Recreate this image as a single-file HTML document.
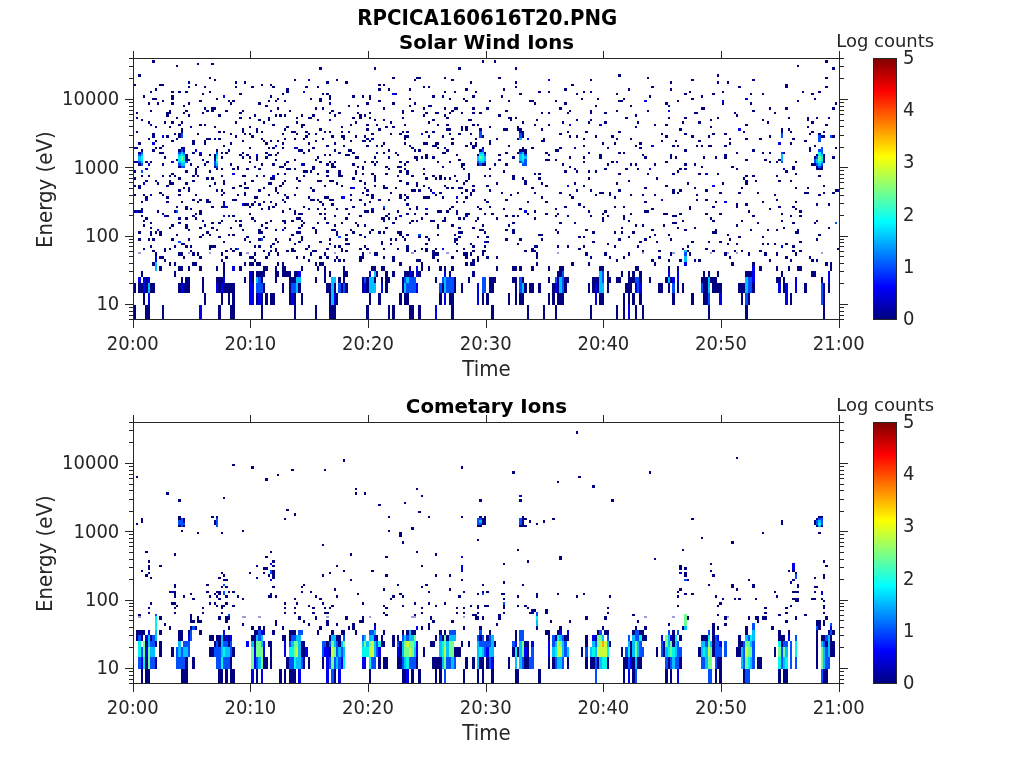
<!DOCTYPE html>
<html><head><meta charset="utf-8"><style>
html,body{margin:0;padding:0;background:#fff;}
svg{display:block}
.tl{font-family:'DejaVu Sans','Liberation Sans',sans-serif;font-size:18px;fill:#262626}
.lb{font-family:'DejaVu Sans','Liberation Sans',sans-serif;font-size:19.8px;fill:#262626}
.cl{font-family:'DejaVu Sans','Liberation Sans',sans-serif;font-size:18px;fill:#262626}
.tt{font-family:'DejaVu Sans','Liberation Sans',sans-serif;font-size:19.8px;font-weight:bold;fill:#000}
</style></head><body>
<svg width="1024" height="768" viewBox="0 0 1024 768" shape-rendering="crispEdges">
<defs><linearGradient id="jet" x1="0" y1="0" x2="0" y2="1"><stop offset="0.0000" stop-color="#800000"/><stop offset="0.0156" stop-color="#8f0000"/><stop offset="0.0312" stop-color="#9f0000"/><stop offset="0.0469" stop-color="#af0000"/><stop offset="0.0625" stop-color="#bf0000"/><stop offset="0.0781" stop-color="#cf0000"/><stop offset="0.0938" stop-color="#df0000"/><stop offset="0.1094" stop-color="#ef0000"/><stop offset="0.1250" stop-color="#ff0000"/><stop offset="0.1406" stop-color="#ff1000"/><stop offset="0.1562" stop-color="#ff2000"/><stop offset="0.1719" stop-color="#ff3000"/><stop offset="0.1875" stop-color="#ff4000"/><stop offset="0.2031" stop-color="#ff5000"/><stop offset="0.2188" stop-color="#ff6000"/><stop offset="0.2344" stop-color="#ff7000"/><stop offset="0.2500" stop-color="#ff8000"/><stop offset="0.2656" stop-color="#ff8f00"/><stop offset="0.2812" stop-color="#ff9f00"/><stop offset="0.2969" stop-color="#ffaf00"/><stop offset="0.3125" stop-color="#ffbf00"/><stop offset="0.3281" stop-color="#ffcf00"/><stop offset="0.3438" stop-color="#ffdf00"/><stop offset="0.3594" stop-color="#ffef00"/><stop offset="0.3750" stop-color="#ffff00"/><stop offset="0.3906" stop-color="#efff10"/><stop offset="0.4062" stop-color="#dfff20"/><stop offset="0.4219" stop-color="#cfff30"/><stop offset="0.4375" stop-color="#bfff40"/><stop offset="0.4531" stop-color="#afff50"/><stop offset="0.4688" stop-color="#9fff60"/><stop offset="0.4844" stop-color="#8fff70"/><stop offset="0.5000" stop-color="#80ff80"/><stop offset="0.5156" stop-color="#70ff8f"/><stop offset="0.5312" stop-color="#60ff9f"/><stop offset="0.5469" stop-color="#50ffaf"/><stop offset="0.5625" stop-color="#40ffbf"/><stop offset="0.5781" stop-color="#30ffcf"/><stop offset="0.5938" stop-color="#20ffdf"/><stop offset="0.6094" stop-color="#10ffef"/><stop offset="0.6250" stop-color="#00ffff"/><stop offset="0.6406" stop-color="#00efff"/><stop offset="0.6562" stop-color="#00dfff"/><stop offset="0.6719" stop-color="#00cfff"/><stop offset="0.6875" stop-color="#00bfff"/><stop offset="0.7031" stop-color="#00afff"/><stop offset="0.7188" stop-color="#009fff"/><stop offset="0.7344" stop-color="#008fff"/><stop offset="0.7500" stop-color="#0080ff"/><stop offset="0.7656" stop-color="#0070ff"/><stop offset="0.7812" stop-color="#0060ff"/><stop offset="0.7969" stop-color="#0050ff"/><stop offset="0.8125" stop-color="#0040ff"/><stop offset="0.8281" stop-color="#0030ff"/><stop offset="0.8438" stop-color="#0020ff"/><stop offset="0.8594" stop-color="#0010ff"/><stop offset="0.8750" stop-color="#0000ff"/><stop offset="0.8906" stop-color="#0000ef"/><stop offset="0.9062" stop-color="#0000df"/><stop offset="0.9219" stop-color="#0000cf"/><stop offset="0.9375" stop-color="#0000bf"/><stop offset="0.9531" stop-color="#0000af"/><stop offset="0.9688" stop-color="#00009f"/><stop offset="0.9844" stop-color="#00008f"/><stop offset="1.0000" stop-color="#000080"/></linearGradient></defs>
<rect width="1024" height="768" fill="#fff"/>
<g id="data0" shape-rendering="crispEdges"><g><rect x="821" y="252" width="2" height="2" fill="#9c9cd6"/><rect x="736" y="252" width="2" height="2" fill="#9c9cd6"/><rect x="727" y="252" width="2" height="2" fill="#9c9cd6"/><rect x="710" y="252" width="2" height="2" fill="#9c9cd6"/><rect x="672" y="252" width="3" height="2" fill="#9c9cd6"/><rect x="642" y="252" width="2" height="2" fill="#9c9cd6"/><rect x="557" y="252" width="2" height="2" fill="#9c9cd6"/><rect x="446" y="252" width="3" height="2" fill="#9c9cd6"/><rect x="411" y="252" width="3" height="2" fill="#9c9cd6"/><rect x="369" y="252" width="2" height="2" fill="#9c9cd6"/><rect x="334" y="252" width="2" height="2" fill="#9c9cd6"/><rect x="246" y="252" width="3" height="2" fill="#9c9cd6"/><rect x="221" y="252" width="2" height="2" fill="#9c9cd6"/><rect x="209" y="252" width="2" height="2" fill="#9c9cd6"/><rect x="188" y="252" width="2" height="2" fill="#9c9cd6"/><rect x="138" y="252" width="3" height="2" fill="#9c9cd6"/><rect x="134" y="305" width="2" height="15" fill="#000080"/><rect x="145" y="305" width="5" height="15" fill="#000080"/><rect x="162" y="305" width="2" height="15" fill="#000080"/><rect x="199" y="305" width="3" height="15" fill="#0000f0"/><rect x="218" y="305" width="3" height="15" fill="#000080"/><rect x="230" y="305" width="5" height="15" fill="#000080"/><rect x="261" y="305" width="2" height="15" fill="#000080"/><rect x="294" y="305" width="2" height="15" fill="#000080"/><rect x="315" y="305" width="2" height="15" fill="#000080"/><rect x="329" y="305" width="7" height="15" fill="#000080"/><rect x="366" y="305" width="3" height="15" fill="#000080"/><rect x="388" y="305" width="2" height="15" fill="#000080"/><rect x="392" y="305" width="3" height="15" fill="#000080"/><rect x="409" y="305" width="5" height="15" fill="#000080"/><rect x="418" y="305" width="3" height="15" fill="#000080"/><rect x="435" y="305" width="2" height="15" fill="#0000f0"/><rect x="451" y="305" width="3" height="15" fill="#000080"/><rect x="491" y="305" width="3" height="15" fill="#000080"/><rect x="527" y="305" width="2" height="15" fill="#000080"/><rect x="543" y="305" width="2" height="15" fill="#000080"/><rect x="555" y="305" width="2" height="15" fill="#000080"/><rect x="590" y="305" width="2" height="15" fill="#000080"/><rect x="616" y="305" width="2" height="15" fill="#000080"/><rect x="623" y="305" width="2" height="15" fill="#000080"/><rect x="628" y="305" width="2" height="15" fill="#0000f0"/><rect x="635" y="305" width="2" height="15" fill="#000080"/><rect x="642" y="305" width="2" height="15" fill="#000080"/><rect x="708" y="305" width="2" height="15" fill="#000080"/><rect x="745" y="305" width="3" height="15" fill="#000080"/><rect x="823" y="305" width="2" height="15" fill="#000080"/><rect x="143" y="293" width="2" height="12" fill="#000080"/><rect x="148" y="293" width="2" height="12" fill="#0000f0"/><rect x="204" y="293" width="2" height="12" fill="#000080"/><rect x="221" y="293" width="2" height="12" fill="#000080"/><rect x="228" y="293" width="2" height="12" fill="#000080"/><rect x="232" y="293" width="3" height="12" fill="#000080"/><rect x="249" y="293" width="5" height="12" fill="#0000f0"/><rect x="256" y="293" width="2" height="12" fill="#000080"/><rect x="258" y="293" width="3" height="12" fill="#0000f0"/><rect x="261" y="293" width="2" height="12" fill="#000080"/><rect x="265" y="293" width="3" height="12" fill="#000080"/><rect x="270" y="293" width="5" height="12" fill="#000080"/><rect x="289" y="293" width="2" height="12" fill="#000080"/><rect x="291" y="293" width="3" height="12" fill="#0000f0"/><rect x="294" y="293" width="2" height="12" fill="#000080"/><rect x="301" y="293" width="2" height="12" fill="#000080"/><rect x="329" y="293" width="2" height="12" fill="#000080"/><rect x="331" y="293" width="3" height="12" fill="#00c0ff"/><rect x="334" y="293" width="2" height="12" fill="#0000f0"/><rect x="336" y="293" width="2" height="12" fill="#000080"/><rect x="369" y="293" width="2" height="12" fill="#000080"/><rect x="378" y="293" width="3" height="12" fill="#000080"/><rect x="399" y="293" width="3" height="12" fill="#000080"/><rect x="404" y="293" width="5" height="12" fill="#000080"/><rect x="439" y="293" width="3" height="12" fill="#000080"/><rect x="444" y="293" width="2" height="12" fill="#0000f0"/><rect x="449" y="293" width="5" height="12" fill="#000080"/><rect x="477" y="293" width="2" height="12" fill="#0000f0"/><rect x="482" y="293" width="2" height="12" fill="#000080"/><rect x="486" y="293" width="3" height="12" fill="#000080"/><rect x="508" y="293" width="2" height="12" fill="#000080"/><rect x="515" y="293" width="2" height="12" fill="#000080"/><rect x="519" y="293" width="5" height="12" fill="#000080"/><rect x="548" y="293" width="2" height="12" fill="#000080"/><rect x="552" y="293" width="3" height="12" fill="#000080"/><rect x="557" y="293" width="7" height="12" fill="#000080"/><rect x="595" y="293" width="2" height="12" fill="#0000f0"/><rect x="599" y="293" width="5" height="12" fill="#000080"/><rect x="623" y="293" width="2" height="12" fill="#000080"/><rect x="628" y="293" width="2" height="12" fill="#000080"/><rect x="632" y="293" width="3" height="12" fill="#000080"/><rect x="639" y="293" width="3" height="12" fill="#000080"/><rect x="672" y="293" width="3" height="12" fill="#000080"/><rect x="691" y="293" width="3" height="12" fill="#000080"/><rect x="703" y="293" width="5" height="12" fill="#000080"/><rect x="708" y="293" width="2" height="12" fill="#0050ff"/><rect x="719" y="293" width="3" height="12" fill="#0000f0"/><rect x="741" y="293" width="2" height="12" fill="#000080"/><rect x="745" y="293" width="3" height="12" fill="#0050ff"/><rect x="748" y="293" width="2" height="12" fill="#000080"/><rect x="785" y="293" width="3" height="12" fill="#0000f0"/><rect x="790" y="293" width="2" height="12" fill="#000080"/><rect x="821" y="293" width="2" height="12" fill="#0050ff"/><rect x="823" y="293" width="2" height="12" fill="#000080"/><rect x="134" y="283" width="2" height="10" fill="#000080"/><rect x="138" y="283" width="5" height="10" fill="#000080"/><rect x="143" y="283" width="2" height="10" fill="#0000f0"/><rect x="145" y="283" width="3" height="10" fill="#000080"/><rect x="148" y="283" width="2" height="10" fill="#00c0ff"/><rect x="150" y="283" width="5" height="10" fill="#000080"/><rect x="178" y="283" width="3" height="10" fill="#000080"/><rect x="181" y="283" width="2" height="10" fill="#0000f0"/><rect x="183" y="283" width="7" height="10" fill="#000080"/><rect x="202" y="283" width="2" height="10" fill="#000080"/><rect x="216" y="283" width="2" height="10" fill="#0000f0"/><rect x="218" y="283" width="3" height="10" fill="#000080"/><rect x="221" y="283" width="2" height="10" fill="#0000f0"/><rect x="223" y="283" width="12" height="10" fill="#000080"/><rect x="249" y="283" width="5" height="10" fill="#0000f0"/><rect x="256" y="283" width="7" height="10" fill="#0050ff"/><rect x="263" y="283" width="2" height="10" fill="#000080"/><rect x="282" y="283" width="2" height="10" fill="#000080"/><rect x="289" y="283" width="2" height="10" fill="#000080"/><rect x="291" y="283" width="5" height="10" fill="#0050ff"/><rect x="296" y="283" width="2" height="10" fill="#00c0ff"/><rect x="298" y="283" width="3" height="10" fill="#000080"/><rect x="326" y="283" width="5" height="10" fill="#000080"/><rect x="331" y="283" width="3" height="10" fill="#00c0ff"/><rect x="334" y="283" width="2" height="10" fill="#000080"/><rect x="338" y="283" width="3" height="10" fill="#0050ff"/><rect x="341" y="283" width="2" height="10" fill="#000080"/><rect x="343" y="283" width="2" height="10" fill="#0050ff"/><rect x="345" y="283" width="3" height="10" fill="#000080"/><rect x="362" y="283" width="2" height="10" fill="#000080"/><rect x="364" y="283" width="2" height="10" fill="#0000f0"/><rect x="366" y="283" width="3" height="10" fill="#000080"/><rect x="369" y="283" width="7" height="10" fill="#00c0ff"/><rect x="381" y="283" width="2" height="10" fill="#0000f0"/><rect x="385" y="283" width="3" height="10" fill="#000080"/><rect x="402" y="283" width="2" height="10" fill="#000080"/><rect x="404" y="283" width="2" height="10" fill="#00c0ff"/><rect x="406" y="283" width="10" height="10" fill="#0050ff"/><rect x="416" y="283" width="2" height="10" fill="#0000f0"/><rect x="439" y="283" width="3" height="10" fill="#0050ff"/><rect x="442" y="283" width="2" height="10" fill="#000080"/><rect x="444" y="283" width="2" height="10" fill="#00c0ff"/><rect x="446" y="283" width="8" height="10" fill="#0050ff"/><rect x="454" y="283" width="2" height="10" fill="#000080"/><rect x="461" y="283" width="2" height="10" fill="#000080"/><rect x="477" y="283" width="2" height="10" fill="#0000f0"/><rect x="482" y="283" width="4" height="10" fill="#0050ff"/><rect x="489" y="283" width="5" height="10" fill="#000080"/><rect x="515" y="283" width="2" height="10" fill="#000080"/><rect x="519" y="283" width="3" height="10" fill="#0050ff"/><rect x="522" y="283" width="2" height="10" fill="#00c0ff"/><rect x="524" y="283" width="3" height="10" fill="#000080"/><rect x="529" y="283" width="5" height="10" fill="#000080"/><rect x="538" y="283" width="3" height="10" fill="#000080"/><rect x="552" y="283" width="3" height="10" fill="#000080"/><rect x="555" y="283" width="2" height="10" fill="#0000f0"/><rect x="557" y="283" width="2" height="10" fill="#000080"/><rect x="559" y="283" width="3" height="10" fill="#00c0ff"/><rect x="562" y="283" width="2" height="10" fill="#0050ff"/><rect x="564" y="283" width="3" height="10" fill="#000080"/><rect x="588" y="283" width="2" height="10" fill="#000080"/><rect x="592" y="283" width="3" height="10" fill="#000080"/><rect x="595" y="283" width="2" height="10" fill="#0000f0"/><rect x="597" y="283" width="2" height="10" fill="#000080"/><rect x="599" y="283" width="5" height="10" fill="#00c0ff"/><rect x="607" y="283" width="2" height="10" fill="#000080"/><rect x="625" y="283" width="7" height="10" fill="#000080"/><rect x="635" y="283" width="2" height="10" fill="#0000f0"/><rect x="637" y="283" width="2" height="10" fill="#0050ff"/><rect x="639" y="283" width="3" height="10" fill="#0000f0"/><rect x="658" y="283" width="5" height="10" fill="#000080"/><rect x="668" y="283" width="2" height="10" fill="#000080"/><rect x="672" y="283" width="3" height="10" fill="#0050ff"/><rect x="677" y="283" width="2" height="10" fill="#000080"/><rect x="682" y="283" width="2" height="10" fill="#000080"/><rect x="701" y="283" width="2" height="10" fill="#0050ff"/><rect x="703" y="283" width="5" height="10" fill="#000080"/><rect x="708" y="283" width="2" height="10" fill="#00c0ff"/><rect x="712" y="283" width="10" height="10" fill="#000080"/><rect x="738" y="283" width="7" height="10" fill="#000080"/><rect x="745" y="283" width="3" height="10" fill="#00c0ff"/><rect x="748" y="283" width="4" height="10" fill="#0050ff"/><rect x="752" y="283" width="3" height="10" fill="#000080"/><rect x="778" y="283" width="3" height="10" fill="#0000f0"/><rect x="783" y="283" width="2" height="10" fill="#000080"/><rect x="785" y="283" width="3" height="10" fill="#0000f0"/><rect x="795" y="283" width="2" height="10" fill="#0000f0"/><rect x="804" y="283" width="3" height="10" fill="#000080"/><rect x="821" y="283" width="2" height="10" fill="#0050ff"/><rect x="823" y="283" width="2" height="10" fill="#000080"/><rect x="828" y="283" width="2" height="10" fill="#000080"/><rect x="138" y="277" width="3" height="6" fill="#0000f0"/><rect x="143" y="277" width="2" height="6" fill="#0000f0"/><rect x="145" y="277" width="3" height="6" fill="#000080"/><rect x="148" y="277" width="2" height="6" fill="#0000f0"/><rect x="181" y="277" width="2" height="6" fill="#000080"/><rect x="185" y="277" width="5" height="6" fill="#000080"/><rect x="202" y="277" width="2" height="6" fill="#000080"/><rect x="216" y="277" width="7" height="6" fill="#000080"/><rect x="223" y="277" width="2" height="6" fill="#0000f0"/><rect x="244" y="277" width="2" height="6" fill="#000080"/><rect x="249" y="277" width="2" height="6" fill="#0000f0"/><rect x="251" y="277" width="3" height="6" fill="#000080"/><rect x="256" y="277" width="2" height="6" fill="#00c0ff"/><rect x="258" y="277" width="3" height="6" fill="#0050ff"/><rect x="261" y="277" width="2" height="6" fill="#000080"/><rect x="275" y="277" width="2" height="6" fill="#000080"/><rect x="289" y="277" width="7" height="6" fill="#000080"/><rect x="296" y="277" width="5" height="6" fill="#00c0ff"/><rect x="315" y="277" width="2" height="6" fill="#000080"/><rect x="324" y="277" width="2" height="6" fill="#000080"/><rect x="331" y="277" width="5" height="6" fill="#00c0ff"/><rect x="338" y="277" width="3" height="6" fill="#000080"/><rect x="343" y="277" width="2" height="6" fill="#000080"/><rect x="362" y="277" width="2" height="6" fill="#000080"/><rect x="364" y="277" width="2" height="6" fill="#0050ff"/><rect x="366" y="277" width="3" height="6" fill="#000080"/><rect x="369" y="277" width="5" height="6" fill="#00c0ff"/><rect x="374" y="277" width="2" height="6" fill="#000080"/><rect x="381" y="277" width="2" height="6" fill="#000080"/><rect x="385" y="277" width="5" height="6" fill="#000080"/><rect x="402" y="277" width="2" height="6" fill="#000080"/><rect x="404" y="277" width="2" height="6" fill="#0050ff"/><rect x="406" y="277" width="3" height="6" fill="#00c0ff"/><rect x="409" y="277" width="7" height="6" fill="#0050ff"/><rect x="435" y="277" width="2" height="6" fill="#000080"/><rect x="442" y="277" width="2" height="6" fill="#0050ff"/><rect x="444" y="277" width="2" height="6" fill="#00c0ff"/><rect x="446" y="277" width="8" height="6" fill="#0050ff"/><rect x="454" y="277" width="2" height="6" fill="#000080"/><rect x="468" y="277" width="2" height="6" fill="#000080"/><rect x="482" y="277" width="4" height="6" fill="#0050ff"/><rect x="489" y="277" width="7" height="6" fill="#000080"/><rect x="512" y="277" width="5" height="6" fill="#000080"/><rect x="519" y="277" width="3" height="6" fill="#0050ff"/><rect x="522" y="277" width="2" height="6" fill="#000080"/><rect x="548" y="277" width="2" height="6" fill="#000080"/><rect x="555" y="277" width="2" height="6" fill="#0050ff"/><rect x="557" y="277" width="2" height="6" fill="#000080"/><rect x="559" y="277" width="3" height="6" fill="#00c0ff"/><rect x="562" y="277" width="2" height="6" fill="#0050ff"/><rect x="564" y="277" width="5" height="6" fill="#000080"/><rect x="592" y="277" width="7" height="6" fill="#000080"/><rect x="599" y="277" width="3" height="6" fill="#00c0ff"/><rect x="602" y="277" width="2" height="6" fill="#0050ff"/><rect x="607" y="277" width="4" height="6" fill="#000080"/><rect x="616" y="277" width="5" height="6" fill="#000080"/><rect x="628" y="277" width="7" height="6" fill="#000080"/><rect x="635" y="277" width="4" height="6" fill="#0050ff"/><rect x="639" y="277" width="3" height="6" fill="#000080"/><rect x="649" y="277" width="2" height="6" fill="#000080"/><rect x="665" y="277" width="3" height="6" fill="#000080"/><rect x="668" y="277" width="2" height="6" fill="#00c0ff"/><rect x="670" y="277" width="2" height="6" fill="#000080"/><rect x="672" y="277" width="3" height="6" fill="#0000f0"/><rect x="677" y="277" width="2" height="6" fill="#0000f0"/><rect x="701" y="277" width="7" height="6" fill="#000080"/><rect x="708" y="277" width="2" height="6" fill="#00c0ff"/><rect x="710" y="277" width="7" height="6" fill="#000080"/><rect x="745" y="277" width="3" height="6" fill="#00c0ff"/><rect x="748" y="277" width="4" height="6" fill="#0050ff"/><rect x="752" y="277" width="3" height="6" fill="#0000f0"/><rect x="776" y="277" width="5" height="6" fill="#000080"/><rect x="783" y="277" width="2" height="6" fill="#000080"/><rect x="795" y="277" width="2" height="6" fill="#0000f0"/><rect x="821" y="277" width="2" height="6" fill="#000080"/><rect x="828" y="277" width="2" height="6" fill="#0000f0"/><rect x="141" y="271" width="2" height="6" fill="#000080"/><rect x="174" y="271" width="2" height="6" fill="#000080"/><rect x="223" y="271" width="2" height="6" fill="#000080"/><rect x="249" y="271" width="2" height="6" fill="#0000f0"/><rect x="251" y="271" width="3" height="6" fill="#000080"/><rect x="256" y="271" width="9" height="6" fill="#000080"/><rect x="275" y="271" width="4" height="6" fill="#000080"/><rect x="282" y="271" width="9" height="6" fill="#000080"/><rect x="294" y="271" width="4" height="6" fill="#000080"/><rect x="298" y="271" width="3" height="6" fill="#0000f0"/><rect x="324" y="271" width="2" height="6" fill="#000080"/><rect x="329" y="271" width="2" height="6" fill="#000080"/><rect x="343" y="271" width="5" height="6" fill="#000080"/><rect x="369" y="271" width="2" height="6" fill="#0000f0"/><rect x="374" y="271" width="2" height="6" fill="#00c0ff"/><rect x="376" y="271" width="2" height="6" fill="#000080"/><rect x="385" y="271" width="3" height="6" fill="#000080"/><rect x="392" y="271" width="3" height="6" fill="#000080"/><rect x="404" y="271" width="5" height="6" fill="#000080"/><rect x="409" y="271" width="2" height="6" fill="#0000f0"/><rect x="411" y="271" width="3" height="6" fill="#000080"/><rect x="416" y="271" width="2" height="6" fill="#0000f0"/><rect x="418" y="271" width="3" height="6" fill="#000080"/><rect x="444" y="271" width="2" height="6" fill="#0000f0"/><rect x="449" y="271" width="2" height="6" fill="#000080"/><rect x="472" y="271" width="3" height="6" fill="#000080"/><rect x="557" y="271" width="5" height="6" fill="#000080"/><rect x="562" y="271" width="2" height="6" fill="#0050ff"/><rect x="599" y="271" width="3" height="6" fill="#00c0ff"/><rect x="602" y="271" width="2" height="6" fill="#0050ff"/><rect x="607" y="271" width="2" height="6" fill="#000080"/><rect x="621" y="271" width="2" height="6" fill="#000080"/><rect x="628" y="271" width="2" height="6" fill="#000080"/><rect x="632" y="271" width="3" height="6" fill="#000080"/><rect x="639" y="271" width="3" height="6" fill="#000080"/><rect x="668" y="271" width="2" height="6" fill="#0000f0"/><rect x="677" y="271" width="2" height="6" fill="#0000f0"/><rect x="703" y="271" width="2" height="6" fill="#000080"/><rect x="708" y="271" width="2" height="6" fill="#000080"/><rect x="717" y="271" width="2" height="6" fill="#000080"/><rect x="745" y="271" width="7" height="6" fill="#000080"/><rect x="752" y="271" width="3" height="6" fill="#0000f0"/><rect x="781" y="271" width="2" height="6" fill="#000080"/><rect x="811" y="271" width="5" height="6" fill="#000080"/><rect x="828" y="271" width="2" height="6" fill="#0000f0"/><rect x="155" y="266" width="2" height="5" fill="#00c0ff"/><rect x="159" y="266" width="3" height="5" fill="#000080"/><rect x="178" y="266" width="5" height="5" fill="#000080"/><rect x="188" y="266" width="2" height="5" fill="#000080"/><rect x="199" y="266" width="3" height="5" fill="#000080"/><rect x="216" y="266" width="2" height="5" fill="#000080"/><rect x="223" y="266" width="2" height="5" fill="#000080"/><rect x="232" y="266" width="3" height="5" fill="#0000f0"/><rect x="239" y="266" width="3" height="5" fill="#000080"/><rect x="263" y="266" width="5" height="5" fill="#000080"/><rect x="275" y="266" width="2" height="5" fill="#000080"/><rect x="282" y="266" width="4" height="5" fill="#000080"/><rect x="301" y="266" width="2" height="5" fill="#000080"/><rect x="317" y="266" width="2" height="5" fill="#000080"/><rect x="324" y="266" width="2" height="5" fill="#000080"/><rect x="343" y="266" width="2" height="5" fill="#000080"/><rect x="371" y="266" width="5" height="5" fill="#000080"/><rect x="381" y="266" width="4" height="5" fill="#000080"/><rect x="409" y="266" width="2" height="5" fill="#000080"/><rect x="416" y="266" width="2" height="5" fill="#0000f0"/><rect x="421" y="266" width="2" height="5" fill="#000080"/><rect x="428" y="266" width="2" height="5" fill="#000080"/><rect x="439" y="266" width="3" height="5" fill="#000080"/><rect x="444" y="266" width="2" height="5" fill="#000080"/><rect x="451" y="266" width="3" height="5" fill="#000080"/><rect x="496" y="266" width="2" height="5" fill="#000080"/><rect x="512" y="266" width="5" height="5" fill="#000080"/><rect x="519" y="266" width="3" height="5" fill="#000080"/><rect x="531" y="266" width="3" height="5" fill="#000080"/><rect x="548" y="266" width="2" height="5" fill="#000080"/><rect x="559" y="266" width="5" height="5" fill="#000080"/><rect x="599" y="266" width="5" height="5" fill="#000080"/><rect x="635" y="266" width="4" height="5" fill="#000080"/><rect x="668" y="266" width="2" height="5" fill="#000080"/><rect x="677" y="266" width="2" height="5" fill="#000080"/><rect x="752" y="266" width="3" height="5" fill="#0000f0"/><rect x="759" y="266" width="3" height="5" fill="#000080"/><rect x="776" y="266" width="2" height="5" fill="#000080"/><rect x="788" y="266" width="2" height="5" fill="#000080"/><rect x="797" y="266" width="5" height="5" fill="#000080"/><rect x="830" y="266" width="2" height="5" fill="#000080"/><rect x="152" y="262" width="3" height="4" fill="#000080"/><rect x="155" y="262" width="2" height="4" fill="#00c0ff"/><rect x="169" y="262" width="2" height="4" fill="#000080"/><rect x="174" y="262" width="2" height="4" fill="#000080"/><rect x="192" y="262" width="5" height="4" fill="#000080"/><rect x="223" y="262" width="2" height="4" fill="#000080"/><rect x="244" y="262" width="2" height="4" fill="#000080"/><rect x="249" y="262" width="5" height="4" fill="#000080"/><rect x="256" y="262" width="5" height="4" fill="#000080"/><rect x="277" y="262" width="2" height="4" fill="#000080"/><rect x="282" y="262" width="2" height="4" fill="#000080"/><rect x="315" y="262" width="2" height="4" fill="#000080"/><rect x="319" y="262" width="5" height="4" fill="#000080"/><rect x="399" y="262" width="3" height="4" fill="#000080"/><rect x="421" y="262" width="2" height="4" fill="#000080"/><rect x="465" y="262" width="3" height="4" fill="#000080"/><rect x="470" y="262" width="5" height="4" fill="#000080"/><rect x="536" y="262" width="2" height="4" fill="#000080"/><rect x="571" y="262" width="3" height="4" fill="#000080"/><rect x="588" y="262" width="2" height="4" fill="#000080"/><rect x="654" y="262" width="2" height="4" fill="#000080"/><rect x="684" y="262" width="3" height="4" fill="#0000f0"/><rect x="731" y="262" width="3" height="4" fill="#000080"/><rect x="752" y="262" width="3" height="4" fill="#000080"/><rect x="825" y="262" width="3" height="4" fill="#000080"/><rect x="830" y="262" width="2" height="4" fill="#000080"/><rect x="155" y="259" width="2" height="3" fill="#0000f0"/><rect x="164" y="259" width="2" height="3" fill="#000080"/><rect x="221" y="259" width="2" height="3" fill="#000080"/><rect x="254" y="259" width="2" height="3" fill="#000080"/><rect x="308" y="259" width="2" height="3" fill="#000080"/><rect x="334" y="259" width="2" height="3" fill="#000080"/><rect x="338" y="259" width="3" height="3" fill="#000080"/><rect x="343" y="259" width="2" height="3" fill="#000080"/><rect x="359" y="259" width="3" height="3" fill="#000080"/><rect x="392" y="259" width="3" height="3" fill="#000080"/><rect x="416" y="259" width="5" height="3" fill="#000080"/><rect x="437" y="259" width="2" height="3" fill="#000080"/><rect x="472" y="259" width="3" height="3" fill="#000080"/><rect x="477" y="259" width="2" height="3" fill="#000080"/><rect x="616" y="259" width="2" height="3" fill="#000080"/><rect x="651" y="259" width="3" height="3" fill="#000080"/><rect x="668" y="259" width="2" height="3" fill="#000080"/><rect x="679" y="259" width="3" height="3" fill="#000080"/><rect x="684" y="259" width="3" height="3" fill="#00c0ff"/><rect x="694" y="259" width="2" height="3" fill="#000080"/><rect x="698" y="259" width="3" height="3" fill="#000080"/><rect x="769" y="259" width="2" height="3" fill="#000080"/><rect x="790" y="259" width="2" height="3" fill="#000080"/><rect x="811" y="259" width="3" height="3" fill="#000080"/><rect x="816" y="259" width="2" height="3" fill="#000080"/><rect x="155" y="256" width="2" height="3" fill="#0000f0"/><rect x="159" y="256" width="5" height="3" fill="#000080"/><rect x="183" y="256" width="2" height="3" fill="#000080"/><rect x="199" y="256" width="3" height="3" fill="#000080"/><rect x="225" y="256" width="3" height="3" fill="#000080"/><rect x="249" y="256" width="5" height="3" fill="#000080"/><rect x="265" y="256" width="3" height="3" fill="#000080"/><rect x="296" y="256" width="2" height="3" fill="#000080"/><rect x="303" y="256" width="2" height="3" fill="#000080"/><rect x="319" y="256" width="3" height="3" fill="#000080"/><rect x="326" y="256" width="3" height="3" fill="#000080"/><rect x="336" y="256" width="2" height="3" fill="#000080"/><rect x="359" y="256" width="5" height="3" fill="#000080"/><rect x="383" y="256" width="2" height="3" fill="#000080"/><rect x="392" y="256" width="3" height="3" fill="#000080"/><rect x="432" y="256" width="3" height="3" fill="#000080"/><rect x="451" y="256" width="3" height="3" fill="#000080"/><rect x="465" y="256" width="3" height="3" fill="#000080"/><rect x="477" y="256" width="2" height="3" fill="#000080"/><rect x="486" y="256" width="3" height="3" fill="#000080"/><rect x="496" y="256" width="2" height="3" fill="#000080"/><rect x="536" y="256" width="2" height="3" fill="#000080"/><rect x="590" y="256" width="2" height="3" fill="#000080"/><rect x="609" y="256" width="2" height="3" fill="#000080"/><rect x="623" y="256" width="2" height="3" fill="#000080"/><rect x="658" y="256" width="3" height="3" fill="#000080"/><rect x="684" y="256" width="3" height="3" fill="#00c0ff"/><rect x="729" y="256" width="2" height="3" fill="#000080"/><rect x="785" y="256" width="3" height="3" fill="#000080"/><rect x="809" y="256" width="2" height="3" fill="#000080"/><rect x="155" y="252" width="2" height="4" fill="#000080"/><rect x="178" y="252" width="5" height="4" fill="#000080"/><rect x="192" y="252" width="3" height="4" fill="#000080"/><rect x="197" y="252" width="2" height="4" fill="#000080"/><rect x="221" y="252" width="2" height="4" fill="#000080"/><rect x="239" y="252" width="3" height="4" fill="#000080"/><rect x="254" y="252" width="2" height="4" fill="#000080"/><rect x="268" y="252" width="2" height="4" fill="#000080"/><rect x="277" y="252" width="2" height="4" fill="#000080"/><rect x="310" y="252" width="2" height="4" fill="#000080"/><rect x="324" y="252" width="2" height="4" fill="#000080"/><rect x="362" y="252" width="2" height="4" fill="#000080"/><rect x="374" y="252" width="4" height="4" fill="#000080"/><rect x="432" y="252" width="7" height="4" fill="#000080"/><rect x="463" y="252" width="5" height="4" fill="#000080"/><rect x="470" y="252" width="2" height="4" fill="#000080"/><rect x="482" y="252" width="2" height="4" fill="#000080"/><rect x="536" y="252" width="2" height="4" fill="#000080"/><rect x="585" y="252" width="3" height="4" fill="#000080"/><rect x="604" y="252" width="3" height="4" fill="#000080"/><rect x="628" y="252" width="2" height="4" fill="#000080"/><rect x="670" y="252" width="2" height="4" fill="#000080"/><rect x="684" y="252" width="3" height="4" fill="#0050ff"/><rect x="689" y="252" width="2" height="4" fill="#000080"/><rect x="724" y="252" width="3" height="4" fill="#000080"/><rect x="748" y="252" width="2" height="4" fill="#000080"/><rect x="764" y="252" width="3" height="4" fill="#000080"/><rect x="776" y="252" width="2" height="4" fill="#000080"/><rect x="795" y="252" width="2" height="4" fill="#000080"/><rect x="152" y="250" width="3" height="2" fill="#000080"/><rect x="164" y="250" width="2" height="2" fill="#000080"/><rect x="190" y="250" width="2" height="2" fill="#000080"/><rect x="225" y="250" width="3" height="2" fill="#000080"/><rect x="232" y="250" width="3" height="2" fill="#000080"/><rect x="263" y="250" width="2" height="2" fill="#000080"/><rect x="270" y="250" width="2" height="2" fill="#000080"/><rect x="275" y="250" width="2" height="2" fill="#000080"/><rect x="286" y="250" width="3" height="2" fill="#000080"/><rect x="291" y="250" width="5" height="2" fill="#000080"/><rect x="312" y="250" width="5" height="2" fill="#000080"/><rect x="341" y="250" width="2" height="2" fill="#000080"/><rect x="345" y="250" width="3" height="2" fill="#000080"/><rect x="406" y="250" width="3" height="2" fill="#000080"/><rect x="414" y="250" width="2" height="2" fill="#000080"/><rect x="425" y="250" width="3" height="2" fill="#000080"/><rect x="432" y="250" width="3" height="2" fill="#000080"/><rect x="456" y="250" width="2" height="2" fill="#000080"/><rect x="472" y="250" width="3" height="2" fill="#000080"/><rect x="482" y="250" width="4" height="2" fill="#000080"/><rect x="524" y="250" width="3" height="2" fill="#000080"/><rect x="531" y="250" width="5" height="2" fill="#000080"/><rect x="642" y="250" width="2" height="2" fill="#000080"/><rect x="658" y="250" width="3" height="2" fill="#000080"/><rect x="684" y="250" width="3" height="2" fill="#00c0ff"/><rect x="687" y="250" width="2" height="2" fill="#000080"/><rect x="712" y="250" width="3" height="2" fill="#000080"/><rect x="734" y="250" width="2" height="2" fill="#000080"/><rect x="741" y="250" width="2" height="2" fill="#000080"/><rect x="759" y="250" width="3" height="2" fill="#000080"/><rect x="792" y="250" width="3" height="2" fill="#000080"/><rect x="799" y="250" width="3" height="2" fill="#000080"/><rect x="145" y="168" width="3" height="2" fill="#0000f0"/><rect x="195" y="168" width="2" height="2" fill="#000080"/><rect x="216" y="168" width="2" height="2" fill="#000080"/><rect x="221" y="168" width="2" height="2" fill="#000080"/><rect x="232" y="168" width="3" height="2" fill="#000080"/><rect x="237" y="168" width="2" height="2" fill="#000080"/><rect x="246" y="168" width="3" height="2" fill="#000080"/><rect x="258" y="168" width="3" height="2" fill="#000080"/><rect x="286" y="168" width="5" height="2" fill="#000080"/><rect x="294" y="168" width="2" height="2" fill="#000080"/><rect x="312" y="168" width="3" height="2" fill="#000080"/><rect x="362" y="168" width="2" height="2" fill="#000080"/><rect x="388" y="168" width="2" height="2" fill="#000080"/><rect x="404" y="168" width="2" height="2" fill="#000080"/><rect x="423" y="168" width="2" height="2" fill="#000080"/><rect x="463" y="168" width="2" height="2" fill="#000080"/><rect x="489" y="168" width="2" height="2" fill="#000080"/><rect x="574" y="168" width="2" height="2" fill="#000080"/><rect x="604" y="168" width="3" height="2" fill="#000080"/><rect x="625" y="168" width="3" height="2" fill="#000080"/><rect x="637" y="168" width="2" height="2" fill="#000080"/><rect x="649" y="168" width="2" height="2" fill="#0000f0"/><rect x="679" y="168" width="3" height="2" fill="#000080"/><rect x="684" y="168" width="3" height="2" fill="#000080"/><rect x="736" y="168" width="2" height="2" fill="#000080"/><rect x="783" y="168" width="2" height="2" fill="#0000f0"/><rect x="792" y="168" width="3" height="2" fill="#000080"/><rect x="816" y="168" width="7" height="2" fill="#000080"/><rect x="178" y="166" width="3" height="2" fill="#000080"/><rect x="181" y="166" width="4" height="2" fill="#0050ff"/><rect x="197" y="166" width="2" height="2" fill="#000080"/><rect x="214" y="166" width="2" height="2" fill="#000080"/><rect x="216" y="166" width="2" height="2" fill="#0050ff"/><rect x="237" y="166" width="2" height="2" fill="#000080"/><rect x="254" y="166" width="2" height="2" fill="#000080"/><rect x="279" y="166" width="5" height="2" fill="#000080"/><rect x="312" y="166" width="3" height="2" fill="#000080"/><rect x="331" y="166" width="5" height="2" fill="#000080"/><rect x="357" y="166" width="2" height="2" fill="#000080"/><rect x="362" y="166" width="2" height="2" fill="#000080"/><rect x="385" y="166" width="3" height="2" fill="#000080"/><rect x="397" y="166" width="5" height="2" fill="#000080"/><rect x="442" y="166" width="2" height="2" fill="#000080"/><rect x="461" y="166" width="2" height="2" fill="#000080"/><rect x="569" y="166" width="2" height="2" fill="#000080"/><rect x="701" y="166" width="2" height="2" fill="#000080"/><rect x="731" y="166" width="3" height="2" fill="#000080"/><rect x="792" y="166" width="3" height="2" fill="#000080"/><rect x="816" y="166" width="2" height="2" fill="#000080"/><rect x="818" y="166" width="3" height="2" fill="#0050ff"/><rect x="821" y="166" width="2" height="2" fill="#000080"/><rect x="138" y="163" width="3" height="3" fill="#000080"/><rect x="141" y="163" width="2" height="3" fill="#0050ff"/><rect x="148" y="163" width="2" height="3" fill="#0000f0"/><rect x="162" y="163" width="2" height="3" fill="#000080"/><rect x="178" y="163" width="3" height="3" fill="#0050ff"/><rect x="181" y="163" width="4" height="3" fill="#00c0ff"/><rect x="190" y="163" width="2" height="3" fill="#000080"/><rect x="204" y="163" width="2" height="3" fill="#000080"/><rect x="214" y="163" width="2" height="3" fill="#0050ff"/><rect x="216" y="163" width="2" height="3" fill="#00c0ff"/><rect x="230" y="163" width="2" height="3" fill="#000080"/><rect x="261" y="163" width="2" height="3" fill="#000080"/><rect x="272" y="163" width="3" height="3" fill="#000080"/><rect x="284" y="163" width="2" height="3" fill="#000080"/><rect x="301" y="163" width="2" height="3" fill="#0000f0"/><rect x="303" y="163" width="2" height="3" fill="#000080"/><rect x="326" y="163" width="3" height="3" fill="#000080"/><rect x="331" y="163" width="3" height="3" fill="#000080"/><rect x="352" y="163" width="3" height="3" fill="#000080"/><rect x="374" y="163" width="2" height="3" fill="#000080"/><rect x="404" y="163" width="2" height="3" fill="#000080"/><rect x="461" y="163" width="4" height="3" fill="#000080"/><rect x="477" y="163" width="2" height="3" fill="#000080"/><rect x="479" y="163" width="3" height="3" fill="#0050ff"/><rect x="482" y="163" width="4" height="3" fill="#000080"/><rect x="494" y="163" width="2" height="3" fill="#000080"/><rect x="505" y="163" width="3" height="3" fill="#000080"/><rect x="522" y="163" width="5" height="3" fill="#0050ff"/><rect x="562" y="163" width="2" height="3" fill="#000080"/><rect x="607" y="163" width="2" height="3" fill="#000080"/><rect x="630" y="163" width="2" height="3" fill="#000080"/><rect x="635" y="163" width="2" height="3" fill="#000080"/><rect x="654" y="163" width="2" height="3" fill="#000080"/><rect x="684" y="163" width="3" height="3" fill="#000080"/><rect x="694" y="163" width="2" height="3" fill="#000080"/><rect x="811" y="163" width="5" height="3" fill="#000080"/><rect x="816" y="163" width="2" height="3" fill="#0050ff"/><rect x="818" y="163" width="3" height="3" fill="#00c0ff"/><rect x="821" y="163" width="2" height="3" fill="#0050ff"/><rect x="134" y="161" width="4" height="2" fill="#000080"/><rect x="138" y="161" width="3" height="2" fill="#0050ff"/><rect x="141" y="161" width="2" height="2" fill="#00c0ff"/><rect x="145" y="161" width="3" height="2" fill="#000080"/><rect x="150" y="161" width="2" height="2" fill="#000080"/><rect x="171" y="161" width="3" height="2" fill="#0000f0"/><rect x="178" y="161" width="3" height="2" fill="#00c0ff"/><rect x="181" y="161" width="4" height="2" fill="#00f8e8"/><rect x="185" y="161" width="3" height="2" fill="#0050ff"/><rect x="206" y="161" width="3" height="2" fill="#000080"/><rect x="214" y="161" width="2" height="2" fill="#0050ff"/><rect x="216" y="161" width="2" height="2" fill="#00f8e8"/><rect x="249" y="161" width="2" height="2" fill="#000080"/><rect x="286" y="161" width="3" height="2" fill="#000080"/><rect x="319" y="161" width="3" height="2" fill="#000080"/><rect x="329" y="161" width="2" height="2" fill="#000080"/><rect x="334" y="161" width="2" height="2" fill="#000080"/><rect x="364" y="161" width="2" height="2" fill="#000080"/><rect x="371" y="161" width="3" height="2" fill="#000080"/><rect x="376" y="161" width="2" height="2" fill="#000080"/><rect x="399" y="161" width="3" height="2" fill="#000080"/><rect x="406" y="161" width="3" height="2" fill="#000080"/><rect x="437" y="161" width="2" height="2" fill="#000080"/><rect x="449" y="161" width="2" height="2" fill="#000080"/><rect x="477" y="161" width="2" height="2" fill="#0050ff"/><rect x="479" y="161" width="5" height="2" fill="#00c0ff"/><rect x="484" y="161" width="2" height="2" fill="#0050ff"/><rect x="519" y="161" width="3" height="2" fill="#0050ff"/><rect x="522" y="161" width="2" height="2" fill="#00c0ff"/><rect x="524" y="161" width="3" height="2" fill="#0050ff"/><rect x="583" y="161" width="2" height="2" fill="#000080"/><rect x="611" y="161" width="3" height="2" fill="#000080"/><rect x="616" y="161" width="2" height="2" fill="#000080"/><rect x="665" y="161" width="3" height="2" fill="#000080"/><rect x="769" y="161" width="2" height="2" fill="#000080"/><rect x="776" y="161" width="2" height="2" fill="#000080"/><rect x="781" y="161" width="2" height="2" fill="#0050ff"/><rect x="795" y="161" width="2" height="2" fill="#000080"/><rect x="814" y="161" width="2" height="2" fill="#0050ff"/><rect x="816" y="161" width="2" height="2" fill="#00c0ff"/><rect x="818" y="161" width="3" height="2" fill="#00f8e8"/><rect x="821" y="161" width="2" height="2" fill="#00c0ff"/><rect x="823" y="161" width="2" height="2" fill="#000080"/><rect x="138" y="159" width="3" height="2" fill="#00c0ff"/><rect x="141" y="159" width="2" height="2" fill="#00f8e8"/><rect x="176" y="159" width="2" height="2" fill="#000080"/><rect x="178" y="159" width="3" height="2" fill="#00f8e8"/><rect x="181" y="159" width="2" height="2" fill="#70ff90"/><rect x="183" y="159" width="2" height="2" fill="#00f8e8"/><rect x="185" y="159" width="5" height="2" fill="#000080"/><rect x="202" y="159" width="2" height="2" fill="#000080"/><rect x="214" y="159" width="2" height="2" fill="#0000f0"/><rect x="216" y="159" width="2" height="2" fill="#70ff90"/><rect x="256" y="159" width="2" height="2" fill="#000080"/><rect x="275" y="159" width="2" height="2" fill="#000080"/><rect x="294" y="159" width="2" height="2" fill="#000080"/><rect x="315" y="159" width="2" height="2" fill="#000080"/><rect x="416" y="159" width="2" height="2" fill="#000080"/><rect x="458" y="159" width="3" height="2" fill="#000080"/><rect x="477" y="159" width="2" height="2" fill="#00c0ff"/><rect x="479" y="159" width="5" height="2" fill="#00f8e8"/><rect x="484" y="159" width="2" height="2" fill="#00c0ff"/><rect x="498" y="159" width="3" height="2" fill="#000080"/><rect x="519" y="159" width="3" height="2" fill="#00c0ff"/><rect x="522" y="159" width="2" height="2" fill="#00f8e8"/><rect x="524" y="159" width="3" height="2" fill="#0050ff"/><rect x="545" y="159" width="5" height="2" fill="#000080"/><rect x="555" y="159" width="2" height="2" fill="#000080"/><rect x="745" y="159" width="3" height="2" fill="#000080"/><rect x="764" y="159" width="3" height="2" fill="#000080"/><rect x="778" y="159" width="3" height="2" fill="#000080"/><rect x="781" y="159" width="2" height="2" fill="#00c0ff"/><rect x="814" y="159" width="2" height="2" fill="#0050ff"/><rect x="816" y="159" width="2" height="2" fill="#00c0ff"/><rect x="818" y="159" width="3" height="2" fill="#70ff90"/><rect x="821" y="159" width="2" height="2" fill="#00f8e8"/><rect x="823" y="159" width="2" height="2" fill="#000080"/><rect x="138" y="156" width="3" height="3" fill="#00c0ff"/><rect x="141" y="156" width="2" height="3" fill="#00f8e8"/><rect x="164" y="156" width="2" height="3" fill="#000080"/><rect x="178" y="156" width="3" height="3" fill="#00f8e8"/><rect x="181" y="156" width="2" height="3" fill="#70ff90"/><rect x="183" y="156" width="2" height="3" fill="#00f8e8"/><rect x="185" y="156" width="3" height="3" fill="#000080"/><rect x="214" y="156" width="2" height="3" fill="#000080"/><rect x="216" y="156" width="2" height="3" fill="#00f8e8"/><rect x="221" y="156" width="2" height="3" fill="#000080"/><rect x="242" y="156" width="2" height="3" fill="#000080"/><rect x="249" y="156" width="2" height="3" fill="#000080"/><rect x="256" y="156" width="2" height="3" fill="#000080"/><rect x="265" y="156" width="3" height="3" fill="#000080"/><rect x="317" y="156" width="2" height="3" fill="#000080"/><rect x="355" y="156" width="4" height="3" fill="#000080"/><rect x="374" y="156" width="2" height="3" fill="#000080"/><rect x="388" y="156" width="2" height="3" fill="#000080"/><rect x="414" y="156" width="4" height="3" fill="#000080"/><rect x="421" y="156" width="2" height="3" fill="#000080"/><rect x="425" y="156" width="3" height="3" fill="#000080"/><rect x="432" y="156" width="3" height="3" fill="#000080"/><rect x="477" y="156" width="2" height="3" fill="#00c0ff"/><rect x="479" y="156" width="3" height="3" fill="#70ff90"/><rect x="482" y="156" width="2" height="3" fill="#00f8e8"/><rect x="484" y="156" width="2" height="3" fill="#00c0ff"/><rect x="512" y="156" width="3" height="3" fill="#000080"/><rect x="519" y="156" width="3" height="3" fill="#00c0ff"/><rect x="522" y="156" width="2" height="3" fill="#00f8e8"/><rect x="524" y="156" width="3" height="3" fill="#00c0ff"/><rect x="569" y="156" width="2" height="3" fill="#000080"/><rect x="583" y="156" width="2" height="3" fill="#000080"/><rect x="599" y="156" width="3" height="3" fill="#000080"/><rect x="644" y="156" width="3" height="3" fill="#000080"/><rect x="670" y="156" width="2" height="3" fill="#000080"/><rect x="675" y="156" width="2" height="3" fill="#000080"/><rect x="703" y="156" width="2" height="3" fill="#000080"/><rect x="715" y="156" width="2" height="3" fill="#000080"/><rect x="724" y="156" width="3" height="3" fill="#000080"/><rect x="781" y="156" width="2" height="3" fill="#00c0ff"/><rect x="814" y="156" width="2" height="3" fill="#000080"/><rect x="816" y="156" width="2" height="3" fill="#0050ff"/><rect x="818" y="156" width="3" height="3" fill="#70ff90"/><rect x="821" y="156" width="2" height="3" fill="#00f8e8"/><rect x="823" y="156" width="2" height="3" fill="#000080"/><rect x="832" y="156" width="3" height="3" fill="#000080"/><rect x="138" y="154" width="3" height="2" fill="#0050ff"/><rect x="141" y="154" width="2" height="2" fill="#00c0ff"/><rect x="178" y="154" width="3" height="2" fill="#00c0ff"/><rect x="181" y="154" width="2" height="2" fill="#00f8e8"/><rect x="183" y="154" width="2" height="2" fill="#00c0ff"/><rect x="185" y="154" width="3" height="2" fill="#000080"/><rect x="199" y="154" width="3" height="2" fill="#000080"/><rect x="209" y="154" width="2" height="2" fill="#000080"/><rect x="214" y="154" width="2" height="2" fill="#000080"/><rect x="216" y="154" width="2" height="2" fill="#00c0ff"/><rect x="239" y="154" width="3" height="2" fill="#000080"/><rect x="246" y="154" width="3" height="2" fill="#000080"/><rect x="256" y="154" width="2" height="2" fill="#0000f0"/><rect x="268" y="154" width="4" height="2" fill="#000080"/><rect x="275" y="154" width="2" height="2" fill="#000080"/><rect x="324" y="154" width="2" height="2" fill="#000080"/><rect x="329" y="154" width="2" height="2" fill="#000080"/><rect x="345" y="154" width="5" height="2" fill="#000080"/><rect x="397" y="154" width="2" height="2" fill="#000080"/><rect x="425" y="154" width="3" height="2" fill="#000080"/><rect x="456" y="154" width="2" height="2" fill="#000080"/><rect x="477" y="154" width="2" height="2" fill="#000080"/><rect x="479" y="154" width="5" height="2" fill="#00f8e8"/><rect x="484" y="154" width="2" height="2" fill="#0050ff"/><rect x="498" y="154" width="3" height="2" fill="#000080"/><rect x="519" y="154" width="3" height="2" fill="#00c0ff"/><rect x="522" y="154" width="2" height="2" fill="#00f8e8"/><rect x="524" y="154" width="3" height="2" fill="#0050ff"/><rect x="548" y="154" width="2" height="2" fill="#000080"/><rect x="599" y="154" width="3" height="2" fill="#000080"/><rect x="642" y="154" width="2" height="2" fill="#000080"/><rect x="670" y="154" width="2" height="2" fill="#000080"/><rect x="724" y="154" width="3" height="2" fill="#000080"/><rect x="781" y="154" width="2" height="2" fill="#00c0ff"/><rect x="816" y="154" width="2" height="2" fill="#000080"/><rect x="818" y="154" width="3" height="2" fill="#00f8e8"/><rect x="821" y="154" width="2" height="2" fill="#00c0ff"/><rect x="823" y="154" width="2" height="2" fill="#000080"/><rect x="138" y="152" width="3" height="2" fill="#000080"/><rect x="141" y="152" width="2" height="2" fill="#0050ff"/><rect x="159" y="152" width="5" height="2" fill="#000080"/><rect x="178" y="152" width="3" height="2" fill="#0050ff"/><rect x="181" y="152" width="2" height="2" fill="#00c0ff"/><rect x="183" y="152" width="2" height="2" fill="#0050ff"/><rect x="192" y="152" width="3" height="2" fill="#000080"/><rect x="199" y="152" width="3" height="2" fill="#0000f0"/><rect x="216" y="152" width="2" height="2" fill="#0050ff"/><rect x="221" y="152" width="2" height="2" fill="#000080"/><rect x="225" y="152" width="3" height="2" fill="#000080"/><rect x="242" y="152" width="2" height="2" fill="#000080"/><rect x="265" y="152" width="3" height="2" fill="#000080"/><rect x="277" y="152" width="2" height="2" fill="#000080"/><rect x="303" y="152" width="2" height="2" fill="#000080"/><rect x="338" y="152" width="3" height="2" fill="#000080"/><rect x="352" y="152" width="3" height="2" fill="#000080"/><rect x="376" y="152" width="2" height="2" fill="#000080"/><rect x="383" y="152" width="2" height="2" fill="#000080"/><rect x="395" y="152" width="2" height="2" fill="#000080"/><rect x="442" y="152" width="4" height="2" fill="#000080"/><rect x="479" y="152" width="5" height="2" fill="#00c0ff"/><rect x="484" y="152" width="2" height="2" fill="#000080"/><rect x="505" y="152" width="3" height="2" fill="#000080"/><rect x="517" y="152" width="2" height="2" fill="#000080"/><rect x="519" y="152" width="3" height="2" fill="#0050ff"/><rect x="522" y="152" width="2" height="2" fill="#00c0ff"/><rect x="524" y="152" width="3" height="2" fill="#000080"/><rect x="545" y="152" width="3" height="2" fill="#000080"/><rect x="588" y="152" width="2" height="2" fill="#000080"/><rect x="618" y="152" width="3" height="2" fill="#000080"/><rect x="623" y="152" width="2" height="2" fill="#000080"/><rect x="736" y="152" width="2" height="2" fill="#000080"/><rect x="762" y="152" width="2" height="2" fill="#000080"/><rect x="769" y="152" width="2" height="2" fill="#000080"/><rect x="781" y="152" width="2" height="2" fill="#0050ff"/><rect x="783" y="152" width="2" height="2" fill="#000080"/><rect x="818" y="152" width="3" height="2" fill="#00f8e8"/><rect x="821" y="152" width="2" height="2" fill="#0050ff"/><rect x="141" y="149" width="2" height="3" fill="#000080"/><rect x="152" y="149" width="3" height="3" fill="#000080"/><rect x="178" y="149" width="3" height="3" fill="#000080"/><rect x="181" y="149" width="2" height="3" fill="#0050ff"/><rect x="183" y="149" width="2" height="3" fill="#000080"/><rect x="195" y="149" width="2" height="3" fill="#0000f0"/><rect x="216" y="149" width="2" height="3" fill="#000080"/><rect x="228" y="149" width="2" height="3" fill="#000080"/><rect x="298" y="149" width="5" height="3" fill="#000080"/><rect x="308" y="149" width="2" height="3" fill="#000080"/><rect x="334" y="149" width="2" height="3" fill="#000080"/><rect x="348" y="149" width="4" height="3" fill="#000080"/><rect x="388" y="149" width="2" height="3" fill="#000080"/><rect x="414" y="149" width="2" height="3" fill="#000080"/><rect x="418" y="149" width="3" height="3" fill="#000080"/><rect x="446" y="149" width="3" height="3" fill="#000080"/><rect x="479" y="149" width="3" height="3" fill="#000080"/><rect x="482" y="149" width="2" height="3" fill="#0050ff"/><rect x="519" y="149" width="8" height="3" fill="#000080"/><rect x="555" y="149" width="4" height="3" fill="#000080"/><rect x="684" y="149" width="3" height="3" fill="#000080"/><rect x="752" y="149" width="3" height="3" fill="#000080"/><rect x="809" y="149" width="2" height="3" fill="#000080"/><rect x="818" y="149" width="5" height="3" fill="#0050ff"/><rect x="134" y="147" width="4" height="2" fill="#000080"/><rect x="155" y="147" width="2" height="2" fill="#000080"/><rect x="159" y="147" width="3" height="2" fill="#000080"/><rect x="181" y="147" width="4" height="2" fill="#000080"/><rect x="249" y="147" width="2" height="2" fill="#000080"/><rect x="268" y="147" width="2" height="2" fill="#000080"/><rect x="272" y="147" width="3" height="2" fill="#000080"/><rect x="282" y="147" width="2" height="2" fill="#000080"/><rect x="294" y="147" width="2" height="2" fill="#000080"/><rect x="296" y="147" width="2" height="2" fill="#0000f0"/><rect x="312" y="147" width="3" height="2" fill="#000080"/><rect x="411" y="147" width="3" height="2" fill="#000080"/><rect x="437" y="147" width="2" height="2" fill="#000080"/><rect x="444" y="147" width="2" height="2" fill="#000080"/><rect x="472" y="147" width="3" height="2" fill="#000080"/><rect x="482" y="147" width="2" height="2" fill="#000080"/><rect x="522" y="147" width="2" height="2" fill="#000080"/><rect x="531" y="147" width="3" height="2" fill="#000080"/><rect x="559" y="147" width="3" height="2" fill="#000080"/><rect x="574" y="147" width="2" height="2" fill="#000080"/><rect x="607" y="147" width="2" height="2" fill="#000080"/><rect x="639" y="147" width="3" height="2" fill="#000080"/><rect x="809" y="147" width="2" height="2" fill="#000080"/><rect x="821" y="147" width="2" height="2" fill="#0050ff"/><rect x="835" y="147" width="2" height="2" fill="#000080"/><rect x="155" y="140" width="2" height="2" fill="#000080"/><rect x="171" y="140" width="3" height="2" fill="#000080"/><rect x="192" y="140" width="3" height="2" fill="#000080"/><rect x="204" y="140" width="2" height="2" fill="#000080"/><rect x="242" y="140" width="2" height="2" fill="#000080"/><rect x="263" y="140" width="2" height="2" fill="#000080"/><rect x="270" y="140" width="2" height="2" fill="#000080"/><rect x="277" y="140" width="2" height="2" fill="#000080"/><rect x="315" y="140" width="2" height="2" fill="#000080"/><rect x="350" y="140" width="2" height="2" fill="#000080"/><rect x="362" y="140" width="4" height="2" fill="#000080"/><rect x="369" y="140" width="2" height="2" fill="#000080"/><rect x="489" y="140" width="2" height="2" fill="#000080"/><rect x="541" y="140" width="4" height="2" fill="#000080"/><rect x="661" y="140" width="2" height="2" fill="#000080"/><rect x="675" y="140" width="2" height="2" fill="#000080"/><rect x="698" y="140" width="3" height="2" fill="#000080"/><rect x="804" y="140" width="3" height="2" fill="#000080"/><rect x="818" y="140" width="3" height="2" fill="#0050ff"/><rect x="148" y="138" width="2" height="2" fill="#000080"/><rect x="176" y="138" width="2" height="2" fill="#000080"/><rect x="206" y="138" width="5" height="2" fill="#000080"/><rect x="214" y="138" width="2" height="2" fill="#000080"/><rect x="218" y="138" width="3" height="2" fill="#000080"/><rect x="261" y="138" width="2" height="2" fill="#000080"/><rect x="284" y="138" width="2" height="2" fill="#000080"/><rect x="294" y="138" width="2" height="2" fill="#000080"/><rect x="303" y="138" width="2" height="2" fill="#000080"/><rect x="322" y="138" width="2" height="2" fill="#000080"/><rect x="343" y="138" width="2" height="2" fill="#000080"/><rect x="366" y="138" width="3" height="2" fill="#000080"/><rect x="371" y="138" width="3" height="2" fill="#0000f0"/><rect x="404" y="138" width="2" height="2" fill="#000080"/><rect x="451" y="138" width="3" height="2" fill="#000080"/><rect x="475" y="138" width="2" height="2" fill="#000080"/><rect x="496" y="138" width="2" height="2" fill="#000080"/><rect x="517" y="138" width="2" height="2" fill="#000080"/><rect x="519" y="138" width="3" height="2" fill="#00c0ff"/><rect x="527" y="138" width="2" height="2" fill="#0000f0"/><rect x="543" y="138" width="2" height="2" fill="#000080"/><rect x="583" y="138" width="2" height="2" fill="#000080"/><rect x="616" y="138" width="2" height="2" fill="#000080"/><rect x="630" y="138" width="2" height="2" fill="#000080"/><rect x="729" y="138" width="2" height="2" fill="#000080"/><rect x="745" y="138" width="3" height="2" fill="#000080"/><rect x="759" y="138" width="3" height="2" fill="#000080"/><rect x="792" y="138" width="3" height="2" fill="#000080"/><rect x="818" y="138" width="3" height="2" fill="#0050ff"/><rect x="152" y="135" width="3" height="3" fill="#000080"/><rect x="162" y="135" width="2" height="3" fill="#0000f0"/><rect x="166" y="135" width="3" height="3" fill="#000080"/><rect x="178" y="135" width="3" height="3" fill="#000080"/><rect x="181" y="135" width="2" height="3" fill="#0050ff"/><rect x="235" y="135" width="2" height="3" fill="#000080"/><rect x="251" y="135" width="3" height="3" fill="#000080"/><rect x="305" y="135" width="3" height="3" fill="#000080"/><rect x="331" y="135" width="3" height="3" fill="#000080"/><rect x="341" y="135" width="4" height="3" fill="#000080"/><rect x="355" y="135" width="2" height="3" fill="#000080"/><rect x="364" y="135" width="2" height="3" fill="#000080"/><rect x="404" y="135" width="5" height="3" fill="#000080"/><rect x="428" y="135" width="2" height="3" fill="#000080"/><rect x="442" y="135" width="2" height="3" fill="#000080"/><rect x="479" y="135" width="3" height="3" fill="#0050ff"/><rect x="482" y="135" width="2" height="3" fill="#000080"/><rect x="519" y="135" width="3" height="3" fill="#0050ff"/><rect x="522" y="135" width="2" height="3" fill="#000080"/><rect x="569" y="135" width="2" height="3" fill="#000080"/><rect x="576" y="135" width="2" height="3" fill="#000080"/><rect x="595" y="135" width="2" height="3" fill="#000080"/><rect x="611" y="135" width="3" height="3" fill="#000080"/><rect x="665" y="135" width="3" height="3" fill="#000080"/><rect x="691" y="135" width="3" height="3" fill="#000080"/><rect x="708" y="135" width="2" height="3" fill="#000080"/><rect x="769" y="135" width="2" height="3" fill="#000080"/><rect x="781" y="135" width="2" height="3" fill="#0050ff"/><rect x="818" y="135" width="3" height="3" fill="#0050ff"/><rect x="821" y="135" width="4" height="3" fill="#000080"/><rect x="830" y="135" width="2" height="3" fill="#0050ff"/><rect x="832" y="135" width="3" height="3" fill="#000080"/><rect x="152" y="133" width="3" height="2" fill="#000080"/><rect x="174" y="133" width="2" height="2" fill="#000080"/><rect x="178" y="133" width="3" height="2" fill="#000080"/><rect x="181" y="133" width="2" height="2" fill="#0050ff"/><rect x="197" y="133" width="2" height="2" fill="#000080"/><rect x="230" y="133" width="2" height="2" fill="#000080"/><rect x="244" y="133" width="2" height="2" fill="#000080"/><rect x="249" y="133" width="2" height="2" fill="#000080"/><rect x="282" y="133" width="2" height="2" fill="#000080"/><rect x="296" y="133" width="2" height="2" fill="#000080"/><rect x="308" y="133" width="2" height="2" fill="#000080"/><rect x="315" y="133" width="2" height="2" fill="#000080"/><rect x="371" y="133" width="3" height="2" fill="#000080"/><rect x="390" y="133" width="2" height="2" fill="#000080"/><rect x="399" y="133" width="3" height="2" fill="#000080"/><rect x="421" y="133" width="2" height="2" fill="#0000f0"/><rect x="449" y="133" width="2" height="2" fill="#000080"/><rect x="458" y="133" width="3" height="2" fill="#000080"/><rect x="470" y="133" width="2" height="2" fill="#000080"/><rect x="479" y="133" width="3" height="2" fill="#0050ff"/><rect x="519" y="133" width="3" height="2" fill="#0050ff"/><rect x="522" y="133" width="2" height="2" fill="#000080"/><rect x="559" y="133" width="3" height="2" fill="#000080"/><rect x="661" y="133" width="2" height="2" fill="#000080"/><rect x="684" y="133" width="3" height="2" fill="#000080"/><rect x="712" y="133" width="3" height="2" fill="#000080"/><rect x="724" y="133" width="3" height="2" fill="#000080"/><rect x="781" y="133" width="2" height="2" fill="#0050ff"/><rect x="809" y="133" width="2" height="2" fill="#000080"/><rect x="818" y="133" width="3" height="2" fill="#000080"/><rect x="136" y="131" width="2" height="2" fill="#000080"/><rect x="181" y="131" width="2" height="2" fill="#000080"/><rect x="218" y="131" width="3" height="2" fill="#000080"/><rect x="223" y="131" width="2" height="2" fill="#000080"/><rect x="242" y="131" width="2" height="2" fill="#000080"/><rect x="256" y="131" width="2" height="2" fill="#000080"/><rect x="261" y="131" width="2" height="2" fill="#000080"/><rect x="291" y="131" width="5" height="2" fill="#000080"/><rect x="305" y="131" width="3" height="2" fill="#000080"/><rect x="324" y="131" width="2" height="2" fill="#000080"/><rect x="329" y="131" width="2" height="2" fill="#000080"/><rect x="341" y="131" width="2" height="2" fill="#000080"/><rect x="348" y="131" width="2" height="2" fill="#000080"/><rect x="402" y="131" width="2" height="2" fill="#000080"/><rect x="406" y="131" width="3" height="2" fill="#000080"/><rect x="425" y="131" width="3" height="2" fill="#000080"/><rect x="432" y="131" width="3" height="2" fill="#000080"/><rect x="479" y="131" width="3" height="2" fill="#0050ff"/><rect x="519" y="131" width="5" height="2" fill="#000080"/><rect x="567" y="131" width="2" height="2" fill="#000080"/><rect x="585" y="131" width="3" height="2" fill="#000080"/><rect x="618" y="131" width="3" height="2" fill="#000080"/><rect x="743" y="131" width="2" height="2" fill="#000080"/><rect x="781" y="131" width="2" height="2" fill="#000080"/><rect x="790" y="131" width="2" height="2" fill="#000080"/><rect x="811" y="131" width="3" height="2" fill="#000080"/><rect x="823" y="131" width="2" height="2" fill="#000080"/><rect x="181" y="128" width="2" height="3" fill="#000080"/><rect x="242" y="128" width="2" height="3" fill="#000080"/><rect x="256" y="128" width="2" height="3" fill="#000080"/><rect x="284" y="128" width="2" height="3" fill="#000080"/><rect x="319" y="128" width="3" height="3" fill="#000080"/><rect x="366" y="128" width="3" height="3" fill="#000080"/><rect x="378" y="128" width="3" height="3" fill="#000080"/><rect x="446" y="128" width="5" height="3" fill="#000080"/><rect x="461" y="128" width="2" height="3" fill="#000080"/><rect x="465" y="128" width="3" height="3" fill="#000080"/><rect x="479" y="128" width="3" height="3" fill="#000080"/><rect x="503" y="128" width="5" height="3" fill="#000080"/><rect x="517" y="128" width="5" height="3" fill="#000080"/><rect x="541" y="128" width="2" height="3" fill="#000080"/><rect x="679" y="128" width="3" height="3" fill="#000080"/><rect x="738" y="128" width="3" height="3" fill="#0000f0"/><rect x="781" y="128" width="2" height="3" fill="#000080"/><rect x="788" y="128" width="2" height="3" fill="#000080"/><rect x="143" y="248" width="2" height="2" fill="#000080"/><rect x="164" y="248" width="2" height="2" fill="#000080"/><rect x="169" y="248" width="2" height="2" fill="#000080"/><rect x="209" y="248" width="2" height="2" fill="#000080"/><rect x="230" y="248" width="2" height="2" fill="#000080"/><rect x="235" y="248" width="2" height="2" fill="#000080"/><rect x="237" y="248" width="2" height="2" fill="#0050ff"/><rect x="275" y="248" width="2" height="2" fill="#000080"/><rect x="291" y="248" width="3" height="2" fill="#000080"/><rect x="305" y="248" width="3" height="2" fill="#000080"/><rect x="326" y="248" width="3" height="2" fill="#000080"/><rect x="341" y="248" width="2" height="2" fill="#000080"/><rect x="359" y="248" width="3" height="2" fill="#000080"/><rect x="366" y="248" width="3" height="2" fill="#000080"/><rect x="383" y="248" width="2" height="2" fill="#000080"/><rect x="397" y="248" width="2" height="2" fill="#000080"/><rect x="406" y="248" width="3" height="2" fill="#000080"/><rect x="421" y="248" width="2" height="2" fill="#000080"/><rect x="425" y="248" width="3" height="2" fill="#000080"/><rect x="435" y="248" width="2" height="2" fill="#000080"/><rect x="442" y="248" width="2" height="2" fill="#0000f0"/><rect x="463" y="248" width="2" height="2" fill="#000080"/><rect x="531" y="248" width="3" height="2" fill="#000080"/><rect x="578" y="248" width="3" height="2" fill="#000080"/><rect x="682" y="248" width="2" height="2" fill="#000080"/><rect x="705" y="248" width="3" height="2" fill="#000080"/><rect x="837" y="248" width="3" height="2" fill="#000080"/><rect x="150" y="245" width="2" height="3" fill="#000080"/><rect x="174" y="245" width="2" height="3" fill="#000080"/><rect x="185" y="245" width="3" height="3" fill="#000080"/><rect x="190" y="245" width="2" height="3" fill="#000080"/><rect x="209" y="245" width="7" height="3" fill="#000080"/><rect x="254" y="245" width="2" height="3" fill="#000080"/><rect x="258" y="245" width="3" height="3" fill="#000080"/><rect x="270" y="245" width="2" height="3" fill="#000080"/><rect x="308" y="245" width="2" height="3" fill="#000080"/><rect x="334" y="245" width="2" height="3" fill="#000080"/><rect x="338" y="245" width="3" height="3" fill="#000080"/><rect x="364" y="245" width="2" height="3" fill="#000080"/><rect x="406" y="245" width="3" height="3" fill="#000080"/><rect x="472" y="245" width="3" height="3" fill="#000080"/><rect x="484" y="245" width="2" height="3" fill="#000080"/><rect x="534" y="245" width="4" height="3" fill="#000080"/><rect x="557" y="245" width="2" height="3" fill="#000080"/><rect x="567" y="245" width="2" height="3" fill="#000080"/><rect x="583" y="245" width="2" height="3" fill="#000080"/><rect x="614" y="245" width="2" height="3" fill="#000080"/><rect x="637" y="245" width="2" height="3" fill="#000080"/><rect x="687" y="245" width="2" height="3" fill="#000080"/><rect x="781" y="245" width="2" height="3" fill="#0000f0"/><rect x="792" y="245" width="3" height="3" fill="#000080"/><rect x="181" y="243" width="4" height="2" fill="#000080"/><rect x="272" y="243" width="3" height="2" fill="#000080"/><rect x="294" y="243" width="2" height="2" fill="#000080"/><rect x="329" y="243" width="2" height="2" fill="#000080"/><rect x="345" y="243" width="5" height="2" fill="#000080"/><rect x="381" y="243" width="2" height="2" fill="#000080"/><rect x="390" y="243" width="2" height="2" fill="#000080"/><rect x="425" y="243" width="3" height="2" fill="#000080"/><rect x="456" y="243" width="2" height="2" fill="#000080"/><rect x="470" y="243" width="2" height="2" fill="#000080"/><rect x="517" y="243" width="2" height="2" fill="#000080"/><rect x="607" y="243" width="2" height="2" fill="#000080"/><rect x="727" y="243" width="2" height="2" fill="#000080"/><rect x="736" y="243" width="2" height="2" fill="#000080"/><rect x="762" y="243" width="2" height="2" fill="#000080"/><rect x="767" y="243" width="2" height="2" fill="#000080"/><rect x="774" y="243" width="2" height="2" fill="#000080"/><rect x="785" y="243" width="3" height="2" fill="#000080"/><rect x="178" y="241" width="3" height="2" fill="#0050ff"/><rect x="223" y="241" width="2" height="2" fill="#000080"/><rect x="249" y="241" width="2" height="2" fill="#000080"/><rect x="277" y="241" width="2" height="2" fill="#000080"/><rect x="298" y="241" width="3" height="2" fill="#000080"/><rect x="319" y="241" width="3" height="2" fill="#000080"/><rect x="381" y="241" width="2" height="2" fill="#000080"/><rect x="454" y="241" width="2" height="2" fill="#000080"/><rect x="484" y="241" width="2" height="2" fill="#0000f0"/><rect x="486" y="241" width="3" height="2" fill="#000080"/><rect x="592" y="241" width="3" height="2" fill="#000080"/><rect x="639" y="241" width="3" height="2" fill="#000080"/><rect x="656" y="241" width="2" height="2" fill="#000080"/><rect x="691" y="241" width="3" height="2" fill="#000080"/><rect x="708" y="241" width="2" height="2" fill="#000080"/><rect x="719" y="241" width="3" height="2" fill="#000080"/><rect x="799" y="241" width="3" height="2" fill="#000080"/><rect x="138" y="238" width="3" height="3" fill="#000080"/><rect x="148" y="238" width="2" height="3" fill="#000080"/><rect x="152" y="238" width="3" height="3" fill="#000080"/><rect x="171" y="238" width="3" height="3" fill="#000080"/><rect x="188" y="238" width="2" height="3" fill="#000080"/><rect x="244" y="238" width="2" height="3" fill="#000080"/><rect x="258" y="238" width="3" height="3" fill="#000080"/><rect x="261" y="238" width="2" height="3" fill="#0050ff"/><rect x="275" y="238" width="2" height="3" fill="#000080"/><rect x="289" y="238" width="2" height="3" fill="#000080"/><rect x="301" y="238" width="2" height="3" fill="#000080"/><rect x="329" y="238" width="2" height="3" fill="#000080"/><rect x="345" y="238" width="3" height="3" fill="#000080"/><rect x="390" y="238" width="2" height="3" fill="#000080"/><rect x="395" y="238" width="2" height="3" fill="#000080"/><rect x="404" y="238" width="2" height="3" fill="#000080"/><rect x="428" y="238" width="2" height="3" fill="#000080"/><rect x="454" y="238" width="4" height="3" fill="#000080"/><rect x="505" y="238" width="3" height="3" fill="#000080"/><rect x="519" y="238" width="3" height="3" fill="#000080"/><rect x="541" y="238" width="2" height="3" fill="#000080"/><rect x="618" y="238" width="3" height="3" fill="#000080"/><rect x="644" y="238" width="3" height="3" fill="#000080"/><rect x="670" y="238" width="2" height="3" fill="#000080"/><rect x="729" y="238" width="2" height="3" fill="#000080"/><rect x="816" y="238" width="2" height="3" fill="#000080"/><rect x="199" y="236" width="3" height="2" fill="#000080"/><rect x="218" y="236" width="3" height="2" fill="#000080"/><rect x="246" y="236" width="3" height="2" fill="#000080"/><rect x="263" y="236" width="2" height="2" fill="#000080"/><rect x="301" y="236" width="2" height="2" fill="#000080"/><rect x="338" y="236" width="3" height="2" fill="#0050ff"/><rect x="364" y="236" width="2" height="2" fill="#000080"/><rect x="402" y="236" width="2" height="2" fill="#000080"/><rect x="418" y="236" width="3" height="2" fill="#000080"/><rect x="425" y="236" width="3" height="2" fill="#000080"/><rect x="458" y="236" width="3" height="2" fill="#000080"/><rect x="477" y="236" width="2" height="2" fill="#000080"/><rect x="486" y="236" width="3" height="2" fill="#000080"/><rect x="578" y="236" width="3" height="2" fill="#000080"/><rect x="583" y="236" width="2" height="2" fill="#000080"/><rect x="628" y="236" width="2" height="2" fill="#000080"/><rect x="649" y="236" width="2" height="2" fill="#000080"/><rect x="738" y="236" width="3" height="2" fill="#000080"/><rect x="762" y="236" width="2" height="2" fill="#000080"/><rect x="150" y="234" width="2" height="2" fill="#000080"/><rect x="159" y="234" width="3" height="2" fill="#000080"/><rect x="176" y="234" width="2" height="2" fill="#000080"/><rect x="202" y="234" width="2" height="2" fill="#000080"/><rect x="209" y="234" width="2" height="2" fill="#000080"/><rect x="228" y="234" width="2" height="2" fill="#000080"/><rect x="232" y="234" width="3" height="2" fill="#000080"/><rect x="291" y="234" width="3" height="2" fill="#000080"/><rect x="336" y="234" width="2" height="2" fill="#000080"/><rect x="345" y="234" width="3" height="2" fill="#000080"/><rect x="359" y="234" width="3" height="2" fill="#000080"/><rect x="399" y="234" width="3" height="2" fill="#000080"/><rect x="406" y="234" width="3" height="2" fill="#000080"/><rect x="418" y="234" width="3" height="2" fill="#0050ff"/><rect x="437" y="234" width="2" height="2" fill="#000080"/><rect x="454" y="234" width="2" height="2" fill="#000080"/><rect x="538" y="234" width="5" height="2" fill="#000080"/><rect x="654" y="234" width="2" height="2" fill="#000080"/><rect x="668" y="234" width="2" height="2" fill="#000080"/><rect x="727" y="234" width="2" height="2" fill="#000080"/><rect x="818" y="234" width="3" height="2" fill="#000080"/><rect x="138" y="231" width="3" height="3" fill="#000080"/><rect x="150" y="231" width="2" height="3" fill="#000080"/><rect x="155" y="231" width="2" height="3" fill="#000080"/><rect x="159" y="231" width="3" height="3" fill="#000080"/><rect x="206" y="231" width="3" height="3" fill="#000080"/><rect x="258" y="231" width="5" height="3" fill="#000080"/><rect x="296" y="231" width="5" height="3" fill="#000080"/><rect x="315" y="231" width="2" height="3" fill="#000080"/><rect x="336" y="231" width="2" height="3" fill="#000080"/><rect x="352" y="231" width="3" height="3" fill="#000080"/><rect x="369" y="231" width="2" height="3" fill="#000080"/><rect x="378" y="231" width="3" height="3" fill="#000080"/><rect x="383" y="231" width="2" height="3" fill="#000080"/><rect x="397" y="231" width="5" height="3" fill="#000080"/><rect x="458" y="231" width="5" height="3" fill="#000080"/><rect x="484" y="231" width="2" height="3" fill="#000080"/><rect x="512" y="231" width="3" height="3" fill="#000080"/><rect x="557" y="231" width="2" height="3" fill="#000080"/><rect x="592" y="231" width="3" height="3" fill="#000080"/><rect x="614" y="231" width="2" height="3" fill="#000080"/><rect x="621" y="231" width="2" height="3" fill="#000080"/><rect x="632" y="231" width="3" height="3" fill="#000080"/><rect x="712" y="231" width="5" height="3" fill="#000080"/><rect x="795" y="231" width="4" height="3" fill="#000080"/><rect x="157" y="229" width="2" height="2" fill="#0000f0"/><rect x="188" y="229" width="2" height="2" fill="#000080"/><rect x="216" y="229" width="2" height="2" fill="#000080"/><rect x="242" y="229" width="2" height="2" fill="#000080"/><rect x="258" y="229" width="3" height="2" fill="#000080"/><rect x="275" y="229" width="2" height="2" fill="#000080"/><rect x="282" y="229" width="2" height="2" fill="#0000f0"/><rect x="315" y="229" width="2" height="2" fill="#000080"/><rect x="331" y="229" width="5" height="2" fill="#000080"/><rect x="350" y="229" width="2" height="2" fill="#000080"/><rect x="371" y="229" width="3" height="2" fill="#000080"/><rect x="479" y="229" width="5" height="2" fill="#000080"/><rect x="505" y="229" width="3" height="2" fill="#000080"/><rect x="512" y="229" width="3" height="2" fill="#000080"/><rect x="555" y="229" width="2" height="2" fill="#000080"/><rect x="585" y="229" width="3" height="2" fill="#000080"/><rect x="651" y="229" width="3" height="2" fill="#000080"/><rect x="684" y="229" width="3" height="2" fill="#000080"/><rect x="715" y="229" width="2" height="2" fill="#000080"/><rect x="750" y="229" width="2" height="2" fill="#000080"/><rect x="767" y="229" width="2" height="2" fill="#000080"/><rect x="776" y="229" width="2" height="2" fill="#000080"/><rect x="797" y="229" width="2" height="2" fill="#000080"/><rect x="150" y="227" width="2" height="2" fill="#000080"/><rect x="169" y="227" width="2" height="2" fill="#000080"/><rect x="185" y="227" width="3" height="2" fill="#000080"/><rect x="199" y="227" width="3" height="2" fill="#000080"/><rect x="211" y="227" width="3" height="2" fill="#000080"/><rect x="230" y="227" width="2" height="2" fill="#000080"/><rect x="265" y="227" width="3" height="2" fill="#000080"/><rect x="284" y="227" width="2" height="2" fill="#000080"/><rect x="298" y="227" width="3" height="2" fill="#000080"/><rect x="312" y="227" width="3" height="2" fill="#000080"/><rect x="385" y="227" width="3" height="2" fill="#000080"/><rect x="437" y="227" width="2" height="2" fill="#000080"/><rect x="458" y="227" width="3" height="2" fill="#000080"/><rect x="472" y="227" width="3" height="2" fill="#000080"/><rect x="621" y="227" width="2" height="2" fill="#000080"/><rect x="677" y="227" width="2" height="2" fill="#000080"/><rect x="694" y="227" width="2" height="2" fill="#000080"/><rect x="783" y="227" width="2" height="2" fill="#000080"/><rect x="828" y="227" width="2" height="2" fill="#000080"/><rect x="143" y="224" width="2" height="3" fill="#000080"/><rect x="171" y="224" width="3" height="3" fill="#000080"/><rect x="185" y="224" width="3" height="3" fill="#000080"/><rect x="204" y="224" width="2" height="3" fill="#000080"/><rect x="239" y="224" width="3" height="3" fill="#000080"/><rect x="261" y="224" width="2" height="3" fill="#000080"/><rect x="301" y="224" width="2" height="3" fill="#000080"/><rect x="334" y="224" width="2" height="3" fill="#000080"/><rect x="357" y="224" width="2" height="3" fill="#000080"/><rect x="364" y="224" width="2" height="3" fill="#000080"/><rect x="437" y="224" width="2" height="3" fill="#000080"/><rect x="451" y="224" width="3" height="3" fill="#000080"/><rect x="482" y="224" width="2" height="3" fill="#000080"/><rect x="508" y="224" width="2" height="3" fill="#000080"/><rect x="635" y="224" width="2" height="3" fill="#000080"/><rect x="642" y="224" width="2" height="3" fill="#000080"/><rect x="663" y="224" width="2" height="3" fill="#000080"/><rect x="736" y="224" width="2" height="3" fill="#000080"/><rect x="150" y="222" width="2" height="2" fill="#000080"/><rect x="178" y="222" width="3" height="2" fill="#000080"/><rect x="211" y="222" width="3" height="2" fill="#000080"/><rect x="218" y="222" width="3" height="2" fill="#000080"/><rect x="265" y="222" width="3" height="2" fill="#000080"/><rect x="284" y="222" width="2" height="2" fill="#000080"/><rect x="303" y="222" width="2" height="2" fill="#000080"/><rect x="317" y="222" width="2" height="2" fill="#000080"/><rect x="326" y="222" width="3" height="2" fill="#000080"/><rect x="341" y="222" width="2" height="2" fill="#000080"/><rect x="355" y="222" width="2" height="2" fill="#000080"/><rect x="392" y="222" width="3" height="2" fill="#000080"/><rect x="409" y="222" width="2" height="2" fill="#000080"/><rect x="512" y="222" width="3" height="2" fill="#000080"/><rect x="559" y="222" width="3" height="2" fill="#000080"/><rect x="574" y="222" width="2" height="2" fill="#000080"/><rect x="672" y="222" width="5" height="2" fill="#000080"/><rect x="757" y="222" width="2" height="2" fill="#000080"/><rect x="792" y="222" width="3" height="2" fill="#000080"/><rect x="814" y="222" width="2" height="2" fill="#000080"/><rect x="835" y="222" width="2" height="2" fill="#0050ff"/><rect x="143" y="220" width="2" height="2" fill="#000080"/><rect x="202" y="220" width="2" height="2" fill="#000080"/><rect x="221" y="220" width="2" height="2" fill="#000080"/><rect x="235" y="220" width="2" height="2" fill="#000080"/><rect x="239" y="220" width="3" height="2" fill="#000080"/><rect x="254" y="220" width="2" height="2" fill="#000080"/><rect x="270" y="220" width="2" height="2" fill="#000080"/><rect x="282" y="220" width="4" height="2" fill="#000080"/><rect x="291" y="220" width="3" height="2" fill="#000080"/><rect x="301" y="220" width="2" height="2" fill="#000080"/><rect x="383" y="220" width="2" height="2" fill="#000080"/><rect x="411" y="220" width="3" height="2" fill="#000080"/><rect x="416" y="220" width="2" height="2" fill="#000080"/><rect x="430" y="220" width="5" height="2" fill="#000080"/><rect x="442" y="220" width="4" height="2" fill="#000080"/><rect x="475" y="220" width="2" height="2" fill="#000080"/><rect x="602" y="220" width="2" height="2" fill="#000080"/><rect x="628" y="220" width="2" height="2" fill="#000080"/><rect x="682" y="220" width="2" height="2" fill="#000080"/><rect x="712" y="220" width="3" height="2" fill="#000080"/><rect x="741" y="220" width="2" height="2" fill="#000080"/><rect x="781" y="220" width="2" height="2" fill="#000080"/><rect x="816" y="220" width="2" height="2" fill="#000080"/><rect x="145" y="217" width="3" height="3" fill="#000080"/><rect x="178" y="217" width="3" height="3" fill="#000080"/><rect x="185" y="217" width="3" height="3" fill="#000080"/><rect x="195" y="217" width="2" height="3" fill="#000080"/><rect x="251" y="217" width="3" height="3" fill="#000080"/><rect x="296" y="217" width="5" height="3" fill="#000080"/><rect x="324" y="217" width="2" height="3" fill="#000080"/><rect x="345" y="217" width="3" height="3" fill="#000080"/><rect x="381" y="217" width="4" height="3" fill="#000080"/><rect x="388" y="217" width="2" height="3" fill="#000080"/><rect x="395" y="217" width="2" height="3" fill="#000080"/><rect x="421" y="217" width="2" height="3" fill="#000080"/><rect x="444" y="217" width="2" height="3" fill="#000080"/><rect x="458" y="217" width="3" height="3" fill="#000080"/><rect x="463" y="217" width="2" height="3" fill="#000080"/><rect x="477" y="217" width="2" height="3" fill="#000080"/><rect x="496" y="217" width="2" height="3" fill="#000080"/><rect x="534" y="217" width="2" height="3" fill="#000080"/><rect x="602" y="217" width="2" height="3" fill="#000080"/><rect x="623" y="217" width="2" height="3" fill="#000080"/><rect x="710" y="217" width="2" height="3" fill="#000080"/><rect x="141" y="215" width="2" height="2" fill="#000080"/><rect x="164" y="215" width="2" height="2" fill="#0000f0"/><rect x="166" y="215" width="3" height="2" fill="#000080"/><rect x="192" y="215" width="3" height="2" fill="#000080"/><rect x="223" y="215" width="2" height="2" fill="#0000f0"/><rect x="228" y="215" width="2" height="2" fill="#000080"/><rect x="232" y="215" width="3" height="2" fill="#000080"/><rect x="334" y="215" width="2" height="2" fill="#000080"/><rect x="359" y="215" width="3" height="2" fill="#000080"/><rect x="385" y="215" width="3" height="2" fill="#000080"/><rect x="399" y="215" width="3" height="2" fill="#0000f0"/><rect x="465" y="215" width="3" height="2" fill="#0000f0"/><rect x="505" y="215" width="3" height="2" fill="#000080"/><rect x="512" y="215" width="3" height="2" fill="#000080"/><rect x="517" y="215" width="2" height="2" fill="#000080"/><rect x="555" y="215" width="2" height="2" fill="#000080"/><rect x="567" y="215" width="2" height="2" fill="#000080"/><rect x="590" y="215" width="2" height="2" fill="#000080"/><rect x="607" y="215" width="2" height="2" fill="#000080"/><rect x="623" y="215" width="2" height="2" fill="#000080"/><rect x="672" y="215" width="5" height="2" fill="#000080"/><rect x="752" y="215" width="3" height="2" fill="#000080"/><rect x="790" y="215" width="2" height="2" fill="#000080"/><rect x="799" y="215" width="3" height="2" fill="#000080"/><rect x="162" y="213" width="2" height="2" fill="#000080"/><rect x="195" y="213" width="2" height="2" fill="#000080"/><rect x="199" y="213" width="3" height="2" fill="#000080"/><rect x="249" y="213" width="2" height="2" fill="#000080"/><rect x="294" y="213" width="2" height="2" fill="#000080"/><rect x="298" y="213" width="5" height="2" fill="#000080"/><rect x="319" y="213" width="3" height="2" fill="#000080"/><rect x="324" y="213" width="2" height="2" fill="#000080"/><rect x="348" y="213" width="2" height="2" fill="#000080"/><rect x="388" y="213" width="2" height="2" fill="#000080"/><rect x="406" y="213" width="3" height="2" fill="#000080"/><rect x="414" y="213" width="2" height="2" fill="#000080"/><rect x="425" y="213" width="3" height="2" fill="#000080"/><rect x="456" y="213" width="2" height="2" fill="#000080"/><rect x="465" y="213" width="5" height="2" fill="#000080"/><rect x="484" y="213" width="2" height="2" fill="#000080"/><rect x="491" y="213" width="3" height="2" fill="#000080"/><rect x="527" y="213" width="2" height="2" fill="#000080"/><rect x="545" y="213" width="3" height="2" fill="#000080"/><rect x="557" y="213" width="2" height="2" fill="#000080"/><rect x="602" y="213" width="2" height="2" fill="#000080"/><rect x="630" y="213" width="2" height="2" fill="#000080"/><rect x="663" y="213" width="5" height="2" fill="#000080"/><rect x="679" y="213" width="3" height="2" fill="#000080"/><rect x="705" y="213" width="3" height="2" fill="#000080"/><rect x="719" y="213" width="3" height="2" fill="#000080"/><rect x="781" y="213" width="2" height="2" fill="#000080"/><rect x="134" y="210" width="2" height="3" fill="#000080"/><rect x="136" y="210" width="2" height="3" fill="#0000f0"/><rect x="138" y="210" width="3" height="3" fill="#000080"/><rect x="141" y="210" width="2" height="3" fill="#0000f0"/><rect x="157" y="210" width="2" height="3" fill="#000080"/><rect x="174" y="210" width="2" height="3" fill="#000080"/><rect x="176" y="210" width="2" height="3" fill="#0050ff"/><rect x="199" y="210" width="3" height="3" fill="#000080"/><rect x="282" y="210" width="2" height="3" fill="#000080"/><rect x="294" y="210" width="2" height="3" fill="#000080"/><rect x="364" y="210" width="5" height="3" fill="#000080"/><rect x="371" y="210" width="3" height="3" fill="#000080"/><rect x="397" y="210" width="2" height="3" fill="#000080"/><rect x="437" y="210" width="5" height="3" fill="#000080"/><rect x="446" y="210" width="3" height="3" fill="#000080"/><rect x="456" y="210" width="2" height="3" fill="#000080"/><rect x="524" y="210" width="3" height="3" fill="#0000f0"/><rect x="534" y="210" width="2" height="3" fill="#000080"/><rect x="588" y="210" width="2" height="3" fill="#000080"/><rect x="604" y="210" width="3" height="3" fill="#000080"/><rect x="644" y="210" width="5" height="3" fill="#000080"/><rect x="748" y="210" width="2" height="3" fill="#000080"/><rect x="799" y="210" width="3" height="3" fill="#000080"/><rect x="141" y="208" width="2" height="2" fill="#000080"/><rect x="185" y="208" width="3" height="2" fill="#000080"/><rect x="190" y="208" width="2" height="2" fill="#000080"/><rect x="261" y="208" width="2" height="2" fill="#000080"/><rect x="268" y="208" width="2" height="2" fill="#000080"/><rect x="289" y="208" width="2" height="2" fill="#000080"/><rect x="308" y="208" width="2" height="2" fill="#000080"/><rect x="317" y="208" width="2" height="2" fill="#000080"/><rect x="324" y="208" width="2" height="2" fill="#000080"/><rect x="336" y="208" width="2" height="2" fill="#000080"/><rect x="345" y="208" width="3" height="2" fill="#000080"/><rect x="371" y="208" width="3" height="2" fill="#0000f0"/><rect x="383" y="208" width="2" height="2" fill="#000080"/><rect x="409" y="208" width="2" height="2" fill="#000080"/><rect x="416" y="208" width="2" height="2" fill="#000080"/><rect x="425" y="208" width="3" height="2" fill="#0000f0"/><rect x="449" y="208" width="2" height="2" fill="#000080"/><rect x="479" y="208" width="3" height="2" fill="#000080"/><rect x="503" y="208" width="2" height="2" fill="#000080"/><rect x="519" y="208" width="3" height="2" fill="#000080"/><rect x="555" y="208" width="2" height="2" fill="#000080"/><rect x="651" y="208" width="3" height="2" fill="#000080"/><rect x="689" y="208" width="2" height="2" fill="#000080"/><rect x="769" y="208" width="2" height="2" fill="#000080"/><rect x="795" y="208" width="2" height="2" fill="#000080"/><rect x="176" y="206" width="2" height="2" fill="#000080"/><rect x="185" y="206" width="3" height="2" fill="#000080"/><rect x="211" y="206" width="3" height="2" fill="#000080"/><rect x="221" y="206" width="4" height="2" fill="#000080"/><rect x="225" y="206" width="3" height="2" fill="#0000f0"/><rect x="249" y="206" width="2" height="2" fill="#000080"/><rect x="268" y="206" width="2" height="2" fill="#000080"/><rect x="272" y="206" width="3" height="2" fill="#000080"/><rect x="303" y="206" width="2" height="2" fill="#000080"/><rect x="352" y="206" width="3" height="2" fill="#000080"/><rect x="383" y="206" width="2" height="2" fill="#0050ff"/><rect x="416" y="206" width="2" height="2" fill="#000080"/><rect x="451" y="206" width="3" height="2" fill="#000080"/><rect x="477" y="206" width="2" height="2" fill="#000080"/><rect x="489" y="206" width="2" height="2" fill="#000080"/><rect x="564" y="206" width="3" height="2" fill="#000080"/><rect x="583" y="206" width="2" height="2" fill="#000080"/><rect x="614" y="206" width="2" height="2" fill="#000080"/><rect x="623" y="206" width="2" height="2" fill="#000080"/><rect x="689" y="206" width="2" height="2" fill="#000080"/><rect x="712" y="206" width="3" height="2" fill="#000080"/><rect x="736" y="206" width="2" height="2" fill="#000080"/><rect x="778" y="206" width="3" height="2" fill="#000080"/><rect x="792" y="206" width="3" height="2" fill="#000080"/><rect x="223" y="203" width="2" height="3" fill="#0000f0"/><rect x="242" y="203" width="2" height="3" fill="#0000f0"/><rect x="244" y="203" width="5" height="3" fill="#000080"/><rect x="251" y="203" width="3" height="3" fill="#000080"/><rect x="258" y="203" width="3" height="3" fill="#000080"/><rect x="275" y="203" width="2" height="3" fill="#000080"/><rect x="322" y="203" width="2" height="3" fill="#000080"/><rect x="331" y="203" width="3" height="3" fill="#000080"/><rect x="364" y="203" width="2" height="3" fill="#000080"/><rect x="406" y="203" width="3" height="3" fill="#000080"/><rect x="578" y="203" width="3" height="3" fill="#000080"/><rect x="736" y="203" width="2" height="3" fill="#000080"/><rect x="745" y="203" width="3" height="3" fill="#000080"/><rect x="816" y="203" width="2" height="3" fill="#000080"/><rect x="828" y="203" width="2" height="3" fill="#000080"/><rect x="141" y="201" width="2" height="2" fill="#000080"/><rect x="166" y="201" width="3" height="2" fill="#000080"/><rect x="181" y="201" width="2" height="2" fill="#000080"/><rect x="197" y="201" width="2" height="2" fill="#000080"/><rect x="206" y="201" width="5" height="2" fill="#000080"/><rect x="223" y="201" width="2" height="2" fill="#000080"/><rect x="254" y="201" width="2" height="2" fill="#000080"/><rect x="263" y="201" width="2" height="2" fill="#000080"/><rect x="270" y="201" width="2" height="2" fill="#000080"/><rect x="284" y="201" width="2" height="2" fill="#000080"/><rect x="319" y="201" width="3" height="2" fill="#000080"/><rect x="369" y="201" width="2" height="2" fill="#000080"/><rect x="456" y="201" width="2" height="2" fill="#000080"/><rect x="463" y="201" width="2" height="2" fill="#000080"/><rect x="486" y="201" width="3" height="2" fill="#000080"/><rect x="527" y="201" width="2" height="2" fill="#000080"/><rect x="545" y="201" width="3" height="2" fill="#000080"/><rect x="644" y="201" width="3" height="2" fill="#000080"/><rect x="715" y="201" width="2" height="2" fill="#000080"/><rect x="724" y="201" width="3" height="2" fill="#0000f0"/><rect x="762" y="201" width="2" height="2" fill="#000080"/><rect x="795" y="201" width="2" height="2" fill="#000080"/><rect x="145" y="199" width="3" height="2" fill="#0000f0"/><rect x="192" y="199" width="3" height="2" fill="#000080"/><rect x="199" y="199" width="3" height="2" fill="#000080"/><rect x="206" y="199" width="3" height="2" fill="#000080"/><rect x="232" y="199" width="5" height="2" fill="#000080"/><rect x="282" y="199" width="2" height="2" fill="#000080"/><rect x="310" y="199" width="5" height="2" fill="#000080"/><rect x="317" y="199" width="2" height="2" fill="#000080"/><rect x="329" y="199" width="5" height="2" fill="#000080"/><rect x="350" y="199" width="2" height="2" fill="#000080"/><rect x="359" y="199" width="3" height="2" fill="#000080"/><rect x="378" y="199" width="3" height="2" fill="#000080"/><rect x="388" y="199" width="2" height="2" fill="#000080"/><rect x="404" y="199" width="2" height="2" fill="#000080"/><rect x="484" y="199" width="2" height="2" fill="#000080"/><rect x="505" y="199" width="3" height="2" fill="#000080"/><rect x="661" y="199" width="2" height="2" fill="#0000f0"/><rect x="696" y="199" width="2" height="2" fill="#000080"/><rect x="705" y="199" width="3" height="2" fill="#000080"/><rect x="776" y="199" width="2" height="2" fill="#000080"/><rect x="145" y="196" width="3" height="3" fill="#000080"/><rect x="166" y="196" width="3" height="3" fill="#000080"/><rect x="254" y="196" width="4" height="3" fill="#000080"/><rect x="286" y="196" width="3" height="3" fill="#000080"/><rect x="308" y="196" width="2" height="3" fill="#000080"/><rect x="324" y="196" width="5" height="3" fill="#000080"/><rect x="341" y="196" width="4" height="3" fill="#0000f0"/><rect x="371" y="196" width="3" height="3" fill="#000080"/><rect x="399" y="196" width="3" height="3" fill="#000080"/><rect x="406" y="196" width="3" height="3" fill="#000080"/><rect x="423" y="196" width="7" height="3" fill="#000080"/><rect x="442" y="196" width="2" height="3" fill="#000080"/><rect x="456" y="196" width="2" height="3" fill="#0000f0"/><rect x="465" y="196" width="3" height="3" fill="#000080"/><rect x="541" y="196" width="2" height="3" fill="#000080"/><rect x="571" y="196" width="3" height="3" fill="#000080"/><rect x="614" y="196" width="2" height="3" fill="#000080"/><rect x="134" y="194" width="2" height="2" fill="#000080"/><rect x="143" y="194" width="2" height="2" fill="#000080"/><rect x="150" y="194" width="2" height="2" fill="#000080"/><rect x="162" y="194" width="2" height="2" fill="#000080"/><rect x="178" y="194" width="3" height="2" fill="#000080"/><rect x="195" y="194" width="2" height="2" fill="#000080"/><rect x="221" y="194" width="2" height="2" fill="#000080"/><rect x="237" y="194" width="2" height="2" fill="#000080"/><rect x="244" y="194" width="2" height="2" fill="#000080"/><rect x="268" y="194" width="2" height="2" fill="#000080"/><rect x="284" y="194" width="2" height="2" fill="#000080"/><rect x="294" y="194" width="2" height="2" fill="#000080"/><rect x="350" y="194" width="2" height="2" fill="#000080"/><rect x="366" y="194" width="3" height="2" fill="#000080"/><rect x="371" y="194" width="3" height="2" fill="#000080"/><rect x="399" y="194" width="3" height="2" fill="#000080"/><rect x="404" y="194" width="2" height="2" fill="#000080"/><rect x="435" y="194" width="2" height="2" fill="#000080"/><rect x="470" y="194" width="2" height="2" fill="#000080"/><rect x="510" y="194" width="2" height="2" fill="#000080"/><rect x="569" y="194" width="2" height="2" fill="#000080"/><rect x="595" y="194" width="2" height="2" fill="#000080"/><rect x="609" y="194" width="2" height="2" fill="#000080"/><rect x="630" y="194" width="2" height="2" fill="#000080"/><rect x="642" y="194" width="2" height="2" fill="#000080"/><rect x="654" y="194" width="2" height="2" fill="#000080"/><rect x="696" y="194" width="2" height="2" fill="#000080"/><rect x="774" y="194" width="2" height="2" fill="#000080"/><rect x="818" y="194" width="3" height="2" fill="#000080"/><rect x="159" y="192" width="3" height="2" fill="#000080"/><rect x="223" y="192" width="2" height="2" fill="#000080"/><rect x="244" y="192" width="2" height="2" fill="#000080"/><rect x="277" y="192" width="2" height="2" fill="#000080"/><rect x="362" y="192" width="2" height="2" fill="#000080"/><rect x="390" y="192" width="2" height="2" fill="#000080"/><rect x="432" y="192" width="3" height="2" fill="#0000f0"/><rect x="439" y="192" width="3" height="2" fill="#000080"/><rect x="461" y="192" width="2" height="2" fill="#000080"/><rect x="470" y="192" width="2" height="2" fill="#000080"/><rect x="501" y="192" width="2" height="2" fill="#000080"/><rect x="517" y="192" width="2" height="2" fill="#000080"/><rect x="534" y="192" width="2" height="2" fill="#000080"/><rect x="559" y="192" width="3" height="2" fill="#000080"/><rect x="599" y="192" width="5" height="2" fill="#000080"/><rect x="609" y="192" width="2" height="2" fill="#000080"/><rect x="672" y="192" width="3" height="2" fill="#000080"/><rect x="677" y="192" width="2" height="2" fill="#000080"/><rect x="719" y="192" width="3" height="2" fill="#000080"/><rect x="738" y="192" width="3" height="2" fill="#000080"/><rect x="757" y="192" width="2" height="2" fill="#000080"/><rect x="804" y="192" width="5" height="2" fill="#000080"/><rect x="823" y="192" width="2" height="2" fill="#000080"/><rect x="832" y="192" width="3" height="2" fill="#000080"/><rect x="178" y="189" width="3" height="3" fill="#000080"/><rect x="188" y="189" width="2" height="3" fill="#000080"/><rect x="216" y="189" width="2" height="3" fill="#000080"/><rect x="221" y="189" width="2" height="3" fill="#000080"/><rect x="258" y="189" width="3" height="3" fill="#000080"/><rect x="275" y="189" width="2" height="3" fill="#000080"/><rect x="312" y="189" width="3" height="3" fill="#000080"/><rect x="366" y="189" width="3" height="3" fill="#000080"/><rect x="411" y="189" width="5" height="3" fill="#000080"/><rect x="418" y="189" width="3" height="3" fill="#000080"/><rect x="430" y="189" width="2" height="3" fill="#000080"/><rect x="465" y="189" width="3" height="3" fill="#000080"/><rect x="472" y="189" width="3" height="3" fill="#000080"/><rect x="489" y="189" width="2" height="3" fill="#000080"/><rect x="576" y="189" width="2" height="3" fill="#000080"/><rect x="590" y="189" width="2" height="3" fill="#000080"/><rect x="618" y="189" width="3" height="3" fill="#000080"/><rect x="672" y="189" width="3" height="3" fill="#000080"/><rect x="679" y="189" width="3" height="3" fill="#000080"/><rect x="705" y="189" width="3" height="3" fill="#000080"/><rect x="835" y="189" width="5" height="3" fill="#000080"/><rect x="138" y="187" width="3" height="2" fill="#000080"/><rect x="183" y="187" width="2" height="2" fill="#000080"/><rect x="188" y="187" width="2" height="2" fill="#000080"/><rect x="232" y="187" width="3" height="2" fill="#000080"/><rect x="244" y="187" width="5" height="2" fill="#000080"/><rect x="263" y="187" width="2" height="2" fill="#000080"/><rect x="275" y="187" width="2" height="2" fill="#000080"/><rect x="296" y="187" width="2" height="2" fill="#000080"/><rect x="310" y="187" width="2" height="2" fill="#000080"/><rect x="350" y="187" width="2" height="2" fill="#000080"/><rect x="352" y="187" width="3" height="2" fill="#0000f0"/><rect x="364" y="187" width="2" height="2" fill="#000080"/><rect x="383" y="187" width="5" height="2" fill="#000080"/><rect x="395" y="187" width="2" height="2" fill="#000080"/><rect x="428" y="187" width="2" height="2" fill="#000080"/><rect x="446" y="187" width="3" height="2" fill="#000080"/><rect x="451" y="187" width="3" height="2" fill="#000080"/><rect x="458" y="187" width="5" height="2" fill="#000080"/><rect x="531" y="187" width="3" height="2" fill="#000080"/><rect x="644" y="187" width="3" height="2" fill="#000080"/><rect x="694" y="187" width="2" height="2" fill="#000080"/><rect x="741" y="187" width="2" height="2" fill="#000080"/><rect x="795" y="187" width="2" height="2" fill="#000080"/><rect x="807" y="187" width="2" height="2" fill="#000080"/><rect x="134" y="185" width="2" height="2" fill="#000080"/><rect x="138" y="185" width="3" height="2" fill="#000080"/><rect x="166" y="185" width="3" height="2" fill="#000080"/><rect x="209" y="185" width="2" height="2" fill="#000080"/><rect x="239" y="185" width="3" height="2" fill="#000080"/><rect x="279" y="185" width="3" height="2" fill="#000080"/><rect x="324" y="185" width="2" height="2" fill="#000080"/><rect x="341" y="185" width="2" height="2" fill="#000080"/><rect x="374" y="185" width="2" height="2" fill="#000080"/><rect x="383" y="185" width="2" height="2" fill="#000080"/><rect x="416" y="185" width="2" height="2" fill="#000080"/><rect x="423" y="185" width="2" height="2" fill="#000080"/><rect x="444" y="185" width="2" height="2" fill="#000080"/><rect x="472" y="185" width="3" height="2" fill="#000080"/><rect x="486" y="185" width="3" height="2" fill="#000080"/><rect x="545" y="185" width="3" height="2" fill="#000080"/><rect x="567" y="185" width="2" height="2" fill="#0000f0"/><rect x="583" y="185" width="2" height="2" fill="#000080"/><rect x="665" y="185" width="3" height="2" fill="#000080"/><rect x="712" y="185" width="3" height="2" fill="#0000f0"/><rect x="823" y="185" width="2" height="2" fill="#000080"/><rect x="143" y="182" width="2" height="3" fill="#0000f0"/><rect x="157" y="182" width="2" height="3" fill="#000080"/><rect x="169" y="182" width="5" height="3" fill="#000080"/><rect x="185" y="182" width="3" height="3" fill="#000080"/><rect x="214" y="182" width="2" height="3" fill="#000080"/><rect x="223" y="182" width="2" height="3" fill="#000080"/><rect x="244" y="182" width="2" height="3" fill="#000080"/><rect x="268" y="182" width="4" height="3" fill="#000080"/><rect x="282" y="182" width="2" height="3" fill="#000080"/><rect x="336" y="182" width="2" height="3" fill="#000080"/><rect x="364" y="182" width="2" height="3" fill="#000080"/><rect x="406" y="182" width="3" height="3" fill="#000080"/><rect x="416" y="182" width="2" height="3" fill="#000080"/><rect x="463" y="182" width="2" height="3" fill="#000080"/><rect x="496" y="182" width="2" height="3" fill="#000080"/><rect x="524" y="182" width="3" height="3" fill="#000080"/><rect x="541" y="182" width="2" height="3" fill="#000080"/><rect x="574" y="182" width="2" height="3" fill="#000080"/><rect x="616" y="182" width="2" height="3" fill="#000080"/><rect x="687" y="182" width="2" height="3" fill="#000080"/><rect x="722" y="182" width="2" height="3" fill="#000080"/><rect x="745" y="182" width="3" height="3" fill="#000080"/><rect x="145" y="180" width="3" height="2" fill="#000080"/><rect x="155" y="180" width="2" height="2" fill="#000080"/><rect x="169" y="180" width="2" height="2" fill="#000080"/><rect x="192" y="180" width="3" height="2" fill="#000080"/><rect x="223" y="180" width="2" height="2" fill="#000080"/><rect x="251" y="180" width="3" height="2" fill="#000080"/><rect x="284" y="180" width="2" height="2" fill="#000080"/><rect x="298" y="180" width="3" height="2" fill="#000080"/><rect x="317" y="180" width="5" height="2" fill="#000080"/><rect x="329" y="180" width="5" height="2" fill="#000080"/><rect x="359" y="180" width="3" height="2" fill="#000080"/><rect x="374" y="180" width="2" height="2" fill="#000080"/><rect x="399" y="180" width="3" height="2" fill="#000080"/><rect x="456" y="180" width="2" height="2" fill="#000080"/><rect x="465" y="180" width="3" height="2" fill="#000080"/><rect x="524" y="180" width="3" height="2" fill="#000080"/><rect x="628" y="180" width="2" height="2" fill="#000080"/><rect x="745" y="180" width="3" height="2" fill="#000080"/><rect x="755" y="180" width="2" height="2" fill="#000080"/><rect x="778" y="180" width="3" height="2" fill="#000080"/><rect x="790" y="180" width="2" height="2" fill="#000080"/><rect x="134" y="177" width="2" height="3" fill="#000080"/><rect x="178" y="177" width="3" height="3" fill="#000080"/><rect x="206" y="177" width="3" height="3" fill="#000080"/><rect x="211" y="177" width="3" height="3" fill="#000080"/><rect x="270" y="177" width="5" height="3" fill="#000080"/><rect x="296" y="177" width="2" height="3" fill="#000080"/><rect x="352" y="177" width="3" height="3" fill="#000080"/><rect x="374" y="177" width="2" height="3" fill="#000080"/><rect x="425" y="177" width="3" height="3" fill="#000080"/><rect x="435" y="177" width="2" height="3" fill="#000080"/><rect x="439" y="177" width="3" height="3" fill="#000080"/><rect x="444" y="177" width="2" height="3" fill="#000080"/><rect x="449" y="177" width="2" height="3" fill="#000080"/><rect x="468" y="177" width="2" height="3" fill="#000080"/><rect x="512" y="177" width="3" height="3" fill="#000080"/><rect x="522" y="177" width="2" height="3" fill="#000080"/><rect x="538" y="177" width="3" height="3" fill="#000080"/><rect x="588" y="177" width="2" height="3" fill="#000080"/><rect x="656" y="177" width="2" height="3" fill="#000080"/><rect x="743" y="177" width="2" height="3" fill="#000080"/><rect x="141" y="175" width="2" height="2" fill="#000080"/><rect x="148" y="175" width="2" height="2" fill="#000080"/><rect x="162" y="175" width="2" height="2" fill="#000080"/><rect x="169" y="175" width="2" height="2" fill="#000080"/><rect x="174" y="175" width="2" height="2" fill="#000080"/><rect x="192" y="175" width="3" height="2" fill="#000080"/><rect x="197" y="175" width="2" height="2" fill="#000080"/><rect x="221" y="175" width="2" height="2" fill="#000080"/><rect x="242" y="175" width="4" height="2" fill="#000080"/><rect x="256" y="175" width="2" height="2" fill="#000080"/><rect x="263" y="175" width="2" height="2" fill="#000080"/><rect x="272" y="175" width="3" height="2" fill="#0000f0"/><rect x="303" y="175" width="2" height="2" fill="#000080"/><rect x="326" y="175" width="3" height="2" fill="#000080"/><rect x="338" y="175" width="5" height="2" fill="#000080"/><rect x="374" y="175" width="2" height="2" fill="#000080"/><rect x="397" y="175" width="2" height="2" fill="#000080"/><rect x="411" y="175" width="3" height="2" fill="#000080"/><rect x="432" y="175" width="3" height="2" fill="#000080"/><rect x="439" y="175" width="3" height="2" fill="#000080"/><rect x="454" y="175" width="2" height="2" fill="#000080"/><rect x="468" y="175" width="2" height="2" fill="#000080"/><rect x="484" y="175" width="2" height="2" fill="#000080"/><rect x="489" y="175" width="2" height="2" fill="#000080"/><rect x="512" y="175" width="3" height="2" fill="#000080"/><rect x="745" y="175" width="3" height="2" fill="#000080"/><rect x="752" y="175" width="3" height="2" fill="#000080"/><rect x="776" y="175" width="2" height="2" fill="#000080"/><rect x="818" y="175" width="3" height="2" fill="#000080"/><rect x="171" y="173" width="3" height="2" fill="#000080"/><rect x="195" y="173" width="2" height="2" fill="#000080"/><rect x="232" y="173" width="3" height="2" fill="#0000f0"/><rect x="277" y="173" width="2" height="2" fill="#000080"/><rect x="284" y="173" width="2" height="2" fill="#000080"/><rect x="317" y="173" width="2" height="2" fill="#000080"/><rect x="338" y="173" width="3" height="2" fill="#000080"/><rect x="355" y="173" width="2" height="2" fill="#000080"/><rect x="362" y="173" width="2" height="2" fill="#000080"/><rect x="371" y="173" width="3" height="2" fill="#000080"/><rect x="385" y="173" width="3" height="2" fill="#000080"/><rect x="406" y="173" width="3" height="2" fill="#000080"/><rect x="423" y="173" width="2" height="2" fill="#000080"/><rect x="468" y="173" width="2" height="2" fill="#000080"/><rect x="534" y="173" width="2" height="2" fill="#000080"/><rect x="538" y="173" width="3" height="2" fill="#000080"/><rect x="618" y="173" width="3" height="2" fill="#000080"/><rect x="647" y="173" width="2" height="2" fill="#000080"/><rect x="672" y="173" width="3" height="2" fill="#000080"/><rect x="698" y="173" width="3" height="2" fill="#000080"/><rect x="705" y="173" width="3" height="2" fill="#0000f0"/><rect x="717" y="173" width="2" height="2" fill="#000080"/><rect x="795" y="173" width="2" height="2" fill="#000080"/><rect x="134" y="170" width="2" height="3" fill="#000080"/><rect x="141" y="170" width="2" height="3" fill="#0050ff"/><rect x="185" y="170" width="3" height="3" fill="#000080"/><rect x="195" y="170" width="2" height="3" fill="#000080"/><rect x="209" y="170" width="2" height="3" fill="#000080"/><rect x="303" y="170" width="5" height="3" fill="#000080"/><rect x="310" y="170" width="2" height="3" fill="#000080"/><rect x="326" y="170" width="3" height="3" fill="#000080"/><rect x="338" y="170" width="3" height="3" fill="#000080"/><rect x="355" y="170" width="2" height="3" fill="#000080"/><rect x="399" y="170" width="3" height="3" fill="#000080"/><rect x="406" y="170" width="3" height="3" fill="#000080"/><rect x="503" y="170" width="2" height="3" fill="#000080"/><rect x="564" y="170" width="3" height="3" fill="#000080"/><rect x="576" y="170" width="2" height="3" fill="#000080"/><rect x="588" y="170" width="2" height="3" fill="#000080"/><rect x="595" y="170" width="2" height="3" fill="#000080"/><rect x="677" y="170" width="2" height="3" fill="#000080"/><rect x="785" y="170" width="3" height="3" fill="#000080"/><rect x="162" y="145" width="2" height="2" fill="#000080"/><rect x="223" y="145" width="2" height="2" fill="#000080"/><rect x="275" y="145" width="2" height="2" fill="#0000f0"/><rect x="326" y="145" width="3" height="2" fill="#000080"/><rect x="343" y="145" width="2" height="2" fill="#000080"/><rect x="366" y="145" width="3" height="2" fill="#000080"/><rect x="376" y="145" width="2" height="2" fill="#000080"/><rect x="381" y="145" width="2" height="2" fill="#000080"/><rect x="409" y="145" width="2" height="2" fill="#000080"/><rect x="432" y="145" width="5" height="2" fill="#000080"/><rect x="465" y="145" width="3" height="2" fill="#000080"/><rect x="472" y="145" width="5" height="2" fill="#000080"/><rect x="508" y="145" width="2" height="2" fill="#000080"/><rect x="583" y="145" width="2" height="2" fill="#000080"/><rect x="635" y="145" width="2" height="2" fill="#000080"/><rect x="651" y="145" width="3" height="2" fill="#0000f0"/><rect x="672" y="145" width="3" height="2" fill="#000080"/><rect x="677" y="145" width="2" height="2" fill="#000080"/><rect x="696" y="145" width="2" height="2" fill="#000080"/><rect x="701" y="145" width="2" height="2" fill="#000080"/><rect x="708" y="145" width="4" height="2" fill="#000080"/><rect x="724" y="145" width="3" height="2" fill="#000080"/><rect x="814" y="145" width="2" height="2" fill="#000080"/><rect x="138" y="142" width="3" height="3" fill="#000080"/><rect x="152" y="142" width="3" height="3" fill="#0000f0"/><rect x="192" y="142" width="3" height="3" fill="#000080"/><rect x="204" y="142" width="2" height="3" fill="#000080"/><rect x="230" y="142" width="2" height="3" fill="#000080"/><rect x="265" y="142" width="3" height="3" fill="#000080"/><rect x="282" y="142" width="2" height="3" fill="#000080"/><rect x="308" y="142" width="2" height="3" fill="#000080"/><rect x="334" y="142" width="2" height="3" fill="#000080"/><rect x="383" y="142" width="2" height="3" fill="#000080"/><rect x="404" y="142" width="2" height="3" fill="#000080"/><rect x="423" y="142" width="5" height="3" fill="#000080"/><rect x="435" y="142" width="4" height="3" fill="#000080"/><rect x="451" y="142" width="3" height="3" fill="#000080"/><rect x="470" y="142" width="2" height="3" fill="#000080"/><rect x="475" y="142" width="2" height="3" fill="#000080"/><rect x="489" y="142" width="2" height="3" fill="#000080"/><rect x="602" y="142" width="2" height="3" fill="#000080"/><rect x="614" y="142" width="2" height="3" fill="#000080"/><rect x="639" y="142" width="3" height="3" fill="#000080"/><rect x="729" y="142" width="2" height="3" fill="#000080"/><rect x="778" y="142" width="3" height="3" fill="#0000f0"/><rect x="790" y="142" width="2" height="3" fill="#000080"/><rect x="155" y="126" width="2" height="2" fill="#000080"/><rect x="169" y="126" width="2" height="2" fill="#000080"/><rect x="190" y="126" width="2" height="2" fill="#000080"/><rect x="214" y="126" width="2" height="2" fill="#000080"/><rect x="249" y="126" width="2" height="2" fill="#000080"/><rect x="286" y="126" width="3" height="2" fill="#000080"/><rect x="301" y="126" width="2" height="2" fill="#000080"/><rect x="341" y="126" width="2" height="2" fill="#000080"/><rect x="385" y="126" width="3" height="2" fill="#000080"/><rect x="392" y="126" width="3" height="2" fill="#000080"/><rect x="461" y="126" width="2" height="2" fill="#000080"/><rect x="465" y="126" width="3" height="2" fill="#000080"/><rect x="489" y="126" width="2" height="2" fill="#000080"/><rect x="517" y="126" width="2" height="2" fill="#000080"/><rect x="635" y="126" width="2" height="2" fill="#000080"/><rect x="710" y="126" width="2" height="2" fill="#000080"/><rect x="807" y="126" width="2" height="2" fill="#000080"/><rect x="150" y="124" width="2" height="2" fill="#000080"/><rect x="178" y="124" width="3" height="2" fill="#000080"/><rect x="199" y="124" width="3" height="2" fill="#000080"/><rect x="204" y="124" width="2" height="2" fill="#000080"/><rect x="272" y="124" width="3" height="2" fill="#000080"/><rect x="301" y="124" width="4" height="2" fill="#000080"/><rect x="350" y="124" width="2" height="2" fill="#000080"/><rect x="366" y="124" width="3" height="2" fill="#000080"/><rect x="376" y="124" width="2" height="2" fill="#000080"/><rect x="404" y="124" width="2" height="2" fill="#000080"/><rect x="437" y="124" width="2" height="2" fill="#000080"/><rect x="446" y="124" width="3" height="2" fill="#000080"/><rect x="472" y="124" width="3" height="2" fill="#000080"/><rect x="477" y="124" width="2" height="2" fill="#000080"/><rect x="534" y="124" width="2" height="2" fill="#000080"/><rect x="548" y="124" width="2" height="2" fill="#000080"/><rect x="569" y="124" width="2" height="2" fill="#0000f0"/><rect x="599" y="124" width="3" height="2" fill="#0000f0"/><rect x="654" y="124" width="2" height="2" fill="#000080"/><rect x="665" y="124" width="3" height="2" fill="#000080"/><rect x="745" y="124" width="3" height="2" fill="#000080"/><rect x="825" y="124" width="3" height="2" fill="#000080"/><rect x="148" y="121" width="2" height="3" fill="#000080"/><rect x="164" y="121" width="2" height="3" fill="#000080"/><rect x="171" y="121" width="3" height="3" fill="#000080"/><rect x="181" y="121" width="2" height="3" fill="#000080"/><rect x="235" y="121" width="2" height="3" fill="#000080"/><rect x="263" y="121" width="2" height="3" fill="#000080"/><rect x="296" y="121" width="2" height="3" fill="#000080"/><rect x="355" y="121" width="2" height="3" fill="#000080"/><rect x="390" y="121" width="2" height="3" fill="#000080"/><rect x="428" y="121" width="2" height="3" fill="#000080"/><rect x="522" y="121" width="2" height="3" fill="#000080"/><rect x="562" y="121" width="2" height="3" fill="#000080"/><rect x="588" y="121" width="2" height="3" fill="#000080"/><rect x="604" y="121" width="3" height="3" fill="#000080"/><rect x="637" y="121" width="2" height="3" fill="#000080"/><rect x="682" y="121" width="2" height="3" fill="#000080"/><rect x="698" y="121" width="3" height="3" fill="#000080"/><rect x="767" y="121" width="2" height="3" fill="#000080"/><rect x="811" y="121" width="3" height="3" fill="#000080"/><rect x="141" y="119" width="2" height="2" fill="#000080"/><rect x="258" y="119" width="3" height="2" fill="#000080"/><rect x="268" y="119" width="2" height="2" fill="#000080"/><rect x="317" y="119" width="2" height="2" fill="#000080"/><rect x="329" y="119" width="2" height="2" fill="#0000f0"/><rect x="374" y="119" width="2" height="2" fill="#000080"/><rect x="383" y="119" width="2" height="2" fill="#000080"/><rect x="432" y="119" width="3" height="2" fill="#000080"/><rect x="468" y="119" width="4" height="2" fill="#000080"/><rect x="510" y="119" width="2" height="2" fill="#000080"/><rect x="536" y="119" width="2" height="2" fill="#000080"/><rect x="576" y="119" width="2" height="2" fill="#000080"/><rect x="590" y="119" width="2" height="2" fill="#000080"/><rect x="710" y="119" width="2" height="2" fill="#000080"/><rect x="762" y="119" width="2" height="2" fill="#000080"/><rect x="807" y="119" width="2" height="2" fill="#000080"/><rect x="136" y="117" width="2" height="2" fill="#000080"/><rect x="176" y="117" width="2" height="2" fill="#000080"/><rect x="239" y="117" width="3" height="2" fill="#000080"/><rect x="249" y="117" width="2" height="2" fill="#000080"/><rect x="268" y="117" width="2" height="2" fill="#000080"/><rect x="296" y="117" width="2" height="2" fill="#000080"/><rect x="308" y="117" width="4" height="2" fill="#000080"/><rect x="352" y="117" width="3" height="2" fill="#000080"/><rect x="359" y="117" width="3" height="2" fill="#000080"/><rect x="369" y="117" width="2" height="2" fill="#000080"/><rect x="402" y="117" width="2" height="2" fill="#000080"/><rect x="446" y="117" width="3" height="2" fill="#000080"/><rect x="508" y="117" width="4" height="2" fill="#000080"/><rect x="515" y="117" width="2" height="2" fill="#000080"/><rect x="625" y="117" width="3" height="2" fill="#000080"/><rect x="668" y="117" width="2" height="2" fill="#000080"/><rect x="684" y="117" width="3" height="2" fill="#000080"/><rect x="717" y="117" width="2" height="2" fill="#000080"/><rect x="788" y="117" width="2" height="2" fill="#000080"/><rect x="807" y="117" width="2" height="2" fill="#000080"/><rect x="816" y="117" width="2" height="2" fill="#000080"/><rect x="828" y="117" width="2" height="2" fill="#000080"/><rect x="166" y="114" width="3" height="3" fill="#000080"/><rect x="188" y="114" width="2" height="3" fill="#000080"/><rect x="218" y="114" width="3" height="3" fill="#000080"/><rect x="254" y="114" width="2" height="3" fill="#000080"/><rect x="275" y="114" width="2" height="3" fill="#000080"/><rect x="279" y="114" width="3" height="3" fill="#000080"/><rect x="284" y="114" width="2" height="3" fill="#000080"/><rect x="301" y="114" width="2" height="3" fill="#000080"/><rect x="312" y="114" width="3" height="3" fill="#000080"/><rect x="334" y="114" width="2" height="3" fill="#000080"/><rect x="359" y="114" width="3" height="3" fill="#000080"/><rect x="364" y="114" width="2" height="3" fill="#000080"/><rect x="423" y="114" width="2" height="3" fill="#000080"/><rect x="444" y="114" width="2" height="3" fill="#000080"/><rect x="498" y="114" width="3" height="3" fill="#000080"/><rect x="635" y="114" width="2" height="3" fill="#000080"/><rect x="736" y="114" width="2" height="3" fill="#000080"/><rect x="136" y="112" width="2" height="2" fill="#000080"/><rect x="166" y="112" width="5" height="2" fill="#000080"/><rect x="183" y="112" width="2" height="2" fill="#000080"/><rect x="202" y="112" width="2" height="2" fill="#000080"/><rect x="239" y="112" width="3" height="2" fill="#000080"/><rect x="329" y="112" width="2" height="2" fill="#000080"/><rect x="338" y="112" width="3" height="2" fill="#000080"/><rect x="357" y="112" width="2" height="2" fill="#000080"/><rect x="369" y="112" width="2" height="2" fill="#000080"/><rect x="402" y="112" width="2" height="2" fill="#000080"/><rect x="425" y="112" width="3" height="2" fill="#000080"/><rect x="435" y="112" width="4" height="2" fill="#000080"/><rect x="449" y="112" width="2" height="2" fill="#000080"/><rect x="461" y="112" width="2" height="2" fill="#000080"/><rect x="472" y="112" width="3" height="2" fill="#000080"/><rect x="479" y="112" width="3" height="2" fill="#000080"/><rect x="541" y="112" width="2" height="2" fill="#000080"/><rect x="548" y="112" width="2" height="2" fill="#000080"/><rect x="567" y="112" width="2" height="2" fill="#000080"/><rect x="590" y="112" width="2" height="2" fill="#000080"/><rect x="604" y="112" width="3" height="2" fill="#000080"/><rect x="694" y="112" width="4" height="2" fill="#000080"/><rect x="734" y="112" width="2" height="2" fill="#000080"/><rect x="774" y="112" width="2" height="2" fill="#000080"/><rect x="150" y="110" width="2" height="2" fill="#000080"/><rect x="169" y="110" width="2" height="2" fill="#000080"/><rect x="185" y="110" width="3" height="2" fill="#000080"/><rect x="206" y="110" width="3" height="2" fill="#000080"/><rect x="211" y="110" width="3" height="2" fill="#000080"/><rect x="225" y="110" width="3" height="2" fill="#000080"/><rect x="242" y="110" width="2" height="2" fill="#000080"/><rect x="270" y="110" width="2" height="2" fill="#000080"/><rect x="289" y="110" width="2" height="2" fill="#000080"/><rect x="331" y="110" width="3" height="2" fill="#000080"/><rect x="402" y="110" width="2" height="2" fill="#000080"/><rect x="411" y="110" width="3" height="2" fill="#000080"/><rect x="451" y="110" width="3" height="2" fill="#000080"/><rect x="505" y="110" width="3" height="2" fill="#000080"/><rect x="569" y="110" width="2" height="2" fill="#000080"/><rect x="590" y="110" width="2" height="2" fill="#000080"/><rect x="616" y="110" width="2" height="2" fill="#000080"/><rect x="647" y="110" width="2" height="2" fill="#000080"/><rect x="668" y="110" width="2" height="2" fill="#0000f0"/><rect x="752" y="110" width="3" height="2" fill="#000080"/><rect x="204" y="107" width="2" height="3" fill="#000080"/><rect x="211" y="107" width="5" height="3" fill="#000080"/><rect x="277" y="107" width="2" height="3" fill="#000080"/><rect x="315" y="107" width="2" height="3" fill="#000080"/><rect x="322" y="107" width="2" height="3" fill="#000080"/><rect x="383" y="107" width="2" height="3" fill="#000080"/><rect x="423" y="107" width="2" height="3" fill="#000080"/><rect x="444" y="107" width="2" height="3" fill="#000080"/><rect x="454" y="107" width="4" height="3" fill="#000080"/><rect x="472" y="107" width="3" height="3" fill="#000080"/><rect x="486" y="107" width="3" height="3" fill="#000080"/><rect x="559" y="107" width="3" height="3" fill="#000080"/><rect x="701" y="107" width="4" height="3" fill="#000080"/><rect x="769" y="107" width="2" height="3" fill="#000080"/><rect x="785" y="107" width="3" height="3" fill="#000080"/><rect x="832" y="107" width="3" height="3" fill="#000080"/><rect x="183" y="105" width="2" height="2" fill="#000080"/><rect x="265" y="105" width="3" height="2" fill="#000080"/><rect x="348" y="105" width="2" height="2" fill="#000080"/><rect x="357" y="105" width="2" height="2" fill="#000080"/><rect x="409" y="105" width="2" height="2" fill="#000080"/><rect x="428" y="105" width="4" height="2" fill="#000080"/><rect x="595" y="105" width="2" height="2" fill="#000080"/><rect x="630" y="105" width="2" height="2" fill="#000080"/><rect x="668" y="105" width="2" height="2" fill="#000080"/><rect x="148" y="102" width="2" height="3" fill="#000080"/><rect x="157" y="102" width="2" height="3" fill="#000080"/><rect x="171" y="102" width="3" height="3" fill="#000080"/><rect x="188" y="102" width="2" height="3" fill="#000080"/><rect x="230" y="102" width="2" height="3" fill="#000080"/><rect x="258" y="102" width="3" height="3" fill="#000080"/><rect x="329" y="102" width="2" height="3" fill="#0000f0"/><rect x="366" y="102" width="3" height="3" fill="#000080"/><rect x="392" y="102" width="3" height="3" fill="#000080"/><rect x="414" y="102" width="2" height="3" fill="#000080"/><rect x="534" y="102" width="2" height="3" fill="#000080"/><rect x="564" y="102" width="3" height="3" fill="#000080"/><rect x="665" y="102" width="3" height="3" fill="#000080"/><rect x="722" y="102" width="2" height="3" fill="#000080"/><rect x="750" y="102" width="2" height="3" fill="#000080"/><rect x="835" y="102" width="2" height="3" fill="#000080"/><rect x="162" y="100" width="2" height="2" fill="#000080"/><rect x="199" y="100" width="3" height="2" fill="#000080"/><rect x="228" y="100" width="2" height="2" fill="#000080"/><rect x="232" y="100" width="3" height="2" fill="#000080"/><rect x="268" y="100" width="2" height="2" fill="#000080"/><rect x="275" y="100" width="2" height="2" fill="#000080"/><rect x="284" y="100" width="2" height="2" fill="#000080"/><rect x="319" y="100" width="3" height="2" fill="#000080"/><rect x="378" y="100" width="3" height="2" fill="#000080"/><rect x="465" y="100" width="3" height="2" fill="#000080"/><rect x="489" y="100" width="2" height="2" fill="#000080"/><rect x="508" y="100" width="2" height="2" fill="#000080"/><rect x="529" y="100" width="5" height="2" fill="#000080"/><rect x="555" y="100" width="2" height="2" fill="#000080"/><rect x="618" y="100" width="5" height="2" fill="#000080"/><rect x="644" y="100" width="3" height="2" fill="#0000f0"/><rect x="677" y="100" width="2" height="2" fill="#000080"/><rect x="722" y="100" width="2" height="2" fill="#0000f0"/><rect x="797" y="100" width="2" height="2" fill="#000080"/><rect x="152" y="98" width="5" height="2" fill="#000080"/><rect x="171" y="98" width="3" height="2" fill="#000080"/><rect x="216" y="98" width="2" height="2" fill="#000080"/><rect x="277" y="98" width="2" height="2" fill="#000080"/><rect x="310" y="98" width="2" height="2" fill="#000080"/><rect x="319" y="98" width="3" height="2" fill="#000080"/><rect x="329" y="98" width="2" height="2" fill="#000080"/><rect x="369" y="98" width="2" height="2" fill="#000080"/><rect x="409" y="98" width="2" height="2" fill="#000080"/><rect x="449" y="98" width="2" height="2" fill="#000080"/><rect x="463" y="98" width="2" height="2" fill="#000080"/><rect x="581" y="98" width="2" height="2" fill="#000080"/><rect x="597" y="98" width="2" height="2" fill="#000080"/><rect x="623" y="98" width="2" height="2" fill="#000080"/><rect x="691" y="98" width="3" height="2" fill="#000080"/><rect x="745" y="98" width="3" height="2" fill="#0000f0"/><rect x="814" y="98" width="2" height="2" fill="#000080"/><rect x="143" y="95" width="2" height="3" fill="#000080"/><rect x="171" y="95" width="3" height="3" fill="#000080"/><rect x="223" y="95" width="2" height="3" fill="#0000f0"/><rect x="270" y="95" width="2" height="3" fill="#000080"/><rect x="329" y="95" width="2" height="3" fill="#000080"/><rect x="352" y="95" width="3" height="3" fill="#000080"/><rect x="362" y="95" width="2" height="3" fill="#000080"/><rect x="369" y="95" width="2" height="3" fill="#000080"/><rect x="432" y="95" width="3" height="3" fill="#000080"/><rect x="442" y="95" width="2" height="3" fill="#000080"/><rect x="472" y="95" width="3" height="3" fill="#000080"/><rect x="501" y="95" width="2" height="3" fill="#000080"/><rect x="649" y="95" width="2" height="3" fill="#000080"/><rect x="701" y="95" width="2" height="3" fill="#000080"/><rect x="202" y="93" width="2" height="2" fill="#000080"/><rect x="239" y="93" width="3" height="2" fill="#000080"/><rect x="282" y="93" width="2" height="2" fill="#000080"/><rect x="322" y="93" width="2" height="2" fill="#000080"/><rect x="326" y="93" width="3" height="2" fill="#000080"/><rect x="392" y="93" width="3" height="2" fill="#0000f0"/><rect x="395" y="93" width="2" height="2" fill="#000080"/><rect x="519" y="93" width="3" height="2" fill="#000080"/><rect x="576" y="93" width="2" height="2" fill="#000080"/><rect x="616" y="93" width="2" height="2" fill="#000080"/><rect x="684" y="93" width="3" height="2" fill="#000080"/><rect x="712" y="93" width="3" height="2" fill="#000080"/><rect x="750" y="93" width="2" height="2" fill="#000080"/><rect x="762" y="93" width="2" height="2" fill="#000080"/><rect x="811" y="93" width="3" height="2" fill="#000080"/><rect x="150" y="91" width="2" height="2" fill="#000080"/><rect x="171" y="91" width="3" height="2" fill="#000080"/><rect x="178" y="91" width="3" height="2" fill="#000080"/><rect x="185" y="91" width="3" height="2" fill="#000080"/><rect x="209" y="91" width="2" height="2" fill="#000080"/><rect x="286" y="91" width="3" height="2" fill="#000080"/><rect x="303" y="91" width="2" height="2" fill="#0000f0"/><rect x="444" y="91" width="2" height="2" fill="#000080"/><rect x="454" y="91" width="2" height="2" fill="#000080"/><rect x="475" y="91" width="2" height="2" fill="#000080"/><rect x="538" y="91" width="3" height="2" fill="#000080"/><rect x="548" y="91" width="2" height="2" fill="#000080"/><rect x="583" y="91" width="2" height="2" fill="#000080"/><rect x="590" y="91" width="2" height="2" fill="#000080"/><rect x="689" y="91" width="2" height="2" fill="#000080"/><rect x="722" y="91" width="2" height="2" fill="#000080"/><rect x="802" y="91" width="2" height="2" fill="#000080"/><rect x="818" y="91" width="3" height="2" fill="#000080"/><rect x="155" y="88" width="2" height="3" fill="#000080"/><rect x="286" y="88" width="3" height="3" fill="#000080"/><rect x="378" y="88" width="3" height="3" fill="#000080"/><rect x="388" y="88" width="2" height="3" fill="#000080"/><rect x="409" y="88" width="2" height="3" fill="#000080"/><rect x="465" y="88" width="3" height="3" fill="#000080"/><rect x="503" y="88" width="2" height="3" fill="#000080"/><rect x="564" y="88" width="3" height="3" fill="#000080"/><rect x="628" y="88" width="2" height="3" fill="#000080"/><rect x="670" y="88" width="2" height="3" fill="#000080"/><rect x="188" y="86" width="2" height="2" fill="#000080"/><rect x="204" y="86" width="2" height="2" fill="#000080"/><rect x="235" y="86" width="2" height="2" fill="#000080"/><rect x="251" y="86" width="3" height="2" fill="#000080"/><rect x="272" y="86" width="3" height="2" fill="#000080"/><rect x="305" y="86" width="3" height="2" fill="#000080"/><rect x="317" y="86" width="2" height="2" fill="#000080"/><rect x="423" y="86" width="2" height="2" fill="#000080"/><rect x="428" y="86" width="2" height="2" fill="#000080"/><rect x="515" y="86" width="2" height="2" fill="#000080"/><rect x="651" y="86" width="3" height="2" fill="#000080"/><rect x="738" y="86" width="3" height="2" fill="#000080"/><rect x="785" y="86" width="3" height="2" fill="#000080"/><rect x="825" y="86" width="3" height="2" fill="#000080"/><rect x="134" y="84" width="2" height="2" fill="#000080"/><rect x="159" y="84" width="5" height="2" fill="#000080"/><rect x="195" y="84" width="2" height="2" fill="#000080"/><rect x="261" y="84" width="2" height="2" fill="#000080"/><rect x="270" y="84" width="2" height="2" fill="#000080"/><rect x="378" y="84" width="3" height="2" fill="#000080"/><rect x="383" y="84" width="2" height="2" fill="#000080"/><rect x="571" y="84" width="3" height="2" fill="#000080"/><rect x="785" y="84" width="3" height="2" fill="#000080"/><rect x="188" y="81" width="2" height="3" fill="#000080"/><rect x="235" y="81" width="2" height="3" fill="#000080"/><rect x="244" y="81" width="2" height="3" fill="#000080"/><rect x="326" y="81" width="3" height="3" fill="#000080"/><rect x="345" y="81" width="3" height="3" fill="#000080"/><rect x="470" y="81" width="2" height="3" fill="#000080"/><rect x="515" y="81" width="2" height="3" fill="#000080"/><rect x="670" y="81" width="2" height="3" fill="#000080"/><rect x="717" y="81" width="2" height="3" fill="#000080"/><rect x="727" y="81" width="2" height="3" fill="#000080"/><rect x="214" y="79" width="2" height="2" fill="#000080"/><rect x="294" y="79" width="2" height="2" fill="#000080"/><rect x="308" y="79" width="2" height="2" fill="#0000f0"/><rect x="336" y="79" width="2" height="2" fill="#000080"/><rect x="414" y="79" width="2" height="2" fill="#000080"/><rect x="451" y="79" width="3" height="2" fill="#000080"/><rect x="548" y="79" width="2" height="2" fill="#0000f0"/><rect x="590" y="79" width="2" height="2" fill="#000080"/><rect x="691" y="79" width="3" height="2" fill="#000080"/><rect x="752" y="79" width="3" height="2" fill="#000080"/><rect x="209" y="77" width="2" height="2" fill="#000080"/><rect x="392" y="77" width="3" height="2" fill="#000080"/><rect x="416" y="77" width="5" height="2" fill="#000080"/><rect x="444" y="77" width="2" height="2" fill="#000080"/><rect x="498" y="77" width="3" height="2" fill="#000080"/><rect x="647" y="77" width="2" height="2" fill="#000080"/><rect x="825" y="77" width="3" height="2" fill="#000080"/><rect x="138" y="74" width="3" height="3" fill="#000080"/><rect x="618" y="74" width="3" height="3" fill="#000080"/><rect x="717" y="74" width="2" height="3" fill="#000080"/><rect x="319" y="67" width="3" height="3" fill="#000080"/><rect x="374" y="67" width="2" height="3" fill="#000080"/><rect x="458" y="67" width="3" height="3" fill="#000080"/><rect x="515" y="67" width="2" height="3" fill="#000080"/><rect x="832" y="67" width="3" height="3" fill="#000080"/><rect x="176" y="65" width="2" height="2" fill="#000080"/><rect x="797" y="65" width="2" height="2" fill="#000080"/><rect x="197" y="63" width="2" height="2" fill="#000080"/><rect x="211" y="63" width="3" height="2" fill="#000080"/><rect x="152" y="60" width="3" height="3" fill="#000080"/><rect x="482" y="60" width="2" height="3" fill="#000080"/><rect x="494" y="60" width="2" height="3" fill="#000080"/><rect x="825" y="60" width="3" height="3" fill="#000080"/></g></g><path d="M133.5,58.5H839.5V319.5H133.5Z" fill="none" stroke="#262626" stroke-width="1"/><path d="M133.5,319.66h-5M839.5,319.66h4M133.5,315.09h-5M839.5,315.09h4M133.5,311.12h-5M839.5,311.12h4M133.5,307.63h-5M839.5,307.63h4M133.5,304.50h-9M839.5,304.50h8M133.5,283.92h-5M839.5,283.92h4M133.5,271.89h-5M839.5,271.89h4M133.5,263.35h-5M839.5,263.35h4M133.5,256.73h-5M839.5,256.73h4M133.5,251.31h-5M839.5,251.31h4M133.5,246.74h-5M839.5,246.74h4M133.5,242.77h-5M839.5,242.77h4M133.5,239.28h-5M839.5,239.28h4M133.5,236.15h-9M839.5,236.15h8M133.5,215.57h-5M839.5,215.57h4M133.5,203.54h-5M839.5,203.54h4M133.5,195.00h-5M839.5,195.00h4M133.5,188.38h-5M839.5,188.38h4M133.5,182.96h-5M839.5,182.96h4M133.5,178.39h-5M839.5,178.39h4M133.5,174.42h-5M839.5,174.42h4M133.5,170.93h-5M839.5,170.93h4M133.5,167.80h-9M839.5,167.80h8M133.5,147.22h-5M839.5,147.22h4M133.5,135.19h-5M839.5,135.19h4M133.5,126.65h-5M839.5,126.65h4M133.5,120.03h-5M839.5,120.03h4M133.5,114.61h-5M839.5,114.61h4M133.5,110.04h-5M839.5,110.04h4M133.5,106.07h-5M839.5,106.07h4M133.5,102.58h-5M839.5,102.58h4M133.5,99.45h-9M839.5,99.45h8M133.5,78.87h-5M839.5,78.87h4M133.5,66.84h-5M839.5,66.84h4M133.5,58.30h-5M839.5,58.30h4M133.50,58.5v-8M133.50,319.5v8M250.50,58.5v-8M250.50,319.5v8M368.50,58.5v-8M368.50,319.5v8M486.50,58.5v-8M486.50,319.5v8M603.50,58.5v-8M603.50,319.5v8M721.50,58.5v-8M721.50,319.5v8M839.50,58.5v-8M839.50,319.5v8" stroke="#262626" stroke-width="1" fill="none"/><text transform="translate(119.30,310.20) scale(1,1.04)" text-anchor="end" class="tl">10</text><text transform="translate(119.30,241.85) scale(1,1.04)" text-anchor="end" class="tl">100</text><text transform="translate(119.30,173.50) scale(1,1.04)" text-anchor="end" class="tl">1000</text><text transform="translate(119.30,105.15) scale(1,1.04)" text-anchor="end" class="tl">10000</text><text transform="translate(132.70,349.70) scale(1,1.04)" text-anchor="middle" class="tl">20:00</text><text transform="translate(250.37,349.70) scale(1,1.04)" text-anchor="middle" class="tl">20:10</text><text transform="translate(368.03,349.70) scale(1,1.04)" text-anchor="middle" class="tl">20:20</text><text transform="translate(485.70,349.70) scale(1,1.04)" text-anchor="middle" class="tl">20:30</text><text transform="translate(603.37,349.70) scale(1,1.04)" text-anchor="middle" class="tl">20:40</text><text transform="translate(721.03,349.70) scale(1,1.04)" text-anchor="middle" class="tl">20:50</text><text transform="translate(838.70,349.70) scale(1,1.04)" text-anchor="middle" class="tl">21:00</text><text transform="translate(486.50,375.50) scale(1,1.06)" text-anchor="middle" class="lb">Time</text><text transform="translate(52.00,189.70) rotate(-90) scale(1,1.07)" text-anchor="middle" class="lb">Energy (eV)</text><text transform="translate(486.50,49.10)" text-anchor="middle" class="tt">Solar Wind Ions</text><rect x="873.5" y="58.5" width="23" height="261.0" fill="url(#jet)" stroke="#262626" stroke-width="1"/><text transform="translate(902.90,325.00) scale(1,1.04)" text-anchor="start" class="tl">0</text><text transform="translate(902.90,272.80) scale(1,1.04)" text-anchor="start" class="tl">1</text><text transform="translate(902.90,220.60) scale(1,1.04)" text-anchor="start" class="tl">2</text><text transform="translate(902.90,168.40) scale(1,1.04)" text-anchor="start" class="tl">3</text><text transform="translate(902.90,116.20) scale(1,1.04)" text-anchor="start" class="tl">4</text><text transform="translate(902.90,64.00) scale(1,1.04)" text-anchor="start" class="tl">5</text><text transform="translate(836.20,46.80) scale(1,1.02)" text-anchor="start" class="cl">Log counts</text><g id="data1" shape-rendering="crispEdges"><g><rect x="727" y="616" width="2" height="2" fill="#9c9cd6"/><rect x="724" y="616" width="3" height="2" fill="#9c9cd6"/><rect x="672" y="616" width="3" height="2" fill="#9c9cd6"/><rect x="644" y="616" width="3" height="2" fill="#9c9cd6"/><rect x="463" y="616" width="2" height="2" fill="#9c9cd6"/><rect x="414" y="616" width="2" height="2" fill="#9c9cd6"/><rect x="411" y="616" width="3" height="2" fill="#9c9cd6"/><rect x="369" y="616" width="2" height="2" fill="#9c9cd6"/><rect x="326" y="616" width="3" height="2" fill="#9c9cd6"/><rect x="258" y="616" width="3" height="2" fill="#9c9cd6"/><rect x="244" y="616" width="2" height="2" fill="#9c9cd6"/><rect x="242" y="616" width="2" height="2" fill="#9c9cd6"/><rect x="138" y="616" width="3" height="2" fill="#9c9cd6"/><rect x="141" y="669" width="2" height="15" fill="#000080"/><rect x="145" y="669" width="5" height="15" fill="#000080"/><rect x="181" y="669" width="7" height="15" fill="#000080"/><rect x="218" y="669" width="5" height="15" fill="#000080"/><rect x="225" y="669" width="3" height="15" fill="#000080"/><rect x="230" y="669" width="5" height="15" fill="#000080"/><rect x="251" y="669" width="3" height="15" fill="#0000f0"/><rect x="256" y="669" width="2" height="15" fill="#000080"/><rect x="261" y="669" width="2" height="15" fill="#0000f0"/><rect x="279" y="669" width="3" height="15" fill="#000080"/><rect x="284" y="669" width="2" height="15" fill="#000080"/><rect x="289" y="669" width="7" height="15" fill="#000080"/><rect x="298" y="669" width="3" height="15" fill="#0000f0"/><rect x="326" y="669" width="3" height="15" fill="#0000f0"/><rect x="331" y="669" width="3" height="15" fill="#0050ff"/><rect x="334" y="669" width="2" height="15" fill="#000080"/><rect x="338" y="669" width="3" height="15" fill="#0000f0"/><rect x="369" y="669" width="2" height="15" fill="#000080"/><rect x="402" y="669" width="4" height="15" fill="#000080"/><rect x="406" y="669" width="3" height="15" fill="#0000f0"/><rect x="411" y="669" width="3" height="15" fill="#000080"/><rect x="418" y="669" width="3" height="15" fill="#000080"/><rect x="435" y="669" width="2" height="15" fill="#000080"/><rect x="439" y="669" width="3" height="15" fill="#000080"/><rect x="444" y="669" width="2" height="15" fill="#0050ff"/><rect x="463" y="669" width="2" height="15" fill="#000080"/><rect x="477" y="669" width="2" height="15" fill="#000080"/><rect x="482" y="669" width="2" height="15" fill="#000080"/><rect x="491" y="669" width="3" height="15" fill="#000080"/><rect x="515" y="669" width="4" height="15" fill="#000080"/><rect x="538" y="669" width="3" height="15" fill="#000080"/><rect x="595" y="669" width="2" height="15" fill="#0050ff"/><rect x="623" y="669" width="2" height="15" fill="#000080"/><rect x="628" y="669" width="2" height="15" fill="#0000f0"/><rect x="632" y="669" width="3" height="15" fill="#000080"/><rect x="635" y="669" width="2" height="15" fill="#0050ff"/><rect x="665" y="669" width="3" height="15" fill="#000080"/><rect x="670" y="669" width="2" height="15" fill="#000080"/><rect x="677" y="669" width="2" height="15" fill="#0000f0"/><rect x="708" y="669" width="4" height="15" fill="#0050ff"/><rect x="715" y="669" width="2" height="15" fill="#000080"/><rect x="719" y="669" width="3" height="15" fill="#000080"/><rect x="743" y="669" width="2" height="15" fill="#000080"/><rect x="745" y="669" width="5" height="15" fill="#0050ff"/><rect x="778" y="669" width="3" height="15" fill="#000080"/><rect x="783" y="669" width="5" height="15" fill="#000080"/><rect x="821" y="669" width="2" height="15" fill="#0050ff"/><rect x="823" y="669" width="5" height="15" fill="#000080"/><rect x="138" y="657" width="3" height="12" fill="#0050ff"/><rect x="141" y="657" width="2" height="12" fill="#0000f0"/><rect x="143" y="657" width="2" height="12" fill="#00f8e8"/><rect x="145" y="657" width="3" height="12" fill="#000080"/><rect x="148" y="657" width="2" height="12" fill="#70ff90"/><rect x="150" y="657" width="5" height="12" fill="#0050ff"/><rect x="155" y="657" width="2" height="12" fill="#000080"/><rect x="176" y="657" width="9" height="12" fill="#0050ff"/><rect x="185" y="657" width="3" height="12" fill="#000080"/><rect x="192" y="657" width="3" height="12" fill="#000080"/><rect x="216" y="657" width="5" height="12" fill="#0050ff"/><rect x="221" y="657" width="2" height="12" fill="#00f8e8"/><rect x="223" y="657" width="7" height="12" fill="#0050ff"/><rect x="230" y="657" width="2" height="12" fill="#000080"/><rect x="251" y="657" width="3" height="12" fill="#70ff90"/><rect x="254" y="657" width="2" height="12" fill="#0000f0"/><rect x="256" y="657" width="2" height="12" fill="#0050ff"/><rect x="258" y="657" width="3" height="12" fill="#00c0ff"/><rect x="261" y="657" width="2" height="12" fill="#70ff90"/><rect x="263" y="657" width="5" height="12" fill="#000080"/><rect x="270" y="657" width="2" height="12" fill="#000080"/><rect x="286" y="657" width="3" height="12" fill="#000080"/><rect x="289" y="657" width="5" height="12" fill="#0050ff"/><rect x="294" y="657" width="2" height="12" fill="#00f8e8"/><rect x="296" y="657" width="5" height="12" fill="#00c0ff"/><rect x="301" y="657" width="2" height="12" fill="#0050ff"/><rect x="303" y="657" width="2" height="12" fill="#000080"/><rect x="308" y="657" width="2" height="12" fill="#000080"/><rect x="322" y="657" width="2" height="12" fill="#000080"/><rect x="326" y="657" width="3" height="12" fill="#0000f0"/><rect x="329" y="657" width="2" height="12" fill="#0050ff"/><rect x="331" y="657" width="3" height="12" fill="#70ff90"/><rect x="334" y="657" width="2" height="12" fill="#0050ff"/><rect x="336" y="657" width="2" height="12" fill="#00c0ff"/><rect x="338" y="657" width="3" height="12" fill="#0050ff"/><rect x="341" y="657" width="2" height="12" fill="#0000f0"/><rect x="343" y="657" width="2" height="12" fill="#00f8e8"/><rect x="362" y="657" width="4" height="12" fill="#0000f0"/><rect x="369" y="657" width="2" height="12" fill="#00f8e8"/><rect x="371" y="657" width="5" height="12" fill="#0050ff"/><rect x="378" y="657" width="3" height="12" fill="#000080"/><rect x="383" y="657" width="5" height="12" fill="#000080"/><rect x="397" y="657" width="5" height="12" fill="#000080"/><rect x="402" y="657" width="2" height="12" fill="#0050ff"/><rect x="404" y="657" width="2" height="12" fill="#00c0ff"/><rect x="406" y="657" width="3" height="12" fill="#00f8e8"/><rect x="409" y="657" width="7" height="12" fill="#0050ff"/><rect x="416" y="657" width="2" height="12" fill="#000080"/><rect x="432" y="657" width="10" height="12" fill="#000080"/><rect x="442" y="657" width="2" height="12" fill="#00c0ff"/><rect x="444" y="657" width="2" height="12" fill="#70ff90"/><rect x="446" y="657" width="5" height="12" fill="#0050ff"/><rect x="451" y="657" width="3" height="12" fill="#00c0ff"/><rect x="454" y="657" width="2" height="12" fill="#0050ff"/><rect x="465" y="657" width="3" height="12" fill="#000080"/><rect x="472" y="657" width="3" height="12" fill="#000080"/><rect x="477" y="657" width="2" height="12" fill="#00c0ff"/><rect x="479" y="657" width="5" height="12" fill="#000080"/><rect x="486" y="657" width="3" height="12" fill="#000080"/><rect x="489" y="657" width="2" height="12" fill="#0050ff"/><rect x="491" y="657" width="3" height="12" fill="#0000f0"/><rect x="508" y="657" width="2" height="12" fill="#000080"/><rect x="515" y="657" width="2" height="12" fill="#00c0ff"/><rect x="519" y="657" width="3" height="12" fill="#00c0ff"/><rect x="522" y="657" width="2" height="12" fill="#0050ff"/><rect x="524" y="657" width="5" height="12" fill="#000080"/><rect x="529" y="657" width="5" height="12" fill="#0050ff"/><rect x="548" y="657" width="2" height="12" fill="#000080"/><rect x="552" y="657" width="3" height="12" fill="#000080"/><rect x="555" y="657" width="2" height="12" fill="#0050ff"/><rect x="557" y="657" width="5" height="12" fill="#00c0ff"/><rect x="562" y="657" width="2" height="12" fill="#0050ff"/><rect x="567" y="657" width="2" height="12" fill="#000080"/><rect x="585" y="657" width="3" height="12" fill="#000080"/><rect x="590" y="657" width="5" height="12" fill="#000080"/><rect x="595" y="657" width="2" height="12" fill="#0050ff"/><rect x="597" y="657" width="2" height="12" fill="#000080"/><rect x="599" y="657" width="3" height="12" fill="#00c0ff"/><rect x="602" y="657" width="5" height="12" fill="#00f8e8"/><rect x="607" y="657" width="2" height="12" fill="#000080"/><rect x="623" y="657" width="5" height="12" fill="#000080"/><rect x="628" y="657" width="2" height="12" fill="#0050ff"/><rect x="630" y="657" width="2" height="12" fill="#0000f0"/><rect x="632" y="657" width="3" height="12" fill="#000080"/><rect x="635" y="657" width="2" height="12" fill="#00c0ff"/><rect x="637" y="657" width="5" height="12" fill="#000080"/><rect x="665" y="657" width="3" height="12" fill="#0050ff"/><rect x="668" y="657" width="2" height="12" fill="#000080"/><rect x="670" y="657" width="2" height="12" fill="#0050ff"/><rect x="672" y="657" width="3" height="12" fill="#00c0ff"/><rect x="675" y="657" width="4" height="12" fill="#0050ff"/><rect x="679" y="657" width="3" height="12" fill="#000080"/><rect x="701" y="657" width="4" height="12" fill="#0050ff"/><rect x="705" y="657" width="3" height="12" fill="#00c0ff"/><rect x="708" y="657" width="4" height="12" fill="#70ff90"/><rect x="715" y="657" width="2" height="12" fill="#0050ff"/><rect x="717" y="657" width="5" height="12" fill="#000080"/><rect x="741" y="657" width="2" height="12" fill="#00c0ff"/><rect x="743" y="657" width="2" height="12" fill="#0050ff"/><rect x="745" y="657" width="3" height="12" fill="#70ff90"/><rect x="748" y="657" width="2" height="12" fill="#00f8e8"/><rect x="750" y="657" width="2" height="12" fill="#00c0ff"/><rect x="752" y="657" width="3" height="12" fill="#0050ff"/><rect x="757" y="657" width="5" height="12" fill="#000080"/><rect x="778" y="657" width="3" height="12" fill="#00f8e8"/><rect x="781" y="657" width="2" height="12" fill="#0050ff"/><rect x="783" y="657" width="2" height="12" fill="#00c0ff"/><rect x="785" y="657" width="3" height="12" fill="#00f8e8"/><rect x="790" y="657" width="2" height="12" fill="#0050ff"/><rect x="795" y="657" width="2" height="12" fill="#0050ff"/><rect x="816" y="657" width="2" height="12" fill="#000080"/><rect x="821" y="657" width="2" height="12" fill="#70ff90"/><rect x="823" y="657" width="2" height="12" fill="#00c0ff"/><rect x="825" y="657" width="5" height="12" fill="#0050ff"/><rect x="138" y="647" width="3" height="10" fill="#00f8e8"/><rect x="141" y="647" width="2" height="10" fill="#0050ff"/><rect x="143" y="647" width="2" height="10" fill="#70ff90"/><rect x="145" y="647" width="3" height="10" fill="#0000f0"/><rect x="148" y="647" width="2" height="10" fill="#70ff90"/><rect x="150" y="647" width="5" height="10" fill="#00c0ff"/><rect x="159" y="647" width="3" height="10" fill="#000080"/><rect x="171" y="647" width="3" height="10" fill="#000080"/><rect x="176" y="647" width="2" height="10" fill="#0050ff"/><rect x="178" y="647" width="3" height="10" fill="#00c0ff"/><rect x="181" y="647" width="2" height="10" fill="#0050ff"/><rect x="183" y="647" width="5" height="10" fill="#00c0ff"/><rect x="188" y="647" width="2" height="10" fill="#0050ff"/><rect x="209" y="647" width="5" height="10" fill="#000080"/><rect x="214" y="647" width="7" height="10" fill="#0050ff"/><rect x="221" y="647" width="2" height="10" fill="#00c0ff"/><rect x="223" y="647" width="2" height="10" fill="#00f8e8"/><rect x="225" y="647" width="5" height="10" fill="#00c0ff"/><rect x="230" y="647" width="2" height="10" fill="#0050ff"/><rect x="232" y="647" width="3" height="10" fill="#000080"/><rect x="251" y="647" width="3" height="10" fill="#70ff90"/><rect x="254" y="647" width="2" height="10" fill="#0000f0"/><rect x="256" y="647" width="7" height="10" fill="#70ff90"/><rect x="263" y="647" width="2" height="10" fill="#0000f0"/><rect x="270" y="647" width="2" height="10" fill="#000080"/><rect x="284" y="647" width="2" height="10" fill="#0000f0"/><rect x="289" y="647" width="5" height="10" fill="#00f8e8"/><rect x="294" y="647" width="2" height="10" fill="#70ff90"/><rect x="296" y="647" width="2" height="10" fill="#c8ff38"/><rect x="298" y="647" width="3" height="10" fill="#00c0ff"/><rect x="301" y="647" width="4" height="10" fill="#000080"/><rect x="305" y="647" width="3" height="10" fill="#0000f0"/><rect x="322" y="647" width="2" height="10" fill="#0050ff"/><rect x="324" y="647" width="5" height="10" fill="#0000f0"/><rect x="329" y="647" width="2" height="10" fill="#000080"/><rect x="331" y="647" width="3" height="10" fill="#c8ff38"/><rect x="334" y="647" width="2" height="10" fill="#70ff90"/><rect x="336" y="647" width="2" height="10" fill="#0050ff"/><rect x="338" y="647" width="3" height="10" fill="#00c0ff"/><rect x="341" y="647" width="2" height="10" fill="#0050ff"/><rect x="343" y="647" width="2" height="10" fill="#00c0ff"/><rect x="362" y="647" width="7" height="10" fill="#00f8e8"/><rect x="369" y="647" width="5" height="10" fill="#c8ff38"/><rect x="374" y="647" width="2" height="10" fill="#00c0ff"/><rect x="376" y="647" width="2" height="10" fill="#0050ff"/><rect x="378" y="647" width="3" height="10" fill="#0000f0"/><rect x="397" y="647" width="2" height="10" fill="#0000f0"/><rect x="399" y="647" width="3" height="10" fill="#000080"/><rect x="402" y="647" width="2" height="10" fill="#00c0ff"/><rect x="404" y="647" width="5" height="10" fill="#70ff90"/><rect x="409" y="647" width="2" height="10" fill="#c8ff38"/><rect x="411" y="647" width="3" height="10" fill="#70ff90"/><rect x="414" y="647" width="2" height="10" fill="#00c0ff"/><rect x="416" y="647" width="2" height="10" fill="#0000f0"/><rect x="423" y="647" width="2" height="10" fill="#000080"/><rect x="439" y="647" width="3" height="10" fill="#00c0ff"/><rect x="442" y="647" width="2" height="10" fill="#00f8e8"/><rect x="444" y="647" width="2" height="10" fill="#c8ff38"/><rect x="446" y="647" width="3" height="10" fill="#00c0ff"/><rect x="449" y="647" width="5" height="10" fill="#70ff90"/><rect x="454" y="647" width="7" height="10" fill="#000080"/><rect x="477" y="647" width="2" height="10" fill="#00c0ff"/><rect x="479" y="647" width="3" height="10" fill="#00f8e8"/><rect x="482" y="647" width="2" height="10" fill="#00c0ff"/><rect x="484" y="647" width="2" height="10" fill="#0050ff"/><rect x="486" y="647" width="3" height="10" fill="#0000f0"/><rect x="489" y="647" width="5" height="10" fill="#00c0ff"/><rect x="512" y="647" width="3" height="10" fill="#000080"/><rect x="515" y="647" width="2" height="10" fill="#00f8e8"/><rect x="517" y="647" width="2" height="10" fill="#000080"/><rect x="519" y="647" width="3" height="10" fill="#00c0ff"/><rect x="522" y="647" width="2" height="10" fill="#70ff90"/><rect x="524" y="647" width="3" height="10" fill="#0000f0"/><rect x="527" y="647" width="2" height="10" fill="#000080"/><rect x="531" y="647" width="3" height="10" fill="#0050ff"/><rect x="548" y="647" width="2" height="10" fill="#0000f0"/><rect x="552" y="647" width="3" height="10" fill="#00c0ff"/><rect x="555" y="647" width="2" height="10" fill="#00f8e8"/><rect x="557" y="647" width="5" height="10" fill="#c8ff38"/><rect x="562" y="647" width="2" height="10" fill="#00c0ff"/><rect x="564" y="647" width="3" height="10" fill="#0050ff"/><rect x="567" y="647" width="2" height="10" fill="#00c0ff"/><rect x="581" y="647" width="2" height="10" fill="#000080"/><rect x="585" y="647" width="3" height="10" fill="#0050ff"/><rect x="590" y="647" width="2" height="10" fill="#00c0ff"/><rect x="592" y="647" width="3" height="10" fill="#00f8e8"/><rect x="595" y="647" width="2" height="10" fill="#00c0ff"/><rect x="597" y="647" width="10" height="10" fill="#c8ff38"/><rect x="607" y="647" width="2" height="10" fill="#00f8e8"/><rect x="621" y="647" width="2" height="10" fill="#000080"/><rect x="625" y="647" width="3" height="10" fill="#0050ff"/><rect x="628" y="647" width="2" height="10" fill="#00f8e8"/><rect x="630" y="647" width="2" height="10" fill="#000080"/><rect x="632" y="647" width="3" height="10" fill="#00c0ff"/><rect x="635" y="647" width="2" height="10" fill="#70ff90"/><rect x="637" y="647" width="2" height="10" fill="#00c0ff"/><rect x="639" y="647" width="5" height="10" fill="#0050ff"/><rect x="656" y="647" width="2" height="10" fill="#000080"/><rect x="661" y="647" width="2" height="10" fill="#0050ff"/><rect x="663" y="647" width="2" height="10" fill="#000080"/><rect x="665" y="647" width="3" height="10" fill="#00c0ff"/><rect x="668" y="647" width="2" height="10" fill="#00f8e8"/><rect x="670" y="647" width="2" height="10" fill="#70ff90"/><rect x="672" y="647" width="3" height="10" fill="#00f8e8"/><rect x="675" y="647" width="2" height="10" fill="#00c0ff"/><rect x="677" y="647" width="5" height="10" fill="#0050ff"/><rect x="698" y="647" width="3" height="10" fill="#000080"/><rect x="701" y="647" width="2" height="10" fill="#00c0ff"/><rect x="703" y="647" width="2" height="10" fill="#00f8e8"/><rect x="705" y="647" width="3" height="10" fill="#00c0ff"/><rect x="708" y="647" width="2" height="10" fill="#c8ff38"/><rect x="710" y="647" width="2" height="10" fill="#70ff90"/><rect x="712" y="647" width="3" height="10" fill="#000080"/><rect x="715" y="647" width="7" height="10" fill="#0050ff"/><rect x="724" y="647" width="3" height="10" fill="#0050ff"/><rect x="736" y="647" width="5" height="10" fill="#000080"/><rect x="741" y="647" width="2" height="10" fill="#00c0ff"/><rect x="743" y="647" width="2" height="10" fill="#0050ff"/><rect x="745" y="647" width="3" height="10" fill="#c8ff38"/><rect x="748" y="647" width="4" height="10" fill="#70ff90"/><rect x="752" y="647" width="3" height="10" fill="#0050ff"/><rect x="774" y="647" width="2" height="10" fill="#000080"/><rect x="778" y="647" width="3" height="10" fill="#70ff90"/><rect x="781" y="647" width="2" height="10" fill="#0050ff"/><rect x="783" y="647" width="2" height="10" fill="#70ff90"/><rect x="785" y="647" width="3" height="10" fill="#00c0ff"/><rect x="790" y="647" width="2" height="10" fill="#0050ff"/><rect x="795" y="647" width="2" height="10" fill="#00f8e8"/><rect x="816" y="647" width="2" height="10" fill="#000080"/><rect x="821" y="647" width="2" height="10" fill="#70ff90"/><rect x="823" y="647" width="2" height="10" fill="#00c0ff"/><rect x="825" y="647" width="3" height="10" fill="#0050ff"/><rect x="828" y="647" width="2" height="10" fill="#00c0ff"/><rect x="830" y="647" width="5" height="10" fill="#000080"/><rect x="138" y="641" width="3" height="6" fill="#00f8e8"/><rect x="143" y="641" width="2" height="6" fill="#70ff90"/><rect x="145" y="641" width="3" height="6" fill="#000080"/><rect x="148" y="641" width="2" height="6" fill="#00c0ff"/><rect x="150" y="641" width="5" height="6" fill="#0050ff"/><rect x="155" y="641" width="2" height="6" fill="#000080"/><rect x="159" y="641" width="3" height="6" fill="#000080"/><rect x="178" y="641" width="3" height="6" fill="#00c0ff"/><rect x="183" y="641" width="7" height="6" fill="#0050ff"/><rect x="214" y="641" width="2" height="6" fill="#000080"/><rect x="216" y="641" width="2" height="6" fill="#0050ff"/><rect x="218" y="641" width="3" height="6" fill="#000080"/><rect x="221" y="641" width="2" height="6" fill="#00c0ff"/><rect x="223" y="641" width="5" height="6" fill="#0050ff"/><rect x="228" y="641" width="2" height="6" fill="#000080"/><rect x="230" y="641" width="2" height="6" fill="#0050ff"/><rect x="246" y="641" width="3" height="6" fill="#0000f0"/><rect x="251" y="641" width="3" height="6" fill="#00c0ff"/><rect x="254" y="641" width="2" height="6" fill="#000080"/><rect x="256" y="641" width="5" height="6" fill="#70ff90"/><rect x="261" y="641" width="2" height="6" fill="#00c0ff"/><rect x="263" y="641" width="2" height="6" fill="#0000f0"/><rect x="268" y="641" width="4" height="6" fill="#000080"/><rect x="284" y="641" width="2" height="6" fill="#0000f0"/><rect x="289" y="641" width="2" height="6" fill="#0050ff"/><rect x="291" y="641" width="3" height="6" fill="#00c0ff"/><rect x="294" y="641" width="4" height="6" fill="#70ff90"/><rect x="298" y="641" width="3" height="6" fill="#00c0ff"/><rect x="301" y="641" width="4" height="6" fill="#000080"/><rect x="322" y="641" width="4" height="6" fill="#0050ff"/><rect x="326" y="641" width="3" height="6" fill="#000080"/><rect x="329" y="641" width="2" height="6" fill="#0050ff"/><rect x="331" y="641" width="3" height="6" fill="#70ff90"/><rect x="334" y="641" width="2" height="6" fill="#00c0ff"/><rect x="336" y="641" width="2" height="6" fill="#0050ff"/><rect x="338" y="641" width="3" height="6" fill="#000080"/><rect x="341" y="641" width="2" height="6" fill="#00c0ff"/><rect x="343" y="641" width="2" height="6" fill="#70ff90"/><rect x="362" y="641" width="2" height="6" fill="#00c0ff"/><rect x="364" y="641" width="2" height="6" fill="#70ff90"/><rect x="366" y="641" width="3" height="6" fill="#00c0ff"/><rect x="369" y="641" width="2" height="6" fill="#70ff90"/><rect x="371" y="641" width="3" height="6" fill="#c8ff38"/><rect x="374" y="641" width="2" height="6" fill="#00c0ff"/><rect x="376" y="641" width="2" height="6" fill="#0050ff"/><rect x="378" y="641" width="3" height="6" fill="#00f8e8"/><rect x="381" y="641" width="4" height="6" fill="#000080"/><rect x="392" y="641" width="3" height="6" fill="#000080"/><rect x="397" y="641" width="2" height="6" fill="#0050ff"/><rect x="399" y="641" width="3" height="6" fill="#000080"/><rect x="402" y="641" width="2" height="6" fill="#00c0ff"/><rect x="404" y="641" width="2" height="6" fill="#70ff90"/><rect x="406" y="641" width="3" height="6" fill="#c8ff38"/><rect x="409" y="641" width="5" height="6" fill="#70ff90"/><rect x="414" y="641" width="2" height="6" fill="#00f8e8"/><rect x="416" y="641" width="2" height="6" fill="#0000f0"/><rect x="430" y="641" width="5" height="6" fill="#000080"/><rect x="439" y="641" width="3" height="6" fill="#00c0ff"/><rect x="442" y="641" width="2" height="6" fill="#00f8e8"/><rect x="444" y="641" width="2" height="6" fill="#70ff90"/><rect x="446" y="641" width="3" height="6" fill="#00c0ff"/><rect x="449" y="641" width="5" height="6" fill="#70ff90"/><rect x="461" y="641" width="2" height="6" fill="#000080"/><rect x="468" y="641" width="2" height="6" fill="#000080"/><rect x="477" y="641" width="2" height="6" fill="#00c0ff"/><rect x="479" y="641" width="12" height="6" fill="#0050ff"/><rect x="491" y="641" width="3" height="6" fill="#00c0ff"/><rect x="494" y="641" width="2" height="6" fill="#000080"/><rect x="512" y="641" width="3" height="6" fill="#0050ff"/><rect x="515" y="641" width="2" height="6" fill="#0000f0"/><rect x="519" y="641" width="3" height="6" fill="#00c0ff"/><rect x="522" y="641" width="2" height="6" fill="#70ff90"/><rect x="524" y="641" width="5" height="6" fill="#000080"/><rect x="531" y="641" width="3" height="6" fill="#0000f0"/><rect x="548" y="641" width="2" height="6" fill="#0000f0"/><rect x="552" y="641" width="3" height="6" fill="#0050ff"/><rect x="555" y="641" width="2" height="6" fill="#00c0ff"/><rect x="557" y="641" width="2" height="6" fill="#c8ff38"/><rect x="559" y="641" width="3" height="6" fill="#70ff90"/><rect x="562" y="641" width="2" height="6" fill="#00c0ff"/><rect x="564" y="641" width="3" height="6" fill="#0050ff"/><rect x="585" y="641" width="3" height="6" fill="#000080"/><rect x="592" y="641" width="3" height="6" fill="#00c0ff"/><rect x="595" y="641" width="2" height="6" fill="#0050ff"/><rect x="597" y="641" width="2" height="6" fill="#70ff90"/><rect x="599" y="641" width="3" height="6" fill="#c8ff38"/><rect x="602" y="641" width="2" height="6" fill="#ffa000"/><rect x="604" y="641" width="3" height="6" fill="#c8ff38"/><rect x="607" y="641" width="2" height="6" fill="#00c0ff"/><rect x="609" y="641" width="2" height="6" fill="#000080"/><rect x="628" y="641" width="2" height="6" fill="#00c0ff"/><rect x="630" y="641" width="2" height="6" fill="#000080"/><rect x="632" y="641" width="3" height="6" fill="#00c0ff"/><rect x="635" y="641" width="2" height="6" fill="#70ff90"/><rect x="637" y="641" width="2" height="6" fill="#00c0ff"/><rect x="639" y="641" width="3" height="6" fill="#0050ff"/><rect x="661" y="641" width="2" height="6" fill="#0050ff"/><rect x="663" y="641" width="2" height="6" fill="#000080"/><rect x="665" y="641" width="3" height="6" fill="#70ff90"/><rect x="668" y="641" width="2" height="6" fill="#00c0ff"/><rect x="670" y="641" width="2" height="6" fill="#70ff90"/><rect x="672" y="641" width="3" height="6" fill="#000080"/><rect x="675" y="641" width="2" height="6" fill="#00c0ff"/><rect x="677" y="641" width="2" height="6" fill="#0050ff"/><rect x="701" y="641" width="4" height="6" fill="#00c0ff"/><rect x="705" y="641" width="3" height="6" fill="#0050ff"/><rect x="708" y="641" width="2" height="6" fill="#70ff90"/><rect x="710" y="641" width="2" height="6" fill="#00c0ff"/><rect x="712" y="641" width="3" height="6" fill="#000080"/><rect x="715" y="641" width="4" height="6" fill="#0050ff"/><rect x="719" y="641" width="3" height="6" fill="#0000f0"/><rect x="724" y="641" width="3" height="6" fill="#0050ff"/><rect x="738" y="641" width="5" height="6" fill="#000080"/><rect x="743" y="641" width="2" height="6" fill="#0050ff"/><rect x="745" y="641" width="5" height="6" fill="#70ff90"/><rect x="750" y="641" width="2" height="6" fill="#00c0ff"/><rect x="752" y="641" width="3" height="6" fill="#0050ff"/><rect x="778" y="641" width="3" height="6" fill="#00f8e8"/><rect x="781" y="641" width="2" height="6" fill="#000080"/><rect x="783" y="641" width="5" height="6" fill="#0050ff"/><rect x="790" y="641" width="2" height="6" fill="#0050ff"/><rect x="795" y="641" width="2" height="6" fill="#00f8e8"/><rect x="816" y="641" width="2" height="6" fill="#000080"/><rect x="821" y="641" width="2" height="6" fill="#00c0ff"/><rect x="823" y="641" width="2" height="6" fill="#0050ff"/><rect x="825" y="641" width="3" height="6" fill="#000080"/><rect x="828" y="641" width="2" height="6" fill="#00c0ff"/><rect x="830" y="641" width="5" height="6" fill="#000080"/><rect x="136" y="635" width="2" height="6" fill="#000080"/><rect x="138" y="635" width="3" height="6" fill="#0050ff"/><rect x="141" y="635" width="2" height="6" fill="#000080"/><rect x="145" y="635" width="3" height="6" fill="#0000f0"/><rect x="148" y="635" width="2" height="6" fill="#00c0ff"/><rect x="150" y="635" width="2" height="6" fill="#000080"/><rect x="152" y="635" width="3" height="6" fill="#0050ff"/><rect x="155" y="635" width="2" height="6" fill="#00c0ff"/><rect x="178" y="635" width="5" height="6" fill="#000080"/><rect x="188" y="635" width="2" height="6" fill="#0000f0"/><rect x="190" y="635" width="2" height="6" fill="#0050ff"/><rect x="209" y="635" width="5" height="6" fill="#000080"/><rect x="216" y="635" width="5" height="6" fill="#000080"/><rect x="221" y="635" width="2" height="6" fill="#00c0ff"/><rect x="223" y="635" width="2" height="6" fill="#000080"/><rect x="225" y="635" width="3" height="6" fill="#0000f0"/><rect x="228" y="635" width="2" height="6" fill="#000080"/><rect x="230" y="635" width="2" height="6" fill="#0000f0"/><rect x="251" y="635" width="5" height="6" fill="#000080"/><rect x="256" y="635" width="2" height="6" fill="#00c0ff"/><rect x="258" y="635" width="3" height="6" fill="#0050ff"/><rect x="261" y="635" width="2" height="6" fill="#00c0ff"/><rect x="282" y="635" width="4" height="6" fill="#000080"/><rect x="289" y="635" width="2" height="6" fill="#000080"/><rect x="291" y="635" width="5" height="6" fill="#0050ff"/><rect x="296" y="635" width="5" height="6" fill="#00c0ff"/><rect x="329" y="635" width="2" height="6" fill="#000080"/><rect x="331" y="635" width="5" height="6" fill="#00c0ff"/><rect x="336" y="635" width="5" height="6" fill="#000080"/><rect x="343" y="635" width="2" height="6" fill="#0050ff"/><rect x="362" y="635" width="2" height="6" fill="#0050ff"/><rect x="364" y="635" width="2" height="6" fill="#00c0ff"/><rect x="369" y="635" width="5" height="6" fill="#00c0ff"/><rect x="374" y="635" width="2" height="6" fill="#0000f0"/><rect x="376" y="635" width="2" height="6" fill="#000080"/><rect x="381" y="635" width="2" height="6" fill="#000080"/><rect x="392" y="635" width="3" height="6" fill="#000080"/><rect x="397" y="635" width="2" height="6" fill="#000080"/><rect x="402" y="635" width="2" height="6" fill="#0050ff"/><rect x="404" y="635" width="2" height="6" fill="#00c0ff"/><rect x="406" y="635" width="3" height="6" fill="#0050ff"/><rect x="409" y="635" width="5" height="6" fill="#00c0ff"/><rect x="414" y="635" width="2" height="6" fill="#70ff90"/><rect x="435" y="635" width="2" height="6" fill="#000080"/><rect x="439" y="635" width="3" height="6" fill="#0050ff"/><rect x="442" y="635" width="2" height="6" fill="#000080"/><rect x="444" y="635" width="2" height="6" fill="#70ff90"/><rect x="446" y="635" width="3" height="6" fill="#000080"/><rect x="449" y="635" width="7" height="6" fill="#00c0ff"/><rect x="477" y="635" width="2" height="6" fill="#0050ff"/><rect x="479" y="635" width="3" height="6" fill="#000080"/><rect x="482" y="635" width="2" height="6" fill="#0050ff"/><rect x="486" y="635" width="3" height="6" fill="#000080"/><rect x="489" y="635" width="2" height="6" fill="#0050ff"/><rect x="491" y="635" width="3" height="6" fill="#00c0ff"/><rect x="515" y="635" width="2" height="6" fill="#000080"/><rect x="519" y="635" width="5" height="6" fill="#0050ff"/><rect x="548" y="635" width="2" height="6" fill="#000080"/><rect x="552" y="635" width="3" height="6" fill="#0050ff"/><rect x="555" y="635" width="2" height="6" fill="#000080"/><rect x="557" y="635" width="2" height="6" fill="#00f8e8"/><rect x="559" y="635" width="3" height="6" fill="#00c0ff"/><rect x="562" y="635" width="2" height="6" fill="#0050ff"/><rect x="564" y="635" width="5" height="6" fill="#000080"/><rect x="585" y="635" width="3" height="6" fill="#000080"/><rect x="592" y="635" width="3" height="6" fill="#0000f0"/><rect x="595" y="635" width="2" height="6" fill="#000080"/><rect x="597" y="635" width="5" height="6" fill="#70ff90"/><rect x="602" y="635" width="2" height="6" fill="#00c0ff"/><rect x="607" y="635" width="2" height="6" fill="#0050ff"/><rect x="628" y="635" width="2" height="6" fill="#0050ff"/><rect x="632" y="635" width="3" height="6" fill="#00c0ff"/><rect x="635" y="635" width="4" height="6" fill="#0050ff"/><rect x="639" y="635" width="3" height="6" fill="#00f8e8"/><rect x="642" y="635" width="5" height="6" fill="#000080"/><rect x="661" y="635" width="2" height="6" fill="#0000f0"/><rect x="665" y="635" width="3" height="6" fill="#70ff90"/><rect x="668" y="635" width="2" height="6" fill="#00c0ff"/><rect x="670" y="635" width="2" height="6" fill="#0000f0"/><rect x="672" y="635" width="3" height="6" fill="#000080"/><rect x="675" y="635" width="2" height="6" fill="#00f8e8"/><rect x="679" y="635" width="3" height="6" fill="#000080"/><rect x="701" y="635" width="7" height="6" fill="#000080"/><rect x="708" y="635" width="2" height="6" fill="#00f8e8"/><rect x="712" y="635" width="3" height="6" fill="#000080"/><rect x="715" y="635" width="2" height="6" fill="#0050ff"/><rect x="717" y="635" width="2" height="6" fill="#0000f0"/><rect x="738" y="635" width="3" height="6" fill="#000080"/><rect x="745" y="635" width="3" height="6" fill="#00c0ff"/><rect x="748" y="635" width="2" height="6" fill="#0050ff"/><rect x="750" y="635" width="2" height="6" fill="#00f8e8"/><rect x="752" y="635" width="3" height="6" fill="#00c0ff"/><rect x="778" y="635" width="7" height="6" fill="#000080"/><rect x="788" y="635" width="2" height="6" fill="#0000f0"/><rect x="795" y="635" width="2" height="6" fill="#0050ff"/><rect x="816" y="635" width="2" height="6" fill="#000080"/><rect x="821" y="635" width="4" height="6" fill="#000080"/><rect x="825" y="635" width="3" height="6" fill="#0050ff"/><rect x="828" y="635" width="2" height="6" fill="#00c0ff"/><rect x="830" y="635" width="2" height="6" fill="#000080"/><rect x="136" y="630" width="9" height="5" fill="#000080"/><rect x="148" y="630" width="2" height="5" fill="#0000f0"/><rect x="155" y="630" width="2" height="5" fill="#00c0ff"/><rect x="159" y="630" width="3" height="5" fill="#000080"/><rect x="178" y="630" width="5" height="5" fill="#000080"/><rect x="188" y="630" width="2" height="5" fill="#000080"/><rect x="190" y="630" width="2" height="5" fill="#0050ff"/><rect x="199" y="630" width="3" height="5" fill="#000080"/><rect x="223" y="630" width="2" height="5" fill="#0000f0"/><rect x="254" y="630" width="4" height="5" fill="#000080"/><rect x="258" y="630" width="3" height="5" fill="#0050ff"/><rect x="261" y="630" width="2" height="5" fill="#0000f0"/><rect x="263" y="630" width="2" height="5" fill="#000080"/><rect x="272" y="630" width="3" height="5" fill="#000080"/><rect x="289" y="630" width="7" height="5" fill="#000080"/><rect x="298" y="630" width="5" height="5" fill="#0050ff"/><rect x="317" y="630" width="2" height="5" fill="#000080"/><rect x="331" y="630" width="3" height="5" fill="#000080"/><rect x="341" y="630" width="4" height="5" fill="#000080"/><rect x="355" y="630" width="2" height="5" fill="#000080"/><rect x="369" y="630" width="5" height="5" fill="#0050ff"/><rect x="374" y="630" width="2" height="5" fill="#00c0ff"/><rect x="383" y="630" width="2" height="5" fill="#000080"/><rect x="402" y="630" width="2" height="5" fill="#000080"/><rect x="406" y="630" width="3" height="5" fill="#000080"/><rect x="409" y="630" width="2" height="5" fill="#00c0ff"/><rect x="411" y="630" width="5" height="5" fill="#000080"/><rect x="439" y="630" width="3" height="5" fill="#000080"/><rect x="444" y="630" width="2" height="5" fill="#000080"/><rect x="449" y="630" width="7" height="5" fill="#0050ff"/><rect x="479" y="630" width="3" height="5" fill="#0050ff"/><rect x="489" y="630" width="2" height="5" fill="#000080"/><rect x="515" y="630" width="2" height="5" fill="#000080"/><rect x="519" y="630" width="5" height="5" fill="#0050ff"/><rect x="545" y="630" width="5" height="5" fill="#000080"/><rect x="557" y="630" width="2" height="5" fill="#000080"/><rect x="559" y="630" width="3" height="5" fill="#0000f0"/><rect x="567" y="630" width="2" height="5" fill="#0000f0"/><rect x="597" y="630" width="2" height="5" fill="#000080"/><rect x="599" y="630" width="3" height="5" fill="#0050ff"/><rect x="604" y="630" width="5" height="5" fill="#000080"/><rect x="632" y="630" width="3" height="5" fill="#000080"/><rect x="635" y="630" width="4" height="5" fill="#0050ff"/><rect x="639" y="630" width="5" height="5" fill="#000080"/><rect x="668" y="630" width="2" height="5" fill="#0050ff"/><rect x="672" y="630" width="3" height="5" fill="#000080"/><rect x="677" y="630" width="2" height="5" fill="#0050ff"/><rect x="708" y="630" width="2" height="5" fill="#0050ff"/><rect x="712" y="630" width="3" height="5" fill="#000080"/><rect x="745" y="630" width="3" height="5" fill="#000080"/><rect x="752" y="630" width="3" height="5" fill="#00c0ff"/><rect x="778" y="630" width="3" height="5" fill="#000080"/><rect x="788" y="630" width="2" height="5" fill="#000080"/><rect x="816" y="630" width="2" height="5" fill="#000080"/><rect x="828" y="630" width="2" height="5" fill="#000080"/><rect x="830" y="630" width="2" height="5" fill="#0050ff"/><rect x="832" y="630" width="3" height="5" fill="#000080"/><rect x="155" y="626" width="2" height="4" fill="#00f8e8"/><rect x="169" y="626" width="2" height="4" fill="#000080"/><rect x="190" y="626" width="2" height="4" fill="#000080"/><rect x="192" y="626" width="3" height="4" fill="#0050ff"/><rect x="195" y="626" width="2" height="4" fill="#000080"/><rect x="228" y="626" width="2" height="4" fill="#000080"/><rect x="251" y="626" width="3" height="4" fill="#000080"/><rect x="258" y="626" width="3" height="4" fill="#000080"/><rect x="263" y="626" width="2" height="4" fill="#000080"/><rect x="282" y="626" width="2" height="4" fill="#000080"/><rect x="319" y="626" width="3" height="4" fill="#000080"/><rect x="348" y="626" width="2" height="4" fill="#000080"/><rect x="352" y="626" width="3" height="4" fill="#000080"/><rect x="374" y="626" width="2" height="4" fill="#0000f0"/><rect x="416" y="626" width="2" height="4" fill="#0000f0"/><rect x="421" y="626" width="2" height="4" fill="#000080"/><rect x="428" y="626" width="2" height="4" fill="#000080"/><rect x="463" y="626" width="2" height="4" fill="#000080"/><rect x="479" y="626" width="3" height="4" fill="#000080"/><rect x="536" y="626" width="2" height="4" fill="#000080"/><rect x="559" y="626" width="3" height="4" fill="#000080"/><rect x="602" y="626" width="2" height="4" fill="#000080"/><rect x="635" y="626" width="2" height="4" fill="#000080"/><rect x="644" y="626" width="3" height="4" fill="#000080"/><rect x="682" y="626" width="2" height="4" fill="#000080"/><rect x="684" y="626" width="3" height="4" fill="#00c0ff"/><rect x="712" y="626" width="3" height="4" fill="#000080"/><rect x="717" y="626" width="2" height="4" fill="#000080"/><rect x="745" y="626" width="3" height="4" fill="#000080"/><rect x="752" y="626" width="3" height="4" fill="#0050ff"/><rect x="771" y="626" width="3" height="4" fill="#000080"/><rect x="816" y="626" width="2" height="4" fill="#0050ff"/><rect x="818" y="626" width="3" height="4" fill="#000080"/><rect x="830" y="626" width="2" height="4" fill="#0000f0"/><rect x="155" y="623" width="2" height="3" fill="#00f8e8"/><rect x="164" y="623" width="2" height="3" fill="#000080"/><rect x="242" y="623" width="2" height="3" fill="#000080"/><rect x="275" y="623" width="2" height="3" fill="#000080"/><rect x="308" y="623" width="2" height="3" fill="#000080"/><rect x="326" y="623" width="3" height="3" fill="#000080"/><rect x="336" y="623" width="2" height="3" fill="#000080"/><rect x="352" y="623" width="3" height="3" fill="#000080"/><rect x="374" y="623" width="2" height="3" fill="#000080"/><rect x="428" y="623" width="2" height="3" fill="#000080"/><rect x="496" y="623" width="2" height="3" fill="#000080"/><rect x="536" y="623" width="2" height="3" fill="#00c0ff"/><rect x="668" y="623" width="2" height="3" fill="#000080"/><rect x="684" y="623" width="3" height="3" fill="#70ff90"/><rect x="712" y="623" width="3" height="3" fill="#000080"/><rect x="724" y="623" width="3" height="3" fill="#000080"/><rect x="752" y="623" width="3" height="3" fill="#0050ff"/><rect x="816" y="623" width="5" height="3" fill="#000080"/><rect x="823" y="623" width="2" height="3" fill="#000080"/><rect x="830" y="623" width="2" height="3" fill="#0050ff"/><rect x="155" y="620" width="2" height="3" fill="#00f8e8"/><rect x="190" y="620" width="5" height="3" fill="#000080"/><rect x="197" y="620" width="5" height="3" fill="#000080"/><rect x="225" y="620" width="3" height="3" fill="#000080"/><rect x="275" y="620" width="2" height="3" fill="#000080"/><rect x="303" y="620" width="2" height="3" fill="#000080"/><rect x="326" y="620" width="3" height="3" fill="#000080"/><rect x="359" y="620" width="5" height="3" fill="#000080"/><rect x="432" y="620" width="3" height="3" fill="#000080"/><rect x="451" y="620" width="3" height="3" fill="#000080"/><rect x="536" y="620" width="2" height="3" fill="#00c0ff"/><rect x="550" y="620" width="2" height="3" fill="#000080"/><rect x="569" y="620" width="2" height="3" fill="#000080"/><rect x="637" y="620" width="2" height="3" fill="#000080"/><rect x="684" y="620" width="3" height="3" fill="#70ff90"/><rect x="757" y="620" width="2" height="3" fill="#000080"/><rect x="785" y="620" width="3" height="3" fill="#000080"/><rect x="816" y="620" width="5" height="3" fill="#000080"/><rect x="823" y="620" width="2" height="3" fill="#000080"/><rect x="155" y="616" width="2" height="4" fill="#00f8e8"/><rect x="159" y="616" width="3" height="4" fill="#000080"/><rect x="190" y="616" width="2" height="4" fill="#000080"/><rect x="197" y="616" width="2" height="4" fill="#000080"/><rect x="218" y="616" width="3" height="4" fill="#000080"/><rect x="225" y="616" width="5" height="4" fill="#000080"/><rect x="298" y="616" width="3" height="4" fill="#000080"/><rect x="315" y="616" width="2" height="4" fill="#000080"/><rect x="345" y="616" width="3" height="4" fill="#000080"/><rect x="362" y="616" width="2" height="4" fill="#000080"/><rect x="430" y="616" width="2" height="4" fill="#000080"/><rect x="475" y="616" width="4" height="4" fill="#000080"/><rect x="482" y="616" width="2" height="4" fill="#000080"/><rect x="498" y="616" width="3" height="4" fill="#000080"/><rect x="536" y="616" width="2" height="4" fill="#00f8e8"/><rect x="585" y="616" width="3" height="4" fill="#000080"/><rect x="604" y="616" width="3" height="4" fill="#000080"/><rect x="684" y="616" width="3" height="4" fill="#70ff90"/><rect x="687" y="616" width="2" height="4" fill="#000080"/><rect x="724" y="616" width="3" height="4" fill="#000080"/><rect x="748" y="616" width="2" height="4" fill="#000080"/><rect x="755" y="616" width="4" height="4" fill="#000080"/><rect x="762" y="616" width="5" height="4" fill="#000080"/><rect x="795" y="616" width="2" height="4" fill="#000080"/><rect x="825" y="616" width="3" height="4" fill="#000080"/><rect x="138" y="614" width="3" height="2" fill="#000080"/><rect x="155" y="614" width="2" height="2" fill="#0050ff"/><rect x="190" y="614" width="2" height="2" fill="#000080"/><rect x="228" y="614" width="2" height="2" fill="#0050ff"/><rect x="385" y="614" width="3" height="2" fill="#000080"/><rect x="414" y="614" width="2" height="2" fill="#000080"/><rect x="472" y="614" width="5" height="2" fill="#000080"/><rect x="498" y="614" width="3" height="2" fill="#000080"/><rect x="536" y="614" width="2" height="2" fill="#0050ff"/><rect x="632" y="614" width="3" height="2" fill="#000080"/><rect x="684" y="614" width="3" height="2" fill="#70ff90"/><rect x="717" y="614" width="2" height="2" fill="#000080"/><rect x="778" y="614" width="3" height="2" fill="#000080"/><rect x="804" y="614" width="3" height="2" fill="#000080"/><rect x="148" y="612" width="2" height="2" fill="#000080"/><rect x="174" y="612" width="2" height="2" fill="#000080"/><rect x="202" y="612" width="2" height="2" fill="#000080"/><rect x="221" y="612" width="2" height="2" fill="#000080"/><rect x="284" y="612" width="2" height="2" fill="#000080"/><rect x="294" y="612" width="2" height="2" fill="#000080"/><rect x="312" y="612" width="3" height="2" fill="#000080"/><rect x="324" y="612" width="5" height="2" fill="#000080"/><rect x="383" y="612" width="2" height="2" fill="#000080"/><rect x="421" y="612" width="2" height="2" fill="#000080"/><rect x="456" y="612" width="2" height="2" fill="#000080"/><rect x="463" y="612" width="2" height="2" fill="#000080"/><rect x="477" y="612" width="2" height="2" fill="#000080"/><rect x="503" y="612" width="2" height="2" fill="#000080"/><rect x="529" y="612" width="5" height="2" fill="#000080"/><rect x="536" y="612" width="2" height="2" fill="#0050ff"/><rect x="545" y="612" width="3" height="2" fill="#000080"/><rect x="607" y="612" width="2" height="2" fill="#000080"/><rect x="764" y="612" width="3" height="2" fill="#000080"/><rect x="785" y="612" width="3" height="2" fill="#000080"/><rect x="823" y="612" width="2" height="2" fill="#000080"/><rect x="178" y="525" width="3" height="2" fill="#000080"/><rect x="181" y="525" width="2" height="2" fill="#0050ff"/><rect x="183" y="525" width="2" height="2" fill="#000080"/><rect x="216" y="525" width="2" height="2" fill="#0050ff"/><rect x="477" y="525" width="5" height="2" fill="#000080"/><rect x="519" y="525" width="8" height="2" fill="#000080"/><rect x="816" y="525" width="2" height="2" fill="#000080"/><rect x="818" y="525" width="3" height="2" fill="#00c0ff"/><rect x="821" y="525" width="2" height="2" fill="#000080"/><rect x="136" y="523" width="2" height="2" fill="#000080"/><rect x="178" y="523" width="7" height="2" fill="#0050ff"/><rect x="214" y="523" width="2" height="2" fill="#000080"/><rect x="216" y="523" width="2" height="2" fill="#0050ff"/><rect x="477" y="523" width="5" height="2" fill="#0050ff"/><rect x="482" y="523" width="4" height="2" fill="#000080"/><rect x="519" y="523" width="3" height="2" fill="#0050ff"/><rect x="522" y="523" width="2" height="2" fill="#000080"/><rect x="536" y="523" width="2" height="2" fill="#000080"/><rect x="781" y="523" width="2" height="2" fill="#000080"/><rect x="814" y="523" width="2" height="2" fill="#000080"/><rect x="816" y="523" width="2" height="2" fill="#0050ff"/><rect x="818" y="523" width="3" height="2" fill="#00f8e8"/><rect x="821" y="523" width="2" height="2" fill="#0050ff"/><rect x="141" y="520" width="2" height="3" fill="#000080"/><rect x="178" y="520" width="5" height="3" fill="#0050ff"/><rect x="183" y="520" width="2" height="3" fill="#000080"/><rect x="214" y="520" width="2" height="3" fill="#000080"/><rect x="216" y="520" width="2" height="3" fill="#0050ff"/><rect x="477" y="520" width="2" height="3" fill="#0050ff"/><rect x="479" y="520" width="3" height="3" fill="#00c0ff"/><rect x="482" y="520" width="4" height="3" fill="#000080"/><rect x="519" y="520" width="3" height="3" fill="#0050ff"/><rect x="522" y="520" width="2" height="3" fill="#000080"/><rect x="529" y="520" width="2" height="3" fill="#000080"/><rect x="543" y="520" width="2" height="3" fill="#000080"/><rect x="781" y="520" width="2" height="3" fill="#000080"/><rect x="814" y="520" width="2" height="3" fill="#000080"/><rect x="816" y="520" width="2" height="3" fill="#0050ff"/><rect x="818" y="520" width="3" height="3" fill="#00c0ff"/><rect x="821" y="520" width="2" height="3" fill="#0050ff"/><rect x="141" y="518" width="2" height="2" fill="#000080"/><rect x="178" y="518" width="3" height="2" fill="#000080"/><rect x="181" y="518" width="2" height="2" fill="#0050ff"/><rect x="183" y="518" width="2" height="2" fill="#000080"/><rect x="216" y="518" width="2" height="2" fill="#0050ff"/><rect x="284" y="518" width="2" height="2" fill="#000080"/><rect x="477" y="518" width="5" height="2" fill="#0050ff"/><rect x="482" y="518" width="4" height="2" fill="#000080"/><rect x="519" y="518" width="3" height="2" fill="#0050ff"/><rect x="522" y="518" width="5" height="2" fill="#000080"/><rect x="552" y="518" width="3" height="2" fill="#000080"/><rect x="691" y="518" width="3" height="2" fill="#000080"/><rect x="816" y="518" width="2" height="2" fill="#000080"/><rect x="818" y="518" width="5" height="2" fill="#0050ff"/><rect x="178" y="516" width="3" height="2" fill="#000080"/><rect x="211" y="516" width="3" height="2" fill="#000080"/><rect x="216" y="516" width="2" height="2" fill="#000080"/><rect x="388" y="516" width="2" height="2" fill="#000080"/><rect x="428" y="516" width="2" height="2" fill="#000080"/><rect x="461" y="516" width="2" height="2" fill="#000080"/><rect x="479" y="516" width="3" height="2" fill="#000080"/><rect x="484" y="516" width="2" height="2" fill="#000080"/><rect x="522" y="516" width="2" height="2" fill="#000080"/><rect x="818" y="516" width="5" height="2" fill="#000080"/><rect x="232" y="464" width="3" height="2" fill="#000080"/><rect x="136" y="476" width="2" height="2" fill="#000080"/><rect x="578" y="476" width="3" height="2" fill="#000080"/><rect x="166" y="492" width="3" height="3" fill="#000080"/><rect x="355" y="492" width="2" height="3" fill="#000080"/><rect x="364" y="492" width="2" height="3" fill="#000080"/><rect x="178" y="499" width="3" height="3" fill="#000080"/><rect x="479" y="499" width="3" height="3" fill="#000080"/><rect x="519" y="499" width="3" height="3" fill="#000080"/><rect x="611" y="499" width="3" height="3" fill="#000080"/><rect x="223" y="497" width="2" height="2" fill="#000080"/><rect x="181" y="530" width="2" height="2" fill="#000080"/><rect x="242" y="530" width="2" height="2" fill="#000080"/><rect x="388" y="530" width="2" height="2" fill="#000080"/><rect x="197" y="532" width="2" height="2" fill="#000080"/><rect x="221" y="532" width="2" height="2" fill="#000080"/><rect x="399" y="532" width="3" height="2" fill="#000080"/><rect x="762" y="532" width="2" height="2" fill="#000080"/><rect x="818" y="532" width="3" height="2" fill="#000080"/><rect x="145" y="551" width="3" height="2" fill="#000080"/><rect x="270" y="551" width="2" height="2" fill="#000080"/><rect x="416" y="551" width="2" height="2" fill="#000080"/><rect x="174" y="553" width="2" height="3" fill="#000080"/><rect x="350" y="553" width="2" height="3" fill="#000080"/><rect x="435" y="553" width="2" height="3" fill="#000080"/><rect x="148" y="560" width="2" height="3" fill="#000080"/><rect x="272" y="560" width="3" height="3" fill="#000080"/><rect x="527" y="560" width="2" height="3" fill="#000080"/><rect x="823" y="560" width="2" height="3" fill="#000080"/><rect x="148" y="565" width="2" height="2" fill="#000080"/><rect x="159" y="565" width="3" height="2" fill="#000080"/><rect x="256" y="565" width="2" height="2" fill="#000080"/><rect x="272" y="565" width="3" height="2" fill="#000080"/><rect x="336" y="565" width="2" height="2" fill="#000080"/><rect x="421" y="565" width="2" height="2" fill="#000080"/><rect x="461" y="565" width="2" height="2" fill="#0000f0"/><rect x="679" y="565" width="3" height="2" fill="#000080"/><rect x="792" y="565" width="3" height="2" fill="#0000f0"/><rect x="825" y="565" width="3" height="2" fill="#000080"/><rect x="148" y="567" width="2" height="3" fill="#000080"/><rect x="263" y="567" width="5" height="3" fill="#000080"/><rect x="461" y="567" width="2" height="3" fill="#0000f0"/><rect x="679" y="567" width="3" height="3" fill="#000080"/><rect x="684" y="567" width="3" height="3" fill="#000080"/><rect x="792" y="567" width="3" height="3" fill="#0000f0"/><rect x="141" y="570" width="2" height="2" fill="#000080"/><rect x="270" y="570" width="2" height="2" fill="#0050ff"/><rect x="272" y="570" width="3" height="2" fill="#000080"/><rect x="343" y="570" width="2" height="2" fill="#000080"/><rect x="371" y="570" width="3" height="2" fill="#000080"/><rect x="461" y="570" width="2" height="2" fill="#0000f0"/><rect x="710" y="570" width="2" height="2" fill="#000080"/><rect x="788" y="570" width="2" height="2" fill="#000080"/><rect x="792" y="570" width="3" height="2" fill="#000080"/><rect x="148" y="572" width="2" height="2" fill="#000080"/><rect x="221" y="572" width="2" height="2" fill="#000080"/><rect x="249" y="572" width="2" height="2" fill="#000080"/><rect x="263" y="572" width="2" height="2" fill="#000080"/><rect x="270" y="572" width="2" height="2" fill="#0050ff"/><rect x="272" y="572" width="3" height="2" fill="#000080"/><rect x="329" y="572" width="2" height="2" fill="#000080"/><rect x="679" y="572" width="3" height="2" fill="#0000f0"/><rect x="684" y="572" width="3" height="2" fill="#000080"/><rect x="795" y="572" width="2" height="2" fill="#000080"/><rect x="145" y="574" width="3" height="3" fill="#000080"/><rect x="223" y="574" width="2" height="3" fill="#000080"/><rect x="268" y="574" width="2" height="3" fill="#000080"/><rect x="272" y="574" width="3" height="3" fill="#000080"/><rect x="322" y="574" width="2" height="3" fill="#000080"/><rect x="385" y="574" width="3" height="3" fill="#000080"/><rect x="435" y="574" width="2" height="3" fill="#000080"/><rect x="449" y="574" width="2" height="3" fill="#000080"/><rect x="684" y="574" width="3" height="3" fill="#000080"/><rect x="712" y="574" width="3" height="3" fill="#000080"/><rect x="795" y="574" width="2" height="3" fill="#0050ff"/><rect x="823" y="574" width="2" height="3" fill="#000080"/><rect x="150" y="577" width="2" height="2" fill="#000080"/><rect x="218" y="577" width="3" height="2" fill="#000080"/><rect x="256" y="577" width="2" height="2" fill="#000080"/><rect x="272" y="577" width="3" height="2" fill="#000080"/><rect x="795" y="577" width="2" height="2" fill="#0050ff"/><rect x="814" y="577" width="2" height="2" fill="#000080"/><rect x="823" y="577" width="2" height="2" fill="#000080"/><rect x="223" y="579" width="5" height="2" fill="#000080"/><rect x="270" y="579" width="2" height="2" fill="#0000f0"/><rect x="350" y="579" width="2" height="2" fill="#000080"/><rect x="461" y="579" width="2" height="2" fill="#000080"/><rect x="684" y="579" width="3" height="2" fill="#0050ff"/><rect x="687" y="579" width="2" height="2" fill="#000080"/><rect x="748" y="579" width="2" height="2" fill="#000080"/><rect x="792" y="579" width="3" height="2" fill="#000080"/><rect x="174" y="584" width="2" height="2" fill="#000080"/><rect x="206" y="584" width="3" height="2" fill="#000080"/><rect x="223" y="584" width="2" height="2" fill="#0050ff"/><rect x="303" y="584" width="2" height="2" fill="#000080"/><rect x="397" y="584" width="2" height="2" fill="#000080"/><rect x="425" y="584" width="3" height="2" fill="#000080"/><rect x="482" y="584" width="2" height="2" fill="#000080"/><rect x="522" y="584" width="2" height="2" fill="#000080"/><rect x="708" y="584" width="2" height="2" fill="#000080"/><rect x="731" y="584" width="3" height="2" fill="#000080"/><rect x="752" y="584" width="3" height="2" fill="#000080"/><rect x="797" y="584" width="2" height="2" fill="#000080"/><rect x="174" y="586" width="2" height="2" fill="#000080"/><rect x="221" y="586" width="2" height="2" fill="#000080"/><rect x="225" y="586" width="3" height="2" fill="#000080"/><rect x="272" y="586" width="3" height="2" fill="#000080"/><rect x="301" y="586" width="2" height="2" fill="#000080"/><rect x="421" y="586" width="2" height="2" fill="#000080"/><rect x="731" y="586" width="3" height="2" fill="#000080"/><rect x="752" y="586" width="3" height="2" fill="#000080"/><rect x="797" y="586" width="2" height="2" fill="#000080"/><rect x="814" y="586" width="4" height="2" fill="#000080"/><rect x="169" y="591" width="2" height="2" fill="#000080"/><rect x="171" y="591" width="3" height="2" fill="#0000f0"/><rect x="174" y="591" width="2" height="2" fill="#000080"/><rect x="206" y="591" width="3" height="2" fill="#000080"/><rect x="216" y="591" width="5" height="2" fill="#000080"/><rect x="223" y="591" width="2" height="2" fill="#0050ff"/><rect x="228" y="591" width="2" height="2" fill="#000080"/><rect x="232" y="591" width="3" height="2" fill="#000080"/><rect x="301" y="591" width="2" height="2" fill="#000080"/><rect x="310" y="591" width="2" height="2" fill="#000080"/><rect x="428" y="591" width="2" height="2" fill="#000080"/><rect x="463" y="591" width="2" height="2" fill="#000080"/><rect x="482" y="591" width="2" height="2" fill="#000080"/><rect x="486" y="591" width="3" height="2" fill="#000080"/><rect x="677" y="591" width="2" height="2" fill="#000080"/><rect x="774" y="591" width="2" height="2" fill="#000080"/><rect x="792" y="591" width="7" height="2" fill="#000080"/><rect x="814" y="591" width="2" height="2" fill="#000080"/><rect x="821" y="591" width="2" height="2" fill="#0000f0"/><rect x="174" y="593" width="2" height="2" fill="#000080"/><rect x="190" y="593" width="2" height="2" fill="#000080"/><rect x="214" y="593" width="2" height="2" fill="#000080"/><rect x="218" y="593" width="3" height="2" fill="#000080"/><rect x="223" y="593" width="2" height="2" fill="#0050ff"/><rect x="270" y="593" width="2" height="2" fill="#000080"/><rect x="357" y="593" width="2" height="2" fill="#000080"/><rect x="399" y="593" width="3" height="2" fill="#000080"/><rect x="477" y="593" width="2" height="2" fill="#000080"/><rect x="482" y="593" width="2" height="2" fill="#0050ff"/><rect x="501" y="593" width="4" height="2" fill="#000080"/><rect x="536" y="593" width="2" height="2" fill="#000080"/><rect x="557" y="593" width="2" height="2" fill="#000080"/><rect x="583" y="593" width="2" height="2" fill="#000080"/><rect x="684" y="593" width="3" height="2" fill="#000080"/><rect x="691" y="593" width="3" height="2" fill="#000080"/><rect x="821" y="593" width="2" height="2" fill="#0000f0"/><rect x="174" y="595" width="2" height="3" fill="#000080"/><rect x="183" y="595" width="2" height="3" fill="#000080"/><rect x="209" y="595" width="2" height="3" fill="#000080"/><rect x="216" y="595" width="2" height="3" fill="#000080"/><rect x="225" y="595" width="3" height="3" fill="#000080"/><rect x="237" y="595" width="2" height="3" fill="#000080"/><rect x="268" y="595" width="4" height="3" fill="#000080"/><rect x="275" y="595" width="2" height="3" fill="#000080"/><rect x="315" y="595" width="2" height="3" fill="#000080"/><rect x="336" y="595" width="2" height="3" fill="#000080"/><rect x="392" y="595" width="3" height="3" fill="#000080"/><rect x="402" y="595" width="2" height="3" fill="#000080"/><rect x="458" y="595" width="3" height="3" fill="#000080"/><rect x="517" y="595" width="2" height="3" fill="#000080"/><rect x="536" y="595" width="2" height="3" fill="#000080"/><rect x="576" y="595" width="2" height="3" fill="#000080"/><rect x="609" y="595" width="2" height="3" fill="#000080"/><rect x="677" y="595" width="2" height="3" fill="#000080"/><rect x="715" y="595" width="2" height="3" fill="#000080"/><rect x="776" y="595" width="2" height="3" fill="#000080"/><rect x="192" y="598" width="3" height="2" fill="#000080"/><rect x="218" y="598" width="3" height="2" fill="#000080"/><rect x="242" y="598" width="2" height="2" fill="#000080"/><rect x="294" y="598" width="2" height="2" fill="#000080"/><rect x="319" y="598" width="3" height="2" fill="#000080"/><rect x="390" y="598" width="2" height="2" fill="#000080"/><rect x="503" y="598" width="2" height="2" fill="#000080"/><rect x="722" y="598" width="2" height="2" fill="#000080"/><rect x="734" y="598" width="2" height="2" fill="#000080"/><rect x="738" y="598" width="3" height="2" fill="#000080"/><rect x="755" y="598" width="2" height="2" fill="#000080"/><rect x="792" y="598" width="7" height="2" fill="#000080"/><rect x="811" y="598" width="5" height="2" fill="#000080"/><rect x="821" y="598" width="2" height="2" fill="#000080"/><rect x="150" y="602" width="2" height="3" fill="#000080"/><rect x="171" y="602" width="5" height="3" fill="#000080"/><rect x="209" y="602" width="2" height="3" fill="#000080"/><rect x="214" y="602" width="2" height="3" fill="#000080"/><rect x="225" y="602" width="3" height="3" fill="#000080"/><rect x="284" y="602" width="2" height="3" fill="#000080"/><rect x="296" y="602" width="2" height="3" fill="#000080"/><rect x="322" y="602" width="2" height="3" fill="#000080"/><rect x="362" y="602" width="2" height="3" fill="#000080"/><rect x="414" y="602" width="2" height="3" fill="#000080"/><rect x="428" y="602" width="2" height="3" fill="#000080"/><rect x="444" y="602" width="2" height="3" fill="#000080"/><rect x="503" y="602" width="2" height="3" fill="#0050ff"/><rect x="719" y="602" width="3" height="3" fill="#000080"/><rect x="176" y="605" width="2" height="2" fill="#000080"/><rect x="216" y="605" width="2" height="2" fill="#000080"/><rect x="221" y="605" width="4" height="2" fill="#000080"/><rect x="232" y="605" width="3" height="2" fill="#000080"/><rect x="308" y="605" width="2" height="2" fill="#000080"/><rect x="331" y="605" width="3" height="2" fill="#000080"/><rect x="383" y="605" width="2" height="2" fill="#000080"/><rect x="402" y="605" width="2" height="2" fill="#000080"/><rect x="435" y="605" width="2" height="2" fill="#000080"/><rect x="470" y="605" width="2" height="2" fill="#000080"/><rect x="477" y="605" width="2" height="2" fill="#000080"/><rect x="484" y="605" width="5" height="2" fill="#000080"/><rect x="503" y="605" width="2" height="2" fill="#000080"/><rect x="517" y="605" width="2" height="2" fill="#000080"/><rect x="524" y="605" width="3" height="2" fill="#000080"/><rect x="677" y="605" width="2" height="2" fill="#000080"/><rect x="717" y="605" width="2" height="2" fill="#000080"/><rect x="790" y="605" width="2" height="2" fill="#000080"/><rect x="823" y="605" width="2" height="2" fill="#000080"/><rect x="148" y="607" width="2" height="2" fill="#000080"/><rect x="174" y="607" width="2" height="2" fill="#000080"/><rect x="202" y="607" width="2" height="2" fill="#000080"/><rect x="221" y="607" width="2" height="2" fill="#000080"/><rect x="284" y="607" width="2" height="2" fill="#000080"/><rect x="294" y="607" width="2" height="2" fill="#000080"/><rect x="312" y="607" width="3" height="2" fill="#000080"/><rect x="324" y="607" width="2" height="2" fill="#000080"/><rect x="329" y="607" width="2" height="2" fill="#000080"/><rect x="385" y="607" width="3" height="2" fill="#000080"/><rect x="421" y="607" width="2" height="2" fill="#000080"/><rect x="456" y="607" width="2" height="2" fill="#000080"/><rect x="463" y="607" width="2" height="2" fill="#000080"/><rect x="477" y="607" width="2" height="2" fill="#000080"/><rect x="503" y="607" width="2" height="2" fill="#000080"/><rect x="527" y="607" width="2" height="2" fill="#000080"/><rect x="607" y="607" width="2" height="2" fill="#000080"/><rect x="764" y="607" width="3" height="2" fill="#000080"/><rect x="785" y="607" width="3" height="2" fill="#000080"/><rect x="823" y="607" width="2" height="2" fill="#000080"/><rect x="251" y="466" width="3" height="3" fill="#000080"/><rect x="461" y="466" width="2" height="3" fill="#000080"/><rect x="265" y="478" width="3" height="3" fill="#000080"/><rect x="277" y="474" width="2" height="2" fill="#000080"/><rect x="291" y="469" width="3" height="2" fill="#000080"/><rect x="324" y="469" width="2" height="2" fill="#000080"/><rect x="343" y="459" width="2" height="3" fill="#000080"/><rect x="355" y="488" width="2" height="2" fill="#000080"/><rect x="416" y="488" width="2" height="2" fill="#000080"/><rect x="286" y="509" width="3" height="2" fill="#000080"/><rect x="294" y="513" width="2" height="3" fill="#000080"/><rect x="322" y="544" width="2" height="2" fill="#000080"/><rect x="265" y="556" width="3" height="2" fill="#000080"/><rect x="385" y="556" width="3" height="2" fill="#000080"/><rect x="461" y="556" width="2" height="2" fill="#0000f0"/><rect x="559" y="556" width="3" height="2" fill="#000080"/><rect x="270" y="563" width="2" height="2" fill="#0000f0"/><rect x="503" y="563" width="2" height="2" fill="#000080"/><rect x="710" y="563" width="2" height="2" fill="#000080"/><rect x="792" y="563" width="3" height="2" fill="#0000f0"/><rect x="334" y="588" width="2" height="3" fill="#000080"/><rect x="383" y="588" width="2" height="3" fill="#000080"/><rect x="449" y="588" width="2" height="3" fill="#000080"/><rect x="679" y="588" width="3" height="3" fill="#000080"/><rect x="736" y="588" width="2" height="3" fill="#000080"/><rect x="421" y="495" width="2" height="2" fill="#000080"/><rect x="519" y="495" width="3" height="2" fill="#0000f0"/><rect x="404" y="502" width="2" height="2" fill="#000080"/><rect x="378" y="504" width="3" height="2" fill="#000080"/><rect x="418" y="511" width="3" height="2" fill="#000080"/><rect x="411" y="527" width="3" height="3" fill="#000080"/><rect x="399" y="534" width="3" height="3" fill="#000080"/><rect x="402" y="541" width="2" height="3" fill="#000080"/><rect x="731" y="541" width="3" height="3" fill="#000080"/><rect x="477" y="539" width="2" height="2" fill="#000080"/><rect x="576" y="431" width="2" height="3" fill="#000080"/><rect x="512" y="471" width="3" height="3" fill="#000080"/><rect x="649" y="471" width="2" height="3" fill="#000080"/><rect x="557" y="481" width="2" height="2" fill="#000080"/><rect x="592" y="485" width="3" height="3" fill="#000080"/><rect x="517" y="549" width="2" height="2" fill="#000080"/><rect x="682" y="549" width="2" height="2" fill="#000080"/><rect x="559" y="558" width="3" height="2" fill="#000080"/><rect x="654" y="558" width="2" height="2" fill="#000080"/><rect x="503" y="581" width="2" height="3" fill="#000080"/><rect x="790" y="581" width="2" height="3" fill="#000080"/><rect x="531" y="609" width="5" height="3" fill="#000080"/><rect x="545" y="609" width="3" height="3" fill="#000080"/><rect x="701" y="537" width="2" height="2" fill="#000080"/><rect x="736" y="457" width="2" height="2" fill="#000080"/><rect x="795" y="600" width="4" height="2" fill="#000080"/><rect x="823" y="600" width="2" height="2" fill="#000080"/></g></g><path d="M133.5,422.5H839.5V683.5H133.5Z" fill="none" stroke="#262626" stroke-width="1"/><path d="M133.5,683.66h-5M839.5,683.66h4M133.5,679.09h-5M839.5,679.09h4M133.5,675.12h-5M839.5,675.12h4M133.5,671.63h-5M839.5,671.63h4M133.5,668.50h-9M839.5,668.50h8M133.5,647.92h-5M839.5,647.92h4M133.5,635.89h-5M839.5,635.89h4M133.5,627.35h-5M839.5,627.35h4M133.5,620.73h-5M839.5,620.73h4M133.5,615.31h-5M839.5,615.31h4M133.5,610.74h-5M839.5,610.74h4M133.5,606.77h-5M839.5,606.77h4M133.5,603.28h-5M839.5,603.28h4M133.5,600.15h-9M839.5,600.15h8M133.5,579.57h-5M839.5,579.57h4M133.5,567.54h-5M839.5,567.54h4M133.5,559.00h-5M839.5,559.00h4M133.5,552.38h-5M839.5,552.38h4M133.5,546.96h-5M839.5,546.96h4M133.5,542.39h-5M839.5,542.39h4M133.5,538.42h-5M839.5,538.42h4M133.5,534.93h-5M839.5,534.93h4M133.5,531.80h-9M839.5,531.80h8M133.5,511.22h-5M839.5,511.22h4M133.5,499.19h-5M839.5,499.19h4M133.5,490.65h-5M839.5,490.65h4M133.5,484.03h-5M839.5,484.03h4M133.5,478.61h-5M839.5,478.61h4M133.5,474.04h-5M839.5,474.04h4M133.5,470.07h-5M839.5,470.07h4M133.5,466.58h-5M839.5,466.58h4M133.5,463.45h-9M839.5,463.45h8M133.5,442.87h-5M839.5,442.87h4M133.5,430.84h-5M839.5,430.84h4M133.5,422.30h-5M839.5,422.30h4M133.50,422.5v-8M133.50,683.5v8M250.50,422.5v-8M250.50,683.5v8M368.50,422.5v-8M368.50,683.5v8M486.50,422.5v-8M486.50,683.5v8M603.50,422.5v-8M603.50,683.5v8M721.50,422.5v-8M721.50,683.5v8M839.50,422.5v-8M839.50,683.5v8" stroke="#262626" stroke-width="1" fill="none"/><text transform="translate(119.30,674.20) scale(1,1.04)" text-anchor="end" class="tl">10</text><text transform="translate(119.30,605.85) scale(1,1.04)" text-anchor="end" class="tl">100</text><text transform="translate(119.30,537.50) scale(1,1.04)" text-anchor="end" class="tl">1000</text><text transform="translate(119.30,469.15) scale(1,1.04)" text-anchor="end" class="tl">10000</text><text transform="translate(132.70,713.70) scale(1,1.04)" text-anchor="middle" class="tl">20:00</text><text transform="translate(250.37,713.70) scale(1,1.04)" text-anchor="middle" class="tl">20:10</text><text transform="translate(368.03,713.70) scale(1,1.04)" text-anchor="middle" class="tl">20:20</text><text transform="translate(485.70,713.70) scale(1,1.04)" text-anchor="middle" class="tl">20:30</text><text transform="translate(603.37,713.70) scale(1,1.04)" text-anchor="middle" class="tl">20:40</text><text transform="translate(721.03,713.70) scale(1,1.04)" text-anchor="middle" class="tl">20:50</text><text transform="translate(838.70,713.70) scale(1,1.04)" text-anchor="middle" class="tl">21:00</text><text transform="translate(486.50,739.50) scale(1,1.06)" text-anchor="middle" class="lb">Time</text><text transform="translate(52.00,553.70) rotate(-90) scale(1,1.07)" text-anchor="middle" class="lb">Energy (eV)</text><text transform="translate(486.50,413.10)" text-anchor="middle" class="tt">Cometary Ions</text><rect x="873.5" y="422.5" width="23" height="261.0" fill="url(#jet)" stroke="#262626" stroke-width="1"/><text transform="translate(902.90,689.00) scale(1,1.04)" text-anchor="start" class="tl">0</text><text transform="translate(902.90,636.80) scale(1,1.04)" text-anchor="start" class="tl">1</text><text transform="translate(902.90,584.60) scale(1,1.04)" text-anchor="start" class="tl">2</text><text transform="translate(902.90,532.40) scale(1,1.04)" text-anchor="start" class="tl">3</text><text transform="translate(902.90,480.20) scale(1,1.04)" text-anchor="start" class="tl">4</text><text transform="translate(902.90,428.00) scale(1,1.04)" text-anchor="start" class="tl">5</text><text transform="translate(836.20,410.80) scale(1,1.02)" text-anchor="start" class="cl">Log counts</text><text transform="translate(487.30,25.00) scale(1,1.055)" text-anchor="middle" class="tt">RPCICA160616T20.PNG</text>
</svg></body></html>
